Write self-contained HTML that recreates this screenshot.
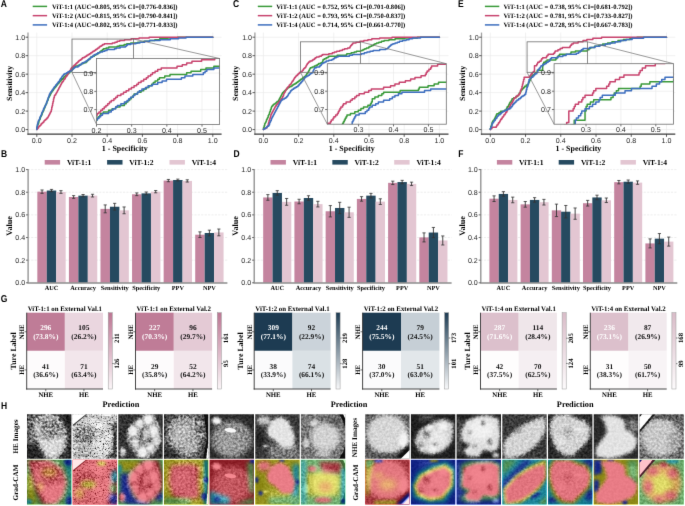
<!DOCTYPE html>
<html><head><meta charset="utf-8"><style>
html,body{margin:0;padding:0;background:#fff;}
svg{display:block;} text{text-rendering:geometricPrecision;}
</style></head><body>
<svg width="685" height="506" viewBox="0 0 685 506">
<defs><filter id="soft" x="0" y="0" width="685" height="506" filterUnits="userSpaceOnUse" color-interpolation-filters="sRGB"><feConvolveMatrix order="3" kernelMatrix="0 1 0 1 10 1 0 1 0" divisor="14" edgeMode="duplicate"/></filter></defs>
<g filter="url(#soft)">
<rect width="685" height="506" fill="#fff"/>
<text transform="translate(0.7 7.3) scale(0.86 1)" font-family='"Liberation Sans", sans-serif' font-size="9.9" font-weight="bold" fill="#000">A</text>
<text transform="translate(233.0 7.3) scale(0.86 1)" font-family='"Liberation Sans", sans-serif' font-size="9.9" font-weight="bold" fill="#000">C</text>
<text transform="translate(458.0 7.3) scale(0.86 1)" font-family='"Liberation Sans", sans-serif' font-size="9.9" font-weight="bold" fill="#000">E</text>
<text transform="translate(0.9 156.5) scale(0.86 1)" font-family='"Liberation Sans", sans-serif' font-size="9.9" font-weight="bold" fill="#000">B</text>
<text transform="translate(233.4 156.5) scale(0.86 1)" font-family='"Liberation Sans", sans-serif' font-size="9.9" font-weight="bold" fill="#000">D</text>
<text transform="translate(458.2 156.5) scale(0.86 1)" font-family='"Liberation Sans", sans-serif' font-size="9.9" font-weight="bold" fill="#000">F</text>
<text transform="translate(0.8 302.4) scale(0.86 1)" font-family='"Liberation Sans", sans-serif' font-size="9.9" font-weight="bold" fill="#000">G</text>
<text transform="translate(0.9 409.4) scale(0.86 1)" font-family='"Liberation Sans", sans-serif' font-size="9.9" font-weight="bold" fill="#000">H</text>
<line x1="36.8" y1="32.58" x2="36.8" y2="134.22" stroke="#ebebeb" stroke-width="0.7"/>
<line x1="28" y1="129.6" x2="221.6" y2="129.6" stroke="#ebebeb" stroke-width="0.7"/>
<line x1="72" y1="32.58" x2="72" y2="134.22" stroke="#ebebeb" stroke-width="0.7"/>
<line x1="28" y1="111.12" x2="221.6" y2="111.12" stroke="#ebebeb" stroke-width="0.7"/>
<line x1="107.2" y1="32.58" x2="107.2" y2="134.22" stroke="#ebebeb" stroke-width="0.7"/>
<line x1="28" y1="92.64" x2="221.6" y2="92.64" stroke="#ebebeb" stroke-width="0.7"/>
<line x1="142.4" y1="32.58" x2="142.4" y2="134.22" stroke="#ebebeb" stroke-width="0.7"/>
<line x1="28" y1="74.16" x2="221.6" y2="74.16" stroke="#ebebeb" stroke-width="0.7"/>
<line x1="177.6" y1="32.58" x2="177.6" y2="134.22" stroke="#ebebeb" stroke-width="0.7"/>
<line x1="28" y1="55.68" x2="221.6" y2="55.68" stroke="#ebebeb" stroke-width="0.7"/>
<line x1="212.8" y1="32.58" x2="212.8" y2="134.22" stroke="#ebebeb" stroke-width="0.7"/>
<line x1="28" y1="37.2" x2="221.6" y2="37.2" stroke="#ebebeb" stroke-width="0.7"/>
<clipPath id="clipm28"><rect x="28" y="32.58" width="193.6" height="101.64"/></clipPath>
<path d="M36.8,129.6 36.8,127.95 37.24,127.95 37.24,126.3 37.68,126.3 37.68,124.65 38.12,124.65 38.12,123.82 38.56,123.82 38.56,122.17 38.99,122.17 38.99,120.52 39.43,120.52 39.43,119.7 39.87,119.7 39.87,118.88 40.31,118.88 40.31,117.22 40.75,117.22 40.75,116.4 41.19,116.4 41.19,115.57 41.63,115.57 41.63,114.75 42.07,114.75 42.07,113.1 42.51,113.1 42.51,112.27 42.94,112.27 42.94,111.45 43.38,111.45 43.38,110.62 43.82,110.62 43.82,108.97 44.26,108.97 44.26,108.15 44.7,108.15 44.7,107.32 45.14,107.32 45.14,105.67 45.58,105.67 45.58,104.85 46.02,104.85 46.02,104.02 46.46,104.02 46.46,103.2 46.89,103.2 46.89,101.55 47.33,101.55 47.33,100.72 47.77,100.72 47.77,99.9 48.21,99.9 48.21,98.25 48.65,98.25 48.65,97.42 49.09,97.42 49.09,96.6 49.53,96.6 49.53,95.77 49.97,95.77 49.97,94.95 50.41,94.95 50.41,94.12 50.84,94.12 50.84,93.3 51.28,93.3 51.28,92.47 51.72,92.47 51.72,91.65 52.16,91.65 52.16,90.82 53.04,90.82 53.04,90 53.48,90 53.48,89.17 53.92,89.17 53.92,88.35 54.8,88.35 54.8,87.52 55.23,87.52 55.23,86.7 56.11,86.7 56.11,85.88 56.55,85.88 56.55,85.05 57.43,85.05 57.43,84.22 57.87,84.22 57.87,83.4 58.75,83.4 58.75,82.57 59.62,82.57 59.62,81.75 60.06,81.75 60.06,80.92 60.94,80.92 60.94,80.1 61.82,80.1 61.82,79.28 62.7,79.28 62.7,78.45 63.57,78.45 63.57,77.62 64.01,77.62 64.01,76.8 64.89,76.8 64.89,75.97 65.77,75.97 65.77,75.15 67.08,75.15 67.08,74.32 67.96,74.32 67.96,73.5 68.84,73.5 68.84,72.67 69.72,72.67 69.72,71.85 70.6,71.85 70.6,71.02 71.47,71.02 71.47,70.2 72.35,70.2 72.35,69.37 72.79,69.37 72.79,68.55 73.67,68.55 73.67,67.72 74.11,67.72 74.11,66.9 75.42,66.9 75.42,66.07 78.06,66.07 78.06,65.25 79.81,65.25 79.81,64.42 81.57,64.42 81.57,63.6 83.76,63.6 83.76,62.77 85.96,62.77 85.96,61.95 86.83,61.95 86.83,61.12 87.71,61.12 87.71,60.3 88.59,60.3 88.59,59.47 89.47,59.47 89.47,58.65 90.35,58.65 90.35,57.82 90.79,57.82 90.79,57 92.54,57 92.54,56.17 94.3,56.17 94.3,55.35 95.61,55.35 95.61,54.52 96.93,54.52 96.93,53.7 98.25,53.7 98.25,52.87 99.56,52.87 99.56,52.05 100.44,52.05 100.44,51.22 101.32,51.22 101.32,50.4 102.64,50.4 102.64,49.57 103.51,49.57 103.51,48.75 106.15,48.75 106.15,47.92 108.78,47.92 108.78,47.1 117.12,47.1 117.12,46.27 119.31,46.27 119.31,45.45 124.14,45.45 124.14,44.62 126.78,44.62 126.78,43.8 130.73,43.8 130.73,42.97 137.75,42.97 137.75,42.15 143.89,42.15 143.89,41.32 149.6,41.32 149.6,40.5 154.86,40.5 154.86,39.67 159.69,39.67 159.69,38.85 167.59,38.85 167.59,38.02 177.69,38.02 177.69,37.2 212.8,37.2" fill="none" stroke="#3a9a3a" stroke-width="1.5" stroke-linejoin="round" stroke-linecap="round" clip-path="url(#clipm28)"/>
<path d="M36.8,129.6 37.24,129.6 37.24,128.78 37.68,128.78 37.68,127.95 38.56,127.95 38.56,127.12 38.99,127.12 38.99,126.3 39.87,126.3 39.87,125.47 40.75,125.47 40.75,124.65 41.19,124.65 41.19,123.82 42.07,123.82 42.07,123 42.94,123 42.94,122.17 43.82,122.17 43.82,121.35 44.26,121.35 44.26,120.52 45.14,120.52 45.14,119.7 46.02,119.7 46.02,118.88 46.89,118.88 46.89,118.05 47.77,118.05 47.77,117.22 48.21,117.22 48.21,116.4 48.65,116.4 48.65,115.57 49.09,115.57 49.09,114.75 49.53,114.75 49.53,113.92 49.97,113.92 49.97,113.1 50.41,113.1 50.41,112.27 50.84,112.27 50.84,111.45 51.28,111.45 51.28,109.8 51.72,109.8 51.72,107.32 52.16,107.32 52.16,105.67 52.6,105.67 52.6,103.2 53.04,103.2 53.04,101.55 53.48,101.55 53.48,99.07 53.92,99.07 53.92,97.42 54.36,97.42 54.36,95.77 54.8,95.77 54.8,94.95 55.67,94.95 55.67,94.12 56.11,94.12 56.11,93.3 56.55,93.3 56.55,92.47 56.99,92.47 56.99,91.65 57.43,91.65 57.43,90.82 57.87,90.82 57.87,90 58.31,90 58.31,89.17 58.75,89.17 58.75,88.35 59.18,88.35 59.18,87.52 59.62,87.52 59.62,86.7 60.06,86.7 60.06,85.88 60.5,85.88 60.5,85.05 60.94,85.05 60.94,84.22 61.38,84.22 61.38,83.4 61.82,83.4 61.82,82.57 62.26,82.57 62.26,81.75 63.13,81.75 63.13,80.92 63.57,80.92 63.57,80.1 64.01,80.1 64.01,79.28 64.89,79.28 64.89,78.45 65.33,78.45 65.33,77.62 65.77,77.62 65.77,76.8 66.21,76.8 66.21,75.97 67.08,75.97 67.08,75.15 67.52,75.15 67.52,74.32 67.96,74.32 67.96,73.5 68.4,73.5 68.4,72.67 68.84,72.67 68.84,71.85 69.28,71.85 69.28,71.02 70.16,71.02 70.16,70.2 70.6,70.2 70.6,69.37 71.03,69.37 71.03,68.55 71.47,68.55 71.47,67.72 72.35,67.72 72.35,66.9 73.23,66.9 73.23,66.07 74.11,66.07 74.11,65.25 74.98,65.25 74.98,64.42 75.86,64.42 75.86,63.6 76.74,63.6 76.74,62.77 77.62,62.77 77.62,61.95 78.5,61.95 78.5,61.12 79.37,61.12 79.37,60.3 80.69,60.3 80.69,59.47 81.57,59.47 81.57,58.65 82.45,58.65 82.45,57.82 84.2,57.82 84.2,57 85.52,57 85.52,56.17 86.83,56.17 86.83,55.35 88.15,55.35 88.15,54.52 89.47,54.52 89.47,53.7 90.79,53.7 90.79,52.87 92.1,52.87 92.1,52.05 92.98,52.05 92.98,51.22 94.3,51.22 94.3,50.4 95.61,50.4 95.61,49.57 96.93,49.57 96.93,48.75 97.81,48.75 97.81,47.92 99.12,47.92 99.12,47.1 100,47.1 100,46.27 101.32,46.27 101.32,45.45 102.64,45.45 102.64,44.62 104.39,44.62 104.39,43.8 112.29,43.8 112.29,42.97 114.92,42.97 114.92,42.15 117.12,42.15 117.12,41.32 119.75,41.32 119.75,40.5 124.58,40.5 124.58,39.67 131.16,39.67 131.16,38.85 139.06,38.85 139.06,38.02 149.16,38.02 149.16,37.2 212.8,37.2" fill="none" stroke="#c8446e" stroke-width="1.5" stroke-linejoin="round" stroke-linecap="round" clip-path="url(#clipm28)"/>
<path d="M36.8,129.6 36.8,127.12 37.24,127.12 37.24,124.65 37.68,124.65 37.68,123 38.12,123 38.12,121.35 38.56,121.35 38.56,120.52 38.99,120.52 38.99,119.7 39.43,119.7 39.43,118.88 39.87,118.88 39.87,117.22 40.31,117.22 40.31,116.4 40.75,116.4 40.75,115.57 41.19,115.57 41.19,114.75 41.63,114.75 41.63,113.1 42.07,113.1 42.07,112.27 42.51,112.27 42.51,111.45 42.94,111.45 42.94,110.62 43.38,110.62 43.38,108.97 43.82,108.97 43.82,108.15 44.26,108.15 44.26,107.32 44.7,107.32 44.7,106.5 45.14,106.5 45.14,105.67 45.58,105.67 45.58,104.85 46.02,104.85 46.02,104.02 46.46,104.02 46.46,102.38 46.89,102.38 46.89,101.55 47.33,101.55 47.33,99.9 47.77,99.9 47.77,99.07 48.21,99.07 48.21,97.42 48.65,97.42 48.65,96.6 49.09,96.6 49.09,94.95 49.53,94.95 49.53,94.12 49.97,94.12 49.97,93.3 50.41,93.3 50.41,92.47 50.84,92.47 50.84,91.65 51.72,91.65 51.72,90.82 52.16,90.82 52.16,90 52.6,90 52.6,89.17 53.48,89.17 53.48,88.35 53.92,88.35 53.92,87.52 54.36,87.52 54.36,86.7 55.23,86.7 55.23,85.88 55.67,85.88 55.67,85.05 56.55,85.05 56.55,84.22 56.99,84.22 56.99,83.4 57.87,83.4 57.87,82.57 58.31,82.57 58.31,81.75 59.18,81.75 59.18,80.92 59.62,80.92 59.62,80.1 60.06,80.1 60.06,79.28 60.5,79.28 60.5,78.45 61.38,78.45 61.38,77.62 61.82,77.62 61.82,76.8 62.26,76.8 62.26,75.97 63.13,75.97 63.13,75.15 63.57,75.15 63.57,74.32 64.89,74.32 64.89,73.5 66.65,73.5 66.65,72.67 67.96,72.67 67.96,71.85 69.72,71.85 69.72,71.02 71.47,71.02 71.47,70.2 72.35,70.2 72.35,69.37 73.23,69.37 73.23,68.55 74.11,68.55 74.11,67.72 74.98,67.72 74.98,66.9 78.06,66.9 78.06,66.07 79.37,66.07 79.37,65.25 80.25,65.25 80.25,64.42 81.57,64.42 81.57,63.6 82.45,63.6 82.45,62.77 84.2,62.77 84.2,61.95 85.96,61.95 85.96,61.12 87.27,61.12 87.27,60.3 88.15,60.3 88.15,59.47 89.03,59.47 89.03,58.65 90.35,58.65 90.35,57.82 91.22,57.82 91.22,57 92.54,57 92.54,56.17 93.42,56.17 93.42,55.35 94.74,55.35 94.74,54.52 96.49,54.52 96.49,53.7 97.81,53.7 97.81,52.87 100,52.87 100,52.05 102.64,52.05 102.64,51.22 104.83,51.22 104.83,50.4 107.02,50.4 107.02,49.57 114.49,49.57 114.49,48.75 116.24,48.75 116.24,47.92 120.19,47.92 120.19,47.1 125.46,47.1 125.46,46.27 126.34,46.27 126.34,45.45 127.21,45.45 127.21,44.62 130.73,44.62 130.73,43.8 135.99,43.8 135.99,42.97 139.94,42.97 139.94,42.15 144.77,42.15 144.77,41.32 149.6,41.32 149.6,40.5 160.13,40.5 160.13,39.67 170.23,39.67 170.23,38.85 178.57,38.85 178.57,38.02 186.03,38.02 186.03,37.2 212.8,37.2" fill="none" stroke="#3d6ebf" stroke-width="1.5" stroke-linejoin="round" stroke-linecap="round" clip-path="url(#clipm28)"/>
<line x1="28" y1="32.58" x2="28" y2="134.82" stroke="#a0a0a0" stroke-width="1.3"/>
<line x1="27.4" y1="134.22" x2="221.6" y2="134.22" stroke="#3a3a3a" stroke-width="1.2"/>
<line x1="25.6" y1="129.6" x2="28" y2="129.6" stroke="#333" stroke-width="0.8"/>
<text x="25.1" y="132.1" font-family='"Liberation Sans", sans-serif' font-size="7.1" font-weight="normal" text-anchor="end" fill="#262626">0.0</text>
<line x1="36.8" y1="134.22" x2="36.8" y2="136.82" stroke="#333" stroke-width="0.8"/>
<text x="36.8" y="143.22" font-family='"Liberation Sans", sans-serif' font-size="7.1" font-weight="normal" text-anchor="middle" fill="#262626">0.0</text>
<line x1="25.6" y1="111.12" x2="28" y2="111.12" stroke="#333" stroke-width="0.8"/>
<text x="25.1" y="113.62" font-family='"Liberation Sans", sans-serif' font-size="7.1" font-weight="normal" text-anchor="end" fill="#262626">0.2</text>
<line x1="72" y1="134.22" x2="72" y2="136.82" stroke="#333" stroke-width="0.8"/>
<text x="72" y="143.22" font-family='"Liberation Sans", sans-serif' font-size="7.1" font-weight="normal" text-anchor="middle" fill="#262626">0.2</text>
<line x1="25.6" y1="92.64" x2="28" y2="92.64" stroke="#333" stroke-width="0.8"/>
<text x="25.1" y="95.14" font-family='"Liberation Sans", sans-serif' font-size="7.1" font-weight="normal" text-anchor="end" fill="#262626">0.4</text>
<line x1="107.2" y1="134.22" x2="107.2" y2="136.82" stroke="#333" stroke-width="0.8"/>
<text x="107.2" y="143.22" font-family='"Liberation Sans", sans-serif' font-size="7.1" font-weight="normal" text-anchor="middle" fill="#262626">0.4</text>
<line x1="25.6" y1="74.16" x2="28" y2="74.16" stroke="#333" stroke-width="0.8"/>
<text x="25.1" y="76.66" font-family='"Liberation Sans", sans-serif' font-size="7.1" font-weight="normal" text-anchor="end" fill="#262626">0.6</text>
<line x1="142.4" y1="134.22" x2="142.4" y2="136.82" stroke="#333" stroke-width="0.8"/>
<text x="142.4" y="143.22" font-family='"Liberation Sans", sans-serif' font-size="7.1" font-weight="normal" text-anchor="middle" fill="#262626">0.6</text>
<line x1="25.6" y1="55.68" x2="28" y2="55.68" stroke="#333" stroke-width="0.8"/>
<text x="25.1" y="58.18" font-family='"Liberation Sans", sans-serif' font-size="7.1" font-weight="normal" text-anchor="end" fill="#262626">0.8</text>
<line x1="177.6" y1="134.22" x2="177.6" y2="136.82" stroke="#333" stroke-width="0.8"/>
<text x="177.6" y="143.22" font-family='"Liberation Sans", sans-serif' font-size="7.1" font-weight="normal" text-anchor="middle" fill="#262626">0.8</text>
<line x1="25.6" y1="37.2" x2="28" y2="37.2" stroke="#333" stroke-width="0.8"/>
<text x="25.1" y="39.7" font-family='"Liberation Sans", sans-serif' font-size="7.1" font-weight="normal" text-anchor="end" fill="#262626">1.0</text>
<line x1="212.8" y1="134.22" x2="212.8" y2="136.82" stroke="#333" stroke-width="0.8"/>
<text x="212.8" y="143.22" font-family='"Liberation Sans", sans-serif' font-size="7.1" font-weight="normal" text-anchor="middle" fill="#262626">1.0</text>
<text x="124.8" y="151" font-family='"Liberation Serif", serif' font-size="7.95" font-weight="bold" text-anchor="middle" fill="#000">1 - Specificity</text>
<text x="12.3" y="83.4" font-family='"Liberation Serif", serif' font-size="7.9" font-weight="bold" text-anchor="middle" fill="#000" transform="rotate(-90 12.3 83.4)">Sensitivity</text>
<rect x="72" y="39.05" width="61.6" height="33.36" fill="none" stroke="#6e6e6e" stroke-width="0.8"/>
<line x1="133.6" y1="39.05" x2="219.6" y2="58.5" stroke="#6e6e6e" stroke-width="0.7"/>
<line x1="72" y1="72.4" x2="96.5" y2="124.4" stroke="#6e6e6e" stroke-width="0.7"/>
<rect x="96.5" y="58.5" width="123.1" height="65.9" fill="#fff"/>
<line x1="96.5" y1="58.5" x2="96.5" y2="124.4" stroke="#ebebeb" stroke-width="0.7"/>
<line x1="96.5" y1="124.4" x2="96.5" y2="126.6" stroke="#333" stroke-width="0.7"/>
<text x="96.5" y="132.6" font-family='"Liberation Sans", sans-serif' font-size="7.1" font-weight="normal" text-anchor="middle" fill="#262626">0.2</text>
<line x1="131.67" y1="58.5" x2="131.67" y2="124.4" stroke="#ebebeb" stroke-width="0.7"/>
<line x1="131.67" y1="124.4" x2="131.67" y2="126.6" stroke="#333" stroke-width="0.7"/>
<text x="131.67" y="132.6" font-family='"Liberation Sans", sans-serif' font-size="7.1" font-weight="normal" text-anchor="middle" fill="#262626">0.3</text>
<line x1="166.84" y1="58.5" x2="166.84" y2="124.4" stroke="#ebebeb" stroke-width="0.7"/>
<line x1="166.84" y1="124.4" x2="166.84" y2="126.6" stroke="#333" stroke-width="0.7"/>
<text x="166.84" y="132.6" font-family='"Liberation Sans", sans-serif' font-size="7.1" font-weight="normal" text-anchor="middle" fill="#262626">0.4</text>
<line x1="202.01" y1="58.5" x2="202.01" y2="124.4" stroke="#ebebeb" stroke-width="0.7"/>
<line x1="202.01" y1="124.4" x2="202.01" y2="126.6" stroke="#333" stroke-width="0.7"/>
<text x="202.01" y="132.6" font-family='"Liberation Sans", sans-serif' font-size="7.1" font-weight="normal" text-anchor="middle" fill="#262626">0.5</text>
<line x1="96.5" y1="109.61" x2="219.6" y2="109.61" stroke="#ebebeb" stroke-width="0.7"/>
<line x1="94.3" y1="109.61" x2="96.5" y2="109.61" stroke="#333" stroke-width="0.7"/>
<text x="93.3" y="112.11" font-family='"Liberation Sans", sans-serif' font-size="7.1" font-weight="normal" text-anchor="end" fill="#262626">0.7</text>
<line x1="96.5" y1="91.36" x2="219.6" y2="91.36" stroke="#ebebeb" stroke-width="0.7"/>
<line x1="94.3" y1="91.36" x2="96.5" y2="91.36" stroke="#333" stroke-width="0.7"/>
<text x="93.3" y="93.86" font-family='"Liberation Sans", sans-serif' font-size="7.1" font-weight="normal" text-anchor="end" fill="#262626">0.8</text>
<line x1="96.5" y1="73.1" x2="219.6" y2="73.1" stroke="#ebebeb" stroke-width="0.7"/>
<line x1="94.3" y1="73.1" x2="96.5" y2="73.1" stroke="#333" stroke-width="0.7"/>
<text x="93.3" y="75.6" font-family='"Liberation Sans", sans-serif' font-size="7.1" font-weight="normal" text-anchor="end" fill="#262626">0.9</text>
<clipPath id="clipi28"><rect x="96.5" y="58.5" width="123.1" height="65.9"/></clipPath>
<path d="M26.16,237.4 26.16,234.14 27.03,234.14 27.03,230.88 27.91,230.88 27.91,227.62 28.79,227.62 28.79,225.99 29.67,225.99 29.67,222.73 30.54,222.73 30.54,219.47 31.42,219.47 31.42,217.84 32.3,217.84 32.3,216.21 33.17,216.21 33.17,212.95 34.05,212.95 34.05,211.32 34.93,211.32 34.93,209.69 35.81,209.69 35.81,208.06 36.68,208.06 36.68,204.8 37.56,204.8 37.56,203.17 38.44,203.17 38.44,201.54 39.31,201.54 39.31,199.91 40.19,199.91 40.19,196.65 41.07,196.65 41.07,195.02 41.94,195.02 41.94,193.39 42.82,193.39 42.82,190.13 43.7,190.13 43.7,188.5 44.58,188.5 44.58,186.87 45.45,186.87 45.45,185.24 46.33,185.24 46.33,181.98 47.21,181.98 47.21,180.35 48.08,180.35 48.08,178.72 48.96,178.72 48.96,175.46 49.84,175.46 49.84,173.83 50.72,173.83 50.72,172.2 51.59,172.2 51.59,170.57 52.47,170.57 52.47,168.94 53.35,168.94 53.35,167.31 54.22,167.31 54.22,165.68 55.1,165.68 55.1,164.05 55.98,164.05 55.98,162.42 56.86,162.42 56.86,160.79 58.61,160.79 58.61,159.16 59.49,159.16 59.49,157.53 60.36,157.53 60.36,155.9 62.12,155.9 62.12,154.27 63,154.27 63,152.64 64.75,152.64 64.75,151.01 65.63,151.01 65.63,149.38 67.38,149.38 67.38,147.75 68.26,147.75 68.26,146.12 70.01,146.12 70.01,144.49 71.77,144.49 71.77,142.86 72.64,142.86 72.64,141.23 74.4,141.23 74.4,139.6 76.15,139.6 76.15,137.97 77.91,137.97 77.91,136.34 79.66,136.34 79.66,134.71 80.54,134.71 80.54,133.08 82.29,133.08 82.29,131.45 84.05,131.45 84.05,129.82 86.68,129.82 86.68,128.19 88.43,128.19 88.43,126.56 90.18,126.56 90.18,124.93 91.94,124.93 91.94,123.3 93.69,123.3 93.69,121.67 95.45,121.67 95.45,120.04 97.2,120.04 97.2,118.42 98.08,118.42 98.08,116.79 99.83,116.79 99.83,115.16 100.71,115.16 100.71,113.53 103.34,113.53 103.34,111.9 108.6,111.9 108.6,110.27 112.11,110.27 112.11,108.64 115.62,108.64 115.62,107.01 120.01,107.01 120.01,105.38 124.39,105.38 124.39,103.75 126.15,103.75 126.15,102.12 127.9,102.12 127.9,100.49 129.65,100.49 129.65,98.86 131.41,98.86 131.41,97.23 133.16,97.23 133.16,95.6 134.04,95.6 134.04,93.97 137.55,93.97 137.55,92.34 141.06,92.34 141.06,90.71 143.69,90.71 143.69,89.08 146.32,89.08 146.32,87.45 148.95,87.45 148.95,85.82 151.58,85.82 151.58,84.19 153.34,84.19 153.34,82.56 155.09,82.56 155.09,80.93 157.72,80.93 157.72,79.3 159.48,79.3 159.48,77.67 164.74,77.67 164.74,76.04 170,76.04 170,74.41 186.67,74.41 186.67,72.78 191.05,72.78 191.05,71.15 200.7,71.15 200.7,69.52 205.96,69.52 205.96,67.89 213.86,67.89 213.86,66.26 227.89,66.26 227.89,64.63 240.17,64.63 240.17,63 251.57,63 251.57,61.37 262.1,61.37 262.1,59.74 271.74,59.74 271.74,58.11 287.53,58.11 287.53,56.48 307.7,56.48 307.7,54.85 377.87,54.85" fill="none" stroke="#3a9a3a" stroke-width="1.5" stroke-linejoin="round" clip-path="url(#clipi28)"/>
<path d="M26.16,237.4 27.03,237.4 27.03,235.77 27.91,235.77 27.91,234.14 29.67,234.14 29.67,232.51 30.54,232.51 30.54,230.88 32.3,230.88 32.3,229.25 34.05,229.25 34.05,227.62 34.93,227.62 34.93,225.99 36.68,225.99 36.68,224.36 38.44,224.36 38.44,222.73 40.19,222.73 40.19,221.1 41.07,221.1 41.07,219.47 42.82,219.47 42.82,217.84 44.58,217.84 44.58,216.21 46.33,216.21 46.33,214.58 48.08,214.58 48.08,212.95 48.96,212.95 48.96,211.32 49.84,211.32 49.84,209.69 50.72,209.69 50.72,208.06 51.59,208.06 51.59,206.43 52.47,206.43 52.47,204.8 53.35,204.8 53.35,203.17 54.22,203.17 54.22,201.54 55.1,201.54 55.1,198.28 55.98,198.28 55.98,193.39 56.86,193.39 56.86,190.13 57.73,190.13 57.73,185.24 58.61,185.24 58.61,181.98 59.49,181.98 59.49,177.09 60.36,177.09 60.36,173.83 61.24,173.83 61.24,170.57 62.12,170.57 62.12,168.94 63.87,168.94 63.87,167.31 64.75,167.31 64.75,165.68 65.63,165.68 65.63,164.05 66.5,164.05 66.5,162.42 67.38,162.42 67.38,160.79 68.26,160.79 68.26,159.16 69.13,159.16 69.13,157.53 70.01,157.53 70.01,155.9 70.89,155.9 70.89,154.27 71.77,154.27 71.77,152.64 72.64,152.64 72.64,151.01 73.52,151.01 73.52,149.38 74.4,149.38 74.4,147.75 75.27,147.75 75.27,146.12 76.15,146.12 76.15,144.49 77.03,144.49 77.03,142.86 78.78,142.86 78.78,141.23 79.66,141.23 79.66,139.6 80.54,139.6 80.54,137.97 82.29,137.97 82.29,136.34 83.17,136.34 83.17,134.71 84.05,134.71 84.05,133.08 84.92,133.08 84.92,131.45 86.68,131.45 86.68,129.82 87.55,129.82 87.55,128.19 88.43,128.19 88.43,126.56 89.31,126.56 89.31,124.93 90.18,124.93 90.18,123.3 91.06,123.3 91.06,121.67 92.82,121.67 92.82,120.04 93.69,120.04 93.69,118.42 94.57,118.42 94.57,116.79 95.45,116.79 95.45,115.16 97.2,115.16 97.2,113.53 98.96,113.53 98.96,111.9 100.71,111.9 100.71,110.27 102.46,110.27 102.46,108.64 104.22,108.64 104.22,107.01 105.97,107.01 105.97,105.38 107.73,105.38 107.73,103.75 109.48,103.75 109.48,102.12 111.24,102.12 111.24,100.49 113.87,100.49 113.87,98.86 115.62,98.86 115.62,97.23 117.37,97.23 117.37,95.6 120.88,95.6 120.88,93.97 123.51,93.97 123.51,92.34 126.15,92.34 126.15,90.71 128.78,90.71 128.78,89.08 131.41,89.08 131.41,87.45 134.04,87.45 134.04,85.82 136.67,85.82 136.67,84.19 138.43,84.19 138.43,82.56 141.06,82.56 141.06,80.93 143.69,80.93 143.69,79.3 146.32,79.3 146.32,77.67 148.07,77.67 148.07,76.04 150.7,76.04 150.7,74.41 152.46,74.41 152.46,72.78 155.09,72.78 155.09,71.15 157.72,71.15 157.72,69.52 161.23,69.52 161.23,67.89 177.02,67.89 177.02,66.26 182.28,66.26 182.28,64.63 186.67,64.63 186.67,63 191.93,63 191.93,61.37 201.58,61.37 201.58,59.74 214.73,59.74 214.73,58.11 230.52,58.11 230.52,56.48 250.69,56.48 250.69,54.85 377.87,54.85" fill="none" stroke="#c8446e" stroke-width="1.5" stroke-linejoin="round" clip-path="url(#clipi28)"/>
<path d="M26.16,237.4 26.16,232.51 27.03,232.51 27.03,227.62 27.91,227.62 27.91,224.36 28.79,224.36 28.79,221.1 29.67,221.1 29.67,219.47 30.54,219.47 30.54,217.84 31.42,217.84 31.42,216.21 32.3,216.21 32.3,212.95 33.17,212.95 33.17,211.32 34.05,211.32 34.05,209.69 34.93,209.69 34.93,208.06 35.81,208.06 35.81,204.8 36.68,204.8 36.68,203.17 37.56,203.17 37.56,201.54 38.44,201.54 38.44,199.91 39.31,199.91 39.31,196.65 40.19,196.65 40.19,195.02 41.07,195.02 41.07,193.39 41.94,193.39 41.94,191.76 42.82,191.76 42.82,190.13 43.7,190.13 43.7,188.5 44.58,188.5 44.58,186.87 45.45,186.87 45.45,183.61 46.33,183.61 46.33,181.98 47.21,181.98 47.21,178.72 48.08,178.72 48.08,177.09 48.96,177.09 48.96,173.83 49.84,173.83 49.84,172.2 50.72,172.2 50.72,168.94 51.59,168.94 51.59,167.31 52.47,167.31 52.47,165.68 53.35,165.68 53.35,164.05 54.22,164.05 54.22,162.42 55.98,162.42 55.98,160.79 56.86,160.79 56.86,159.16 57.73,159.16 57.73,157.53 59.49,157.53 59.49,155.9 60.36,155.9 60.36,154.27 61.24,154.27 61.24,152.64 63,152.64 63,151.01 63.87,151.01 63.87,149.38 65.63,149.38 65.63,147.75 66.5,147.75 66.5,146.12 68.26,146.12 68.26,144.49 69.13,144.49 69.13,142.86 70.89,142.86 70.89,141.23 71.77,141.23 71.77,139.6 72.64,139.6 72.64,137.97 73.52,137.97 73.52,136.34 75.27,136.34 75.27,134.71 76.15,134.71 76.15,133.08 77.03,133.08 77.03,131.45 78.78,131.45 78.78,129.82 79.66,129.82 79.66,128.19 82.29,128.19 82.29,126.56 85.8,126.56 85.8,124.93 88.43,124.93 88.43,123.3 91.94,123.3 91.94,121.67 95.45,121.67 95.45,120.04 97.2,120.04 97.2,118.42 98.96,118.42 98.96,116.79 100.71,116.79 100.71,115.16 102.46,115.16 102.46,113.53 108.6,113.53 108.6,111.9 111.24,111.9 111.24,110.27 112.99,110.27 112.99,108.64 115.62,108.64 115.62,107.01 117.37,107.01 117.37,105.38 120.88,105.38 120.88,103.75 124.39,103.75 124.39,102.12 127.02,102.12 127.02,100.49 128.78,100.49 128.78,98.86 130.53,98.86 130.53,97.23 133.16,97.23 133.16,95.6 134.92,95.6 134.92,93.97 137.55,93.97 137.55,92.34 139.3,92.34 139.3,90.71 141.93,90.71 141.93,89.08 145.44,89.08 145.44,87.45 148.07,87.45 148.07,85.82 152.46,85.82 152.46,84.19 157.72,84.19 157.72,82.56 162.11,82.56 162.11,80.93 166.49,80.93 166.49,79.3 181.4,79.3 181.4,77.67 184.91,77.67 184.91,76.04 192.8,76.04 192.8,74.41 203.33,74.41 203.33,72.78 205.08,72.78 205.08,71.15 206.84,71.15 206.84,69.52 213.86,69.52 213.86,67.89 224.38,67.89 224.38,66.26 232.27,66.26 232.27,64.63 241.92,64.63 241.92,63 251.57,63 251.57,61.37 272.62,61.37 272.62,59.74 292.79,59.74 292.79,58.11 309.46,58.11 309.46,56.48 324.37,56.48 324.37,54.85 377.87,54.85" fill="none" stroke="#3d6ebf" stroke-width="1.5" stroke-linejoin="round" clip-path="url(#clipi28)"/>
<rect x="96.5" y="58.5" width="123.1" height="65.9" fill="none" stroke="#6e6e6e" stroke-width="0.8"/>
<line x1="32.7" y1="6.4" x2="47.1" y2="6.4" stroke="#3a9a3a" stroke-width="1.5"/>
<text x="51.9" y="8.7" font-family='"Liberation Serif", serif' font-size="6.6" font-weight="bold" text-anchor="start" fill="#000">ViT-1:1 (AUC=0.805, 95% CI=[0.776-0.836])</text>
<line x1="32.7" y1="15.65" x2="47.1" y2="15.65" stroke="#c8446e" stroke-width="1.5"/>
<text x="51.9" y="17.95" font-family='"Liberation Serif", serif' font-size="6.6" font-weight="bold" text-anchor="start" fill="#000">ViT-1:2 (AUC=0.815, 95% CI=[0.790-0.841])</text>
<line x1="32.7" y1="24.9" x2="47.1" y2="24.9" stroke="#3d6ebf" stroke-width="1.5"/>
<text x="51.9" y="27.2" font-family='"Liberation Serif", serif' font-size="6.6" font-weight="bold" text-anchor="start" fill="#000">ViT-1:4 (AUC=0.802, 95% CI=[0.771-0.833])</text>
<line x1="263.4" y1="32.58" x2="263.4" y2="134.22" stroke="#ebebeb" stroke-width="0.7"/>
<line x1="254.9" y1="129.6" x2="448.5" y2="129.6" stroke="#ebebeb" stroke-width="0.7"/>
<line x1="298.6" y1="32.58" x2="298.6" y2="134.22" stroke="#ebebeb" stroke-width="0.7"/>
<line x1="254.9" y1="111.12" x2="448.5" y2="111.12" stroke="#ebebeb" stroke-width="0.7"/>
<line x1="333.8" y1="32.58" x2="333.8" y2="134.22" stroke="#ebebeb" stroke-width="0.7"/>
<line x1="254.9" y1="92.64" x2="448.5" y2="92.64" stroke="#ebebeb" stroke-width="0.7"/>
<line x1="369" y1="32.58" x2="369" y2="134.22" stroke="#ebebeb" stroke-width="0.7"/>
<line x1="254.9" y1="74.16" x2="448.5" y2="74.16" stroke="#ebebeb" stroke-width="0.7"/>
<line x1="404.2" y1="32.58" x2="404.2" y2="134.22" stroke="#ebebeb" stroke-width="0.7"/>
<line x1="254.9" y1="55.68" x2="448.5" y2="55.68" stroke="#ebebeb" stroke-width="0.7"/>
<line x1="439.4" y1="32.58" x2="439.4" y2="134.22" stroke="#ebebeb" stroke-width="0.7"/>
<line x1="254.9" y1="37.2" x2="448.5" y2="37.2" stroke="#ebebeb" stroke-width="0.7"/>
<clipPath id="clipm254"><rect x="254.9" y="32.58" width="193.6" height="101.64"/></clipPath>
<path d="M263.4,129.6 263.4,127.95 263.84,127.95 263.84,127.12 264.28,127.12 264.28,125.47 264.72,125.47 264.72,123.82 265.16,123.82 265.16,123 265.59,123 265.59,122.17 266.03,122.17 266.03,121.35 266.47,121.35 266.47,119.7 266.91,119.7 266.91,118.88 267.35,118.88 267.35,118.05 267.79,118.05 267.79,117.22 268.23,117.22 268.23,115.57 268.67,115.57 268.67,114.75 269.11,114.75 269.11,113.92 269.54,113.92 269.54,112.27 269.98,112.27 269.98,111.45 270.42,111.45 270.42,109.8 270.86,109.8 270.86,108.97 271.3,108.97 271.3,107.32 271.74,107.32 271.74,106.5 272.18,106.5 272.18,105.67 273.06,105.67 273.06,104.85 273.93,104.85 273.93,104.02 275.25,104.02 275.25,103.2 276.13,103.2 276.13,102.38 277.01,102.38 277.01,101.55 278.32,101.55 278.32,100.72 278.76,100.72 278.76,99.9 279.2,99.9 279.2,99.07 279.64,99.07 279.64,98.25 280.08,98.25 280.08,97.42 280.52,97.42 280.52,96.6 280.96,96.6 280.96,95.77 281.4,95.77 281.4,94.95 281.83,94.95 281.83,94.12 282.27,94.12 282.27,93.3 282.71,93.3 282.71,92.47 283.59,92.47 283.59,91.65 284.47,91.65 284.47,90.82 285.35,90.82 285.35,90 286.22,90 286.22,89.17 287.1,89.17 287.1,88.35 287.98,88.35 287.98,87.52 289.3,87.52 289.3,86.7 291.05,86.7 291.05,85.88 292.37,85.88 292.37,85.05 293.68,85.05 293.68,84.22 295,84.22 295,83.4 296.32,83.4 296.32,82.57 297.63,82.57 297.63,81.75 298.51,81.75 298.51,80.92 299.83,80.92 299.83,80.1 300.71,80.1 300.71,79.28 302.02,79.28 302.02,78.45 302.9,78.45 302.9,77.62 304.22,77.62 304.22,76.8 305.1,76.8 305.1,75.97 305.97,75.97 305.97,75.15 306.41,75.15 306.41,74.32 306.85,74.32 306.85,73.5 307.73,73.5 307.73,72.67 308.17,72.67 308.17,71.85 308.61,71.85 308.61,71.02 309.05,71.02 309.05,70.2 309.48,70.2 309.48,69.37 309.92,69.37 309.92,68.55 310.36,68.55 310.36,67.72 312.12,67.72 312.12,66.9 314.31,66.9 314.31,66.07 316.07,66.07 316.07,65.25 317.39,65.25 317.39,64.42 318.7,64.42 318.7,63.6 320.9,63.6 320.9,62.77 322.21,62.77 322.21,61.95 322.65,61.95 322.65,61.12 323.09,61.12 323.09,59.47 324.41,59.47 324.41,58.65 326.16,58.65 326.16,57.82 327.92,57.82 327.92,57 328.8,57 328.8,56.17 337.14,56.17 337.14,55.35 346.35,55.35 346.35,54.52 346.79,54.52 346.79,53.7 351.18,53.7 351.18,52.87 354.25,52.87 354.25,52.05 356.45,52.05 356.45,51.22 360.84,51.22 360.84,50.4 363.03,50.4 363.03,49.57 364.79,49.57 364.79,48.75 366.54,48.75 366.54,47.92 368.74,47.92 368.74,47.1 370.05,47.1 370.05,46.27 371.81,46.27 371.81,45.45 373.56,45.45 373.56,44.62 374.88,44.62 374.88,43.8 376.64,43.8 376.64,42.97 378.83,42.97 378.83,42.15 381.46,42.15 381.46,41.32 384.1,41.32 384.1,40.5 388.93,40.5 388.93,39.67 395.07,39.67 395.07,38.85 404.73,38.85 404.73,38.02 417.45,38.02 417.45,37.2 439.4,37.2" fill="none" stroke="#3a9a3a" stroke-width="1.5" stroke-linejoin="round" stroke-linecap="round" clip-path="url(#clipm254)"/>
<path d="M263.4,129.6 263.84,129.6 263.84,128.78 265.16,128.78 265.16,127.95 266.91,127.95 266.91,127.12 267.35,127.12 267.35,126.3 267.79,126.3 267.79,125.47 268.23,125.47 268.23,123.82 268.67,123.82 268.67,122.17 269.11,122.17 269.11,120.52 269.54,120.52 269.54,118.88 269.98,118.88 269.98,118.05 270.42,118.05 270.42,116.4 270.86,116.4 270.86,114.75 271.3,114.75 271.3,113.92 271.74,113.92 271.74,113.1 272.18,113.1 272.18,112.27 272.62,112.27 272.62,111.45 273.06,111.45 273.06,110.62 273.49,110.62 273.49,109.8 273.93,109.8 273.93,108.97 274.37,108.97 274.37,108.15 274.81,108.15 274.81,107.32 275.25,107.32 275.25,106.5 275.69,106.5 275.69,105.67 276.57,105.67 276.57,104.85 277.01,104.85 277.01,104.02 277.88,104.02 277.88,103.2 278.32,103.2 278.32,102.38 279.2,102.38 279.2,101.55 279.64,101.55 279.64,100.72 280.52,100.72 280.52,99.9 280.96,99.9 280.96,99.07 281.83,99.07 281.83,98.25 282.27,98.25 282.27,97.42 282.71,97.42 282.71,96.6 283.15,96.6 283.15,95.77 283.59,95.77 283.59,94.12 284.03,94.12 284.03,93.3 284.47,93.3 284.47,92.47 284.91,92.47 284.91,91.65 285.35,91.65 285.35,90.82 285.78,90.82 285.78,90 286.22,90 286.22,89.17 286.66,89.17 286.66,88.35 287.54,88.35 287.54,87.52 287.98,87.52 287.98,86.7 288.86,86.7 288.86,85.88 289.3,85.88 289.3,85.05 290.17,85.05 290.17,84.22 291.05,84.22 291.05,83.4 291.49,83.4 291.49,82.57 291.93,82.57 291.93,81.75 292.37,81.75 292.37,80.92 293.25,80.92 293.25,80.1 293.68,80.1 293.68,79.28 294.12,79.28 294.12,78.45 294.56,78.45 294.56,77.62 295.44,77.62 295.44,76.8 295.88,76.8 295.88,75.97 296.76,75.97 296.76,75.15 297.63,75.15 297.63,74.32 298.51,74.32 298.51,73.5 299.39,73.5 299.39,72.67 300.27,72.67 300.27,71.85 302.02,71.85 302.02,71.02 302.46,71.02 302.46,70.2 303.34,70.2 303.34,69.37 303.78,69.37 303.78,68.55 304.66,68.55 304.66,67.72 305.53,67.72 305.53,66.9 305.97,66.9 305.97,66.07 306.41,66.07 306.41,65.25 306.85,65.25 306.85,64.42 307.29,64.42 307.29,63.6 308.17,63.6 308.17,62.77 308.61,62.77 308.61,61.95 309.92,61.95 309.92,61.12 312.12,61.12 312.12,60.3 313,60.3 313,59.47 314.31,59.47 314.31,58.65 315.19,58.65 315.19,57.82 316.51,57.82 316.51,57 319.14,57 319.14,56.17 321.34,56.17 321.34,55.35 322.65,55.35 322.65,54.52 328.8,54.52 328.8,53.7 332.31,53.7 332.31,52.87 334.5,52.87 334.5,52.05 336.7,52.05 336.7,51.22 339.77,51.22 339.77,50.4 342.4,50.4 342.4,49.57 344.6,49.57 344.6,48.75 347.67,48.75 347.67,47.92 349.86,47.92 349.86,47.1 350.3,47.1 350.3,46.27 350.74,46.27 350.74,45.45 351.62,45.45 351.62,44.62 352.5,44.62 352.5,43.8 352.94,43.8 352.94,42.97 356.01,42.97 356.01,42.15 359.96,42.15 359.96,41.32 363.91,41.32 363.91,40.5 367.86,40.5 367.86,39.67 371.81,39.67 371.81,38.85 379.71,38.85 379.71,38.02 392,38.02 392,37.2 439.4,37.2" fill="none" stroke="#c8446e" stroke-width="1.5" stroke-linejoin="round" stroke-linecap="round" clip-path="url(#clipm254)"/>
<path d="M263.4,129.6 263.84,129.6 263.84,128.78 265.16,128.78 265.16,127.95 266.47,127.95 266.47,127.12 267.35,127.12 267.35,126.3 268.67,126.3 268.67,125.47 269.11,125.47 269.11,124.65 269.54,124.65 269.54,123 269.98,123 269.98,122.17 270.42,122.17 270.42,121.35 270.86,121.35 270.86,120.52 271.3,120.52 271.3,118.88 271.74,118.88 271.74,118.05 272.18,118.05 272.18,117.22 272.62,117.22 272.62,116.4 273.06,116.4 273.06,115.57 273.49,115.57 273.49,114.75 273.93,114.75 273.93,113.92 274.37,113.92 274.37,113.1 274.81,113.1 274.81,112.27 275.25,112.27 275.25,111.45 275.69,111.45 275.69,110.62 276.13,110.62 276.13,109.8 276.57,109.8 276.57,108.97 277.01,108.97 277.01,108.15 277.44,108.15 277.44,107.32 277.88,107.32 277.88,106.5 278.32,106.5 278.32,105.67 278.76,105.67 278.76,104.85 279.2,104.85 279.2,104.02 279.64,104.02 279.64,103.2 280.08,103.2 280.08,102.38 280.52,102.38 280.52,101.55 280.96,101.55 280.96,100.72 281.4,100.72 281.4,99.9 282.71,99.9 282.71,99.07 284.47,99.07 284.47,98.25 285.78,98.25 285.78,97.42 286.66,97.42 286.66,96.6 287.54,96.6 287.54,95.77 287.98,95.77 287.98,94.95 288.42,94.95 288.42,94.12 288.86,94.12 288.86,93.3 289.73,93.3 289.73,92.47 290.17,92.47 290.17,91.65 290.61,91.65 290.61,90.82 291.49,90.82 291.49,90 292.37,90 292.37,89.17 293.68,89.17 293.68,88.35 295,88.35 295,87.52 296.32,87.52 296.32,86.7 297.63,86.7 297.63,85.88 298.51,85.88 298.51,85.05 299.39,85.05 299.39,84.22 299.83,84.22 299.83,83.4 300.71,83.4 300.71,82.57 301.58,82.57 301.58,81.75 302.02,81.75 302.02,80.92 302.9,80.92 302.9,80.1 303.34,80.1 303.34,79.28 304.22,79.28 304.22,78.45 304.66,78.45 304.66,77.62 305.53,77.62 305.53,76.8 306.85,76.8 306.85,75.97 308.17,75.97 308.17,75.15 309.48,75.15 309.48,74.32 310.36,74.32 310.36,73.5 311.68,73.5 311.68,72.67 313,72.67 313,71.02 313.43,71.02 313.43,70.2 313.87,70.2 313.87,69.37 314.31,69.37 314.31,68.55 314.75,68.55 314.75,67.72 316.51,67.72 316.51,66.9 319.58,66.9 319.58,66.07 320.46,66.07 320.46,65.25 321.34,65.25 321.34,64.42 321.77,64.42 321.77,63.6 323.09,63.6 323.09,62.77 324.85,62.77 324.85,61.95 326.16,61.95 326.16,61.12 328.8,61.12 328.8,60.3 331.87,60.3 331.87,59.47 333.19,59.47 333.19,58.65 334.5,58.65 334.5,57.82 336.26,57.82 336.26,57 338.01,57 338.01,56.17 349.42,56.17 349.42,55.35 352.5,55.35 352.5,54.52 361.28,54.52 361.28,53.7 364.35,53.7 364.35,52.87 366.98,52.87 366.98,52.05 370.05,52.05 370.05,51.22 373.13,51.22 373.13,50.4 379.71,50.4 379.71,49.57 385.85,49.57 385.85,48.75 387.61,48.75 387.61,47.92 388.49,47.92 388.49,47.1 389.37,47.1 389.37,46.27 390.24,46.27 390.24,45.45 391.12,45.45 391.12,44.62 392.88,44.62 392.88,43.8 395.07,43.8 395.07,42.97 397.27,42.97 397.27,42.15 399.46,42.15 399.46,41.32 402.53,41.32 402.53,40.5 406.04,40.5 406.04,39.67 409.12,39.67 409.12,38.85 412.63,38.85 412.63,38.02 420.53,38.02 420.53,37.2 439.4,37.2" fill="none" stroke="#3d6ebf" stroke-width="1.5" stroke-linejoin="round" stroke-linecap="round" clip-path="url(#clipm254)"/>
<line x1="254.9" y1="32.58" x2="254.9" y2="134.82" stroke="#a0a0a0" stroke-width="1.3"/>
<line x1="254.3" y1="134.22" x2="448.5" y2="134.22" stroke="#3a3a3a" stroke-width="1.2"/>
<line x1="252.5" y1="129.6" x2="254.9" y2="129.6" stroke="#333" stroke-width="0.8"/>
<text x="252" y="132.1" font-family='"Liberation Sans", sans-serif' font-size="7.1" font-weight="normal" text-anchor="end" fill="#262626">0.0</text>
<line x1="263.4" y1="134.22" x2="263.4" y2="136.82" stroke="#333" stroke-width="0.8"/>
<text x="263.4" y="143.22" font-family='"Liberation Sans", sans-serif' font-size="7.1" font-weight="normal" text-anchor="middle" fill="#262626">0.0</text>
<line x1="252.5" y1="111.12" x2="254.9" y2="111.12" stroke="#333" stroke-width="0.8"/>
<text x="252" y="113.62" font-family='"Liberation Sans", sans-serif' font-size="7.1" font-weight="normal" text-anchor="end" fill="#262626">0.2</text>
<line x1="298.6" y1="134.22" x2="298.6" y2="136.82" stroke="#333" stroke-width="0.8"/>
<text x="298.6" y="143.22" font-family='"Liberation Sans", sans-serif' font-size="7.1" font-weight="normal" text-anchor="middle" fill="#262626">0.2</text>
<line x1="252.5" y1="92.64" x2="254.9" y2="92.64" stroke="#333" stroke-width="0.8"/>
<text x="252" y="95.14" font-family='"Liberation Sans", sans-serif' font-size="7.1" font-weight="normal" text-anchor="end" fill="#262626">0.4</text>
<line x1="333.8" y1="134.22" x2="333.8" y2="136.82" stroke="#333" stroke-width="0.8"/>
<text x="333.8" y="143.22" font-family='"Liberation Sans", sans-serif' font-size="7.1" font-weight="normal" text-anchor="middle" fill="#262626">0.4</text>
<line x1="252.5" y1="74.16" x2="254.9" y2="74.16" stroke="#333" stroke-width="0.8"/>
<text x="252" y="76.66" font-family='"Liberation Sans", sans-serif' font-size="7.1" font-weight="normal" text-anchor="end" fill="#262626">0.6</text>
<line x1="369" y1="134.22" x2="369" y2="136.82" stroke="#333" stroke-width="0.8"/>
<text x="369" y="143.22" font-family='"Liberation Sans", sans-serif' font-size="7.1" font-weight="normal" text-anchor="middle" fill="#262626">0.6</text>
<line x1="252.5" y1="55.68" x2="254.9" y2="55.68" stroke="#333" stroke-width="0.8"/>
<text x="252" y="58.18" font-family='"Liberation Sans", sans-serif' font-size="7.1" font-weight="normal" text-anchor="end" fill="#262626">0.8</text>
<line x1="404.2" y1="134.22" x2="404.2" y2="136.82" stroke="#333" stroke-width="0.8"/>
<text x="404.2" y="143.22" font-family='"Liberation Sans", sans-serif' font-size="7.1" font-weight="normal" text-anchor="middle" fill="#262626">0.8</text>
<line x1="252.5" y1="37.2" x2="254.9" y2="37.2" stroke="#333" stroke-width="0.8"/>
<text x="252" y="39.7" font-family='"Liberation Sans", sans-serif' font-size="7.1" font-weight="normal" text-anchor="end" fill="#262626">1.0</text>
<line x1="439.4" y1="134.22" x2="439.4" y2="136.82" stroke="#333" stroke-width="0.8"/>
<text x="439.4" y="143.22" font-family='"Liberation Sans", sans-serif' font-size="7.1" font-weight="normal" text-anchor="middle" fill="#262626">1.0</text>
<text x="351.7" y="151" font-family='"Liberation Serif", serif' font-size="7.95" font-weight="bold" text-anchor="middle" fill="#000">1 - Specificity</text>
<text x="238.3" y="83.4" font-family='"Liberation Serif", serif' font-size="7.9" font-weight="bold" text-anchor="middle" fill="#000" transform="rotate(-90 238.3 83.4)">Sensitivity</text>
<rect x="300.47" y="41.82" width="59.91" height="30.49" fill="none" stroke="#6e6e6e" stroke-width="0.8"/>
<line x1="360.38" y1="41.82" x2="446.3" y2="63.7" stroke="#6e6e6e" stroke-width="0.7"/>
<line x1="300.47" y1="72.31" x2="327.3" y2="124.2" stroke="#6e6e6e" stroke-width="0.7"/>
<rect x="327.3" y="63.7" width="119" height="60.5" fill="#fff"/>
<line x1="358.55" y1="63.7" x2="358.55" y2="124.2" stroke="#ebebeb" stroke-width="0.7"/>
<line x1="358.55" y1="124.2" x2="358.55" y2="126.4" stroke="#333" stroke-width="0.7"/>
<text x="358.55" y="132.4" font-family='"Liberation Sans", sans-serif' font-size="7.1" font-weight="normal" text-anchor="middle" fill="#262626">0.3</text>
<line x1="393.51" y1="63.7" x2="393.51" y2="124.2" stroke="#ebebeb" stroke-width="0.7"/>
<line x1="393.51" y1="124.2" x2="393.51" y2="126.4" stroke="#333" stroke-width="0.7"/>
<text x="393.51" y="132.4" font-family='"Liberation Sans", sans-serif' font-size="7.1" font-weight="normal" text-anchor="middle" fill="#262626">0.4</text>
<line x1="428.47" y1="63.7" x2="428.47" y2="124.2" stroke="#ebebeb" stroke-width="0.7"/>
<line x1="428.47" y1="124.2" x2="428.47" y2="126.4" stroke="#333" stroke-width="0.7"/>
<text x="428.47" y="132.4" font-family='"Liberation Sans", sans-serif' font-size="7.1" font-weight="normal" text-anchor="middle" fill="#262626">0.5</text>
<line x1="327.3" y1="109.53" x2="446.3" y2="109.53" stroke="#ebebeb" stroke-width="0.7"/>
<line x1="325.1" y1="109.53" x2="327.3" y2="109.53" stroke="#333" stroke-width="0.7"/>
<text x="324.1" y="112.03" font-family='"Liberation Sans", sans-serif' font-size="7.1" font-weight="normal" text-anchor="end" fill="#262626">0.7</text>
<line x1="327.3" y1="91.2" x2="446.3" y2="91.2" stroke="#ebebeb" stroke-width="0.7"/>
<line x1="325.1" y1="91.2" x2="327.3" y2="91.2" stroke="#333" stroke-width="0.7"/>
<text x="324.1" y="93.7" font-family='"Liberation Sans", sans-serif' font-size="7.1" font-weight="normal" text-anchor="end" fill="#262626">0.8</text>
<line x1="327.3" y1="72.87" x2="446.3" y2="72.87" stroke="#ebebeb" stroke-width="0.7"/>
<line x1="325.1" y1="72.87" x2="327.3" y2="72.87" stroke="#333" stroke-width="0.7"/>
<text x="324.1" y="75.37" font-family='"Liberation Sans", sans-serif' font-size="7.1" font-weight="normal" text-anchor="end" fill="#262626">0.9</text>
<clipPath id="clipi254"><rect x="327.3" y="63.7" width="119" height="60.5"/></clipPath>
<path d="M253.68,237.87 253.68,234.59 254.55,234.59 254.55,232.96 255.42,232.96 255.42,229.68 256.29,229.68 256.29,226.41 257.16,226.41 257.16,224.77 258.04,224.77 258.04,223.13 258.91,223.13 258.91,221.5 259.78,221.5 259.78,218.22 260.65,218.22 260.65,216.59 261.52,216.59 261.52,214.95 262.39,214.95 262.39,213.31 263.27,213.31 263.27,210.04 264.14,210.04 264.14,208.4 265.01,208.4 265.01,206.77 265.88,206.77 265.88,203.49 266.75,203.49 266.75,201.85 267.63,201.85 267.63,198.58 268.5,198.58 268.5,196.94 269.37,196.94 269.37,193.67 270.24,193.67 270.24,192.03 271.11,192.03 271.11,190.4 272.86,190.4 272.86,188.76 274.6,188.76 274.6,187.12 277.22,187.12 277.22,185.49 278.96,185.49 278.96,183.85 280.7,183.85 280.7,182.21 283.32,182.21 283.32,180.58 284.19,180.58 284.19,178.94 285.06,178.94 285.06,177.3 285.93,177.3 285.93,175.66 286.8,175.66 286.8,174.03 287.68,174.03 287.68,172.39 288.55,172.39 288.55,170.75 289.42,170.75 289.42,169.12 290.29,169.12 290.29,167.48 291.16,167.48 291.16,165.84 292.04,165.84 292.04,164.21 293.78,164.21 293.78,162.57 295.52,162.57 295.52,160.93 297.27,160.93 297.27,159.3 299.01,159.3 299.01,157.66 300.75,157.66 300.75,156.02 302.5,156.02 302.5,154.38 305.11,154.38 305.11,152.75 308.6,152.75 308.6,151.11 311.21,151.11 311.21,149.47 313.83,149.47 313.83,147.84 316.45,147.84 316.45,146.2 319.06,146.2 319.06,144.56 321.68,144.56 321.68,142.93 323.42,142.93 323.42,141.29 326.04,141.29 326.04,139.65 327.78,139.65 327.78,138.02 330.39,138.02 330.39,136.38 332.14,136.38 332.14,134.74 334.75,134.74 334.75,133.1 336.5,133.1 336.5,131.47 338.24,131.47 338.24,129.83 339.11,129.83 339.11,128.19 339.98,128.19 339.98,126.56 341.73,126.56 341.73,124.92 342.6,124.92 342.6,123.28 343.47,123.28 343.47,121.65 344.34,121.65 344.34,120.01 345.21,120.01 345.21,118.37 346.09,118.37 346.09,116.74 346.96,116.74 346.96,115.1 350.45,115.1 350.45,113.46 354.8,113.46 354.8,111.83 358.29,111.83 358.29,110.19 360.91,110.19 360.91,108.55 363.52,108.55 363.52,106.91 367.88,106.91 367.88,105.28 370.5,105.28 370.5,103.64 371.37,103.64 371.37,102 372.24,102 372.24,98.73 374.86,98.73 374.86,97.09 378.34,97.09 378.34,95.46 381.83,95.46 381.83,93.82 383.57,93.82 383.57,92.18 400.14,92.18 400.14,90.55 418.45,90.55 418.45,88.91 419.32,88.91 419.32,87.27 428.04,87.27 428.04,85.63 434.14,85.63 434.14,84 438.5,84 438.5,82.36 447.21,82.36 447.21,80.72 451.57,80.72 451.57,79.09 455.06,79.09 455.06,77.45 458.55,77.45 458.55,75.81 462.91,75.81 462.91,74.18 465.52,74.18 465.52,72.54 469.01,72.54 469.01,70.9 472.5,70.9 472.5,69.27 475.11,69.27 475.11,67.63 478.6,67.63 478.6,65.99 482.96,65.99 482.96,64.35 488.19,64.35 488.19,62.72 493.42,62.72 493.42,61.08 503.01,61.08 503.01,59.44 515.21,59.44 515.21,57.81 534.39,57.81 534.39,56.17 559.68,56.17 559.68,54.53 603.27,54.53" fill="none" stroke="#3a9a3a" stroke-width="1.5" stroke-linejoin="round" clip-path="url(#clipi254)"/>
<path d="M253.68,237.87 254.55,237.87 254.55,236.23 257.16,236.23 257.16,234.59 260.65,234.59 260.65,232.96 261.52,232.96 261.52,231.32 262.39,231.32 262.39,229.68 263.27,229.68 263.27,226.41 264.14,226.41 264.14,223.13 265.01,223.13 265.01,219.86 265.88,219.86 265.88,216.59 266.75,216.59 266.75,214.95 267.63,214.95 267.63,211.68 268.5,211.68 268.5,208.4 269.37,208.4 269.37,206.77 270.24,206.77 270.24,205.13 271.11,205.13 271.11,203.49 271.98,203.49 271.98,201.85 272.86,201.85 272.86,200.22 273.73,200.22 273.73,198.58 274.6,198.58 274.6,196.94 275.47,196.94 275.47,195.31 276.34,195.31 276.34,193.67 277.22,193.67 277.22,192.03 278.09,192.03 278.09,190.4 279.83,190.4 279.83,188.76 280.7,188.76 280.7,187.12 282.45,187.12 282.45,185.49 283.32,185.49 283.32,183.85 285.06,183.85 285.06,182.21 285.93,182.21 285.93,180.58 287.68,180.58 287.68,178.94 288.55,178.94 288.55,177.3 290.29,177.3 290.29,175.66 291.16,175.66 291.16,174.03 292.04,174.03 292.04,172.39 292.91,172.39 292.91,170.75 293.78,170.75 293.78,167.48 294.65,167.48 294.65,165.84 295.52,165.84 295.52,164.21 296.39,164.21 296.39,162.57 297.27,162.57 297.27,160.93 298.14,160.93 298.14,159.3 299.01,159.3 299.01,157.66 299.88,157.66 299.88,156.02 301.63,156.02 301.63,154.38 302.5,154.38 302.5,152.75 304.24,152.75 304.24,151.11 305.11,151.11 305.11,149.47 306.86,149.47 306.86,147.84 308.6,147.84 308.6,146.2 309.47,146.2 309.47,144.56 310.34,144.56 310.34,142.93 311.21,142.93 311.21,141.29 312.96,141.29 312.96,139.65 313.83,139.65 313.83,138.02 314.7,138.02 314.7,136.38 315.57,136.38 315.57,134.74 317.32,134.74 317.32,133.1 318.19,133.1 318.19,131.47 319.93,131.47 319.93,129.83 321.68,129.83 321.68,128.19 323.42,128.19 323.42,126.56 325.16,126.56 325.16,124.92 326.91,124.92 326.91,123.28 330.39,123.28 330.39,121.65 331.27,121.65 331.27,120.01 333.01,120.01 333.01,118.37 333.88,118.37 333.88,116.74 335.63,116.74 335.63,115.1 337.37,115.1 337.37,113.46 338.24,113.46 338.24,111.83 339.11,111.83 339.11,110.19 339.98,110.19 339.98,108.55 340.86,108.55 340.86,106.91 342.6,106.91 342.6,105.28 343.47,105.28 343.47,103.64 346.09,103.64 346.09,102 350.45,102 350.45,100.37 352.19,100.37 352.19,98.73 354.8,98.73 354.8,97.09 356.55,97.09 356.55,95.46 359.16,95.46 359.16,93.82 364.39,93.82 364.39,92.18 368.75,92.18 368.75,90.55 371.37,90.55 371.37,88.91 383.57,88.91 383.57,87.27 390.55,87.27 390.55,85.63 394.91,85.63 394.91,84 399.27,84 399.27,82.36 405.37,82.36 405.37,80.72 410.6,80.72 410.6,79.09 414.96,79.09 414.96,77.45 421.06,77.45 421.06,75.81 425.42,75.81 425.42,74.18 426.29,74.18 426.29,72.54 427.16,72.54 427.16,70.9 428.91,70.9 428.91,69.27 430.65,69.27 430.65,67.63 431.52,67.63 431.52,65.99 437.62,65.99 437.62,64.35 445.47,64.35 445.47,62.72 453.32,62.72 453.32,61.08 461.16,61.08 461.16,59.44 469.01,59.44 469.01,57.81 484.7,57.81 484.7,56.17 509.11,56.17 509.11,54.53 603.27,54.53" fill="none" stroke="#c8446e" stroke-width="1.5" stroke-linejoin="round" clip-path="url(#clipi254)"/>
<path d="M253.68,237.87 254.55,237.87 254.55,236.23 257.16,236.23 257.16,234.59 259.78,234.59 259.78,232.96 261.52,232.96 261.52,231.32 264.14,231.32 264.14,229.68 265.01,229.68 265.01,228.05 265.88,228.05 265.88,224.77 266.75,224.77 266.75,223.13 267.63,223.13 267.63,221.5 268.5,221.5 268.5,219.86 269.37,219.86 269.37,216.59 270.24,216.59 270.24,214.95 271.11,214.95 271.11,213.31 271.98,213.31 271.98,211.68 272.86,211.68 272.86,210.04 273.73,210.04 273.73,208.4 274.6,208.4 274.6,206.77 275.47,206.77 275.47,205.13 276.34,205.13 276.34,203.49 277.22,203.49 277.22,201.85 278.09,201.85 278.09,200.22 278.96,200.22 278.96,198.58 279.83,198.58 279.83,196.94 280.7,196.94 280.7,195.31 281.57,195.31 281.57,193.67 282.45,193.67 282.45,192.03 283.32,192.03 283.32,190.4 284.19,190.4 284.19,188.76 285.06,188.76 285.06,187.12 285.93,187.12 285.93,185.49 286.8,185.49 286.8,183.85 287.68,183.85 287.68,182.21 288.55,182.21 288.55,180.58 289.42,180.58 289.42,178.94 292.04,178.94 292.04,177.3 295.52,177.3 295.52,175.66 298.14,175.66 298.14,174.03 299.88,174.03 299.88,172.39 301.63,172.39 301.63,170.75 302.5,170.75 302.5,169.12 303.37,169.12 303.37,167.48 304.24,167.48 304.24,165.84 305.98,165.84 305.98,164.21 306.86,164.21 306.86,162.57 307.73,162.57 307.73,160.93 309.47,160.93 309.47,159.3 311.21,159.3 311.21,157.66 313.83,157.66 313.83,156.02 316.45,156.02 316.45,154.38 319.06,154.38 319.06,152.75 321.68,152.75 321.68,151.11 323.42,151.11 323.42,149.47 325.16,149.47 325.16,147.84 326.04,147.84 326.04,146.2 327.78,146.2 327.78,144.56 329.52,144.56 329.52,142.93 330.39,142.93 330.39,141.29 332.14,141.29 332.14,139.65 333.01,139.65 333.01,138.02 334.75,138.02 334.75,136.38 335.63,136.38 335.63,134.74 337.37,134.74 337.37,133.1 339.98,133.1 339.98,131.47 342.6,131.47 342.6,129.83 345.21,129.83 345.21,128.19 346.96,128.19 346.96,126.56 349.57,126.56 349.57,124.92 352.19,124.92 352.19,121.65 353.06,121.65 353.06,120.01 353.93,120.01 353.93,118.37 354.8,118.37 354.8,116.74 355.68,116.74 355.68,115.1 359.16,115.1 359.16,113.46 365.27,113.46 365.27,111.83 367.01,111.83 367.01,110.19 368.75,110.19 368.75,108.55 369.62,108.55 369.62,106.91 372.24,106.91 372.24,105.28 375.73,105.28 375.73,103.64 378.34,103.64 378.34,102 383.57,102 383.57,100.37 389.68,100.37 389.68,98.73 392.29,98.73 392.29,97.09 394.91,97.09 394.91,95.46 398.39,95.46 398.39,93.82 401.88,93.82 401.88,92.18 424.55,92.18 424.55,90.55 430.65,90.55 430.65,88.91 448.09,88.91 448.09,87.27 454.19,87.27 454.19,85.63 459.42,85.63 459.42,84 465.52,84 465.52,82.36 471.62,82.36 471.62,80.72 484.7,80.72 484.7,79.09 496.91,79.09 496.91,77.45 500.39,77.45 500.39,75.81 502.14,75.81 502.14,74.18 503.88,74.18 503.88,72.54 505.62,72.54 505.62,70.9 507.37,70.9 507.37,69.27 510.86,69.27 510.86,67.63 515.21,67.63 515.21,65.99 519.57,65.99 519.57,64.35 523.93,64.35 523.93,62.72 530.03,62.72 530.03,61.08 537.01,61.08 537.01,59.44 543.11,59.44 543.11,57.81 550.09,57.81 550.09,56.17 565.78,56.17 565.78,54.53 603.27,54.53" fill="none" stroke="#3d6ebf" stroke-width="1.5" stroke-linejoin="round" clip-path="url(#clipi254)"/>
<rect x="327.3" y="63.7" width="119" height="60.5" fill="none" stroke="#6e6e6e" stroke-width="0.8"/>
<line x1="257.8" y1="6.4" x2="272.2" y2="6.4" stroke="#3a9a3a" stroke-width="1.5"/>
<text x="276.3" y="8.7" font-family='"Liberation Serif", serif' font-size="6.6" font-weight="bold" text-anchor="start" fill="#000">ViT-1:1 (AUC = 0.752, 95% CI=[0.701-0.806])</text>
<line x1="257.8" y1="15.65" x2="272.2" y2="15.65" stroke="#c8446e" stroke-width="1.5"/>
<text x="276.3" y="17.95" font-family='"Liberation Serif", serif' font-size="6.6" font-weight="bold" text-anchor="start" fill="#000">ViT-1:2 (AUC = 0.793, 95% CI=[0.750-0.837])</text>
<line x1="257.8" y1="24.9" x2="272.2" y2="24.9" stroke="#3d6ebf" stroke-width="1.5"/>
<text x="276.3" y="27.2" font-family='"Liberation Serif", serif' font-size="6.6" font-weight="bold" text-anchor="start" fill="#000">ViT-1:4 (AUC = 0.714, 95% CI=[0.661-0.770])</text>
<line x1="490.3" y1="32.58" x2="490.3" y2="134.22" stroke="#ebebeb" stroke-width="0.7"/>
<line x1="481.5" y1="129.6" x2="675.3" y2="129.6" stroke="#ebebeb" stroke-width="0.7"/>
<line x1="525.54" y1="32.58" x2="525.54" y2="134.22" stroke="#ebebeb" stroke-width="0.7"/>
<line x1="481.5" y1="111.12" x2="675.3" y2="111.12" stroke="#ebebeb" stroke-width="0.7"/>
<line x1="560.78" y1="32.58" x2="560.78" y2="134.22" stroke="#ebebeb" stroke-width="0.7"/>
<line x1="481.5" y1="92.64" x2="675.3" y2="92.64" stroke="#ebebeb" stroke-width="0.7"/>
<line x1="596.02" y1="32.58" x2="596.02" y2="134.22" stroke="#ebebeb" stroke-width="0.7"/>
<line x1="481.5" y1="74.16" x2="675.3" y2="74.16" stroke="#ebebeb" stroke-width="0.7"/>
<line x1="631.26" y1="32.58" x2="631.26" y2="134.22" stroke="#ebebeb" stroke-width="0.7"/>
<line x1="481.5" y1="55.68" x2="675.3" y2="55.68" stroke="#ebebeb" stroke-width="0.7"/>
<line x1="666.5" y1="32.58" x2="666.5" y2="134.22" stroke="#ebebeb" stroke-width="0.7"/>
<line x1="481.5" y1="37.2" x2="675.3" y2="37.2" stroke="#ebebeb" stroke-width="0.7"/>
<clipPath id="clipm481"><rect x="481.5" y="32.58" width="193.8" height="101.64"/></clipPath>
<path d="M490.3,129.6 490.3,128.46 490.85,128.46 490.85,126.18 491.39,126.18 491.39,125.04 491.94,125.04 491.94,122.76 492.48,122.76 492.48,121.61 493.03,121.61 493.03,120.47 494.12,120.47 494.12,119.33 494.66,119.33 494.66,118.19 495.21,118.19 495.21,117.05 495.76,117.05 495.76,115.91 496.3,115.91 496.3,114.77 496.85,114.77 496.85,113.63 499.03,113.63 499.03,112.49 500.66,112.49 500.66,111.35 504.48,111.35 504.48,110.21 506.12,110.21 506.12,109.07 506.67,109.07 506.67,107.93 507.21,107.93 507.21,106.79 508.3,106.79 508.3,105.64 508.85,105.64 508.85,104.5 509.39,104.5 509.39,103.36 509.94,103.36 509.94,102.22 511.03,102.22 511.03,101.08 511.57,101.08 511.57,99.94 512.12,99.94 512.12,98.8 513.76,98.8 513.76,97.66 515.94,97.66 515.94,96.52 517.58,96.52 517.58,95.38 518.67,95.38 518.67,94.24 519.21,94.24 519.21,93.1 520.3,93.1 520.3,91.96 520.85,91.96 520.85,90.81 521.39,90.81 521.39,89.67 522.49,89.67 522.49,88.53 523.58,88.53 523.58,87.39 524.67,87.39 524.67,86.25 526.3,86.25 526.3,85.11 527.94,85.11 527.94,83.97 528.49,83.97 528.49,82.83 529.03,82.83 529.03,81.69 529.58,81.69 529.58,80.55 530.12,80.55 530.12,79.41 530.67,79.41 530.67,78.27 531.21,78.27 531.21,75.99 532.85,75.99 532.85,74.84 534.49,74.84 534.49,73.7 535.58,73.7 535.58,72.56 537.21,72.56 537.21,70.28 542.67,70.28 542.67,65.72 543.21,65.72 543.21,63.44 543.76,63.44 543.76,62.3 545.4,62.3 545.4,61.16 547.03,61.16 547.03,60.01 555.76,60.01 555.76,58.87 556.85,58.87 556.85,57.73 557.4,57.73 557.4,56.59 558.49,56.59 558.49,55.45 559.58,55.45 559.58,54.31 570.49,54.31 570.49,53.17 571.04,53.17 571.04,52.03 575.4,52.03 575.4,50.89 587.4,50.89 587.4,49.75 589.04,49.75 589.04,48.61 590.67,48.61 590.67,47.47 594.49,47.47 594.49,46.33 598.86,46.33 598.86,45.19 602.68,45.19 602.68,44.04 607.58,44.04 607.58,42.9 611.95,42.9 611.95,41.76 617.95,41.76 617.95,40.62 623.4,40.62 623.4,39.48 629.95,39.48 629.95,38.34 637.04,38.34 637.04,37.2 666.5,37.2" fill="none" stroke="#3a9a3a" stroke-width="1.5" stroke-linejoin="round" stroke-linecap="round" clip-path="url(#clipm481)"/>
<path d="M490.3,129.6 490.85,129.6 490.85,128.46 491.94,128.46 491.94,127.32 496.3,127.32 496.3,126.18 496.85,126.18 496.85,125.04 497.94,125.04 497.94,123.9 498.48,123.9 498.48,122.76 499.57,122.76 499.57,121.61 500.12,121.61 500.12,120.47 500.66,120.47 500.66,119.33 501.76,119.33 501.76,118.19 502.3,118.19 502.3,117.05 503.39,117.05 503.39,115.91 503.94,115.91 503.94,114.77 505.03,114.77 505.03,113.63 505.57,113.63 505.57,112.49 506.67,112.49 506.67,111.35 507.21,111.35 507.21,110.21 507.76,110.21 507.76,109.07 508.85,109.07 508.85,107.93 509.39,107.93 509.39,106.79 509.94,106.79 509.94,105.64 510.48,105.64 510.48,104.5 511.03,104.5 511.03,103.36 512.12,103.36 512.12,102.22 512.67,102.22 512.67,101.08 513.21,101.08 513.21,99.94 513.76,99.94 513.76,98.8 514.3,98.8 514.3,97.66 515.94,97.66 515.94,96.52 517.03,96.52 517.03,95.38 518.67,95.38 518.67,94.24 519.76,94.24 519.76,93.1 520.3,93.1 520.3,90.81 520.85,90.81 520.85,89.67 521.39,89.67 521.39,88.53 521.94,88.53 521.94,86.25 522.49,86.25 522.49,83.97 523.03,83.97 523.03,81.69 523.58,81.69 523.58,79.41 524.12,79.41 524.12,77.13 529.58,77.13 529.58,75.99 530.67,75.99 530.67,74.84 531.21,74.84 531.21,73.7 532.3,73.7 532.3,72.56 533.4,72.56 533.4,71.42 534.49,71.42 534.49,65.72 536.67,65.72 536.67,64.58 537.21,64.58 537.21,63.44 537.76,63.44 537.76,62.3 539.4,62.3 539.4,61.16 541.03,61.16 541.03,60.01 541.58,60.01 541.58,58.87 542.67,58.87 542.67,57.73 546.49,57.73 546.49,56.59 547.03,56.59 547.03,55.45 548.12,55.45 548.12,54.31 553.58,54.31 553.58,53.17 554.67,53.17 554.67,52.03 555.22,52.03 555.22,50.89 557.94,50.89 557.94,49.75 560.13,49.75 560.13,48.61 562.31,48.61 562.31,47.47 569.94,47.47 569.94,46.33 570.49,46.33 570.49,45.19 571.58,45.19 571.58,44.04 573.22,44.04 573.22,42.9 578.13,42.9 578.13,41.76 583.04,41.76 583.04,40.62 586.86,40.62 586.86,39.48 592.86,39.48 592.86,38.34 601.58,38.34 601.58,37.2 666.5,37.2" fill="none" stroke="#c8446e" stroke-width="1.5" stroke-linejoin="round" stroke-linecap="round" clip-path="url(#clipm481)"/>
<path d="M490.3,129.6 490.3,128.46 490.85,128.46 490.85,127.32 491.39,127.32 491.39,126.18 491.94,126.18 491.94,123.9 492.48,123.9 492.48,122.76 493.57,122.76 493.57,121.61 494.12,121.61 494.12,120.47 495.21,120.47 495.21,119.33 495.76,119.33 495.76,118.19 496.85,118.19 496.85,117.05 497.39,117.05 497.39,115.91 498.48,115.91 498.48,114.77 500.12,114.77 500.12,113.63 501.21,113.63 501.21,112.49 502.85,112.49 502.85,111.35 505.03,111.35 505.03,110.21 507.21,110.21 507.21,109.07 509.94,109.07 509.94,107.93 511.03,107.93 511.03,106.79 512.12,106.79 512.12,105.64 512.67,105.64 512.67,104.5 513.76,104.5 513.76,103.36 514.85,103.36 514.85,102.22 515.94,102.22 515.94,101.08 517.03,101.08 517.03,99.94 518.67,99.94 518.67,98.8 520.3,98.8 520.3,97.66 521.39,97.66 521.39,96.52 523.03,96.52 523.03,95.38 524.67,95.38 524.67,94.24 525.76,94.24 525.76,91.96 526.3,91.96 526.3,89.67 526.85,89.67 526.85,87.39 527.39,87.39 527.39,86.25 527.94,86.25 527.94,83.97 528.49,83.97 528.49,81.69 529.03,81.69 529.03,79.41 530.12,79.41 530.12,78.27 531.21,78.27 531.21,77.13 532.85,77.13 532.85,75.99 533.94,75.99 533.94,74.84 535.03,74.84 535.03,73.7 536.67,73.7 536.67,72.56 537.76,72.56 537.76,70.28 538.3,70.28 538.3,69.14 539.4,69.14 539.4,68 540.49,68 540.49,66.86 541.03,66.86 541.03,65.72 542.67,65.72 542.67,64.58 544.85,64.58 544.85,63.44 546.49,63.44 546.49,62.3 548.12,62.3 548.12,61.16 549.76,61.16 549.76,60.01 550.31,60.01 550.31,58.87 551.4,58.87 551.4,57.73 557.94,57.73 557.94,56.59 562.85,56.59 562.85,55.45 566.13,55.45 566.13,54.31 576.49,54.31 576.49,53.17 578.67,53.17 578.67,52.03 580.31,52.03 580.31,50.89 581.4,50.89 581.4,49.75 583.04,49.75 583.04,48.61 589.58,48.61 589.58,47.47 595.04,47.47 595.04,46.33 599.95,46.33 599.95,45.19 605.4,45.19 605.4,44.04 610.31,44.04 610.31,42.9 615.22,42.9 615.22,41.76 620.68,41.76 620.68,40.62 626.13,40.62 626.13,39.48 632.13,39.48 632.13,38.34 643.59,38.34 643.59,37.2 666.5,37.2" fill="none" stroke="#3d6ebf" stroke-width="1.5" stroke-linejoin="round" stroke-linecap="round" clip-path="url(#clipm481)"/>
<line x1="481.5" y1="32.58" x2="481.5" y2="134.82" stroke="#a0a0a0" stroke-width="1.3"/>
<line x1="480.9" y1="134.22" x2="675.3" y2="134.22" stroke="#3a3a3a" stroke-width="1.2"/>
<line x1="479.1" y1="129.6" x2="481.5" y2="129.6" stroke="#333" stroke-width="0.8"/>
<text x="478.6" y="132.1" font-family='"Liberation Sans", sans-serif' font-size="7.1" font-weight="normal" text-anchor="end" fill="#262626">0.0</text>
<line x1="490.3" y1="134.22" x2="490.3" y2="136.82" stroke="#333" stroke-width="0.8"/>
<text x="490.3" y="143.22" font-family='"Liberation Sans", sans-serif' font-size="7.1" font-weight="normal" text-anchor="middle" fill="#262626">0.0</text>
<line x1="479.1" y1="111.12" x2="481.5" y2="111.12" stroke="#333" stroke-width="0.8"/>
<text x="478.6" y="113.62" font-family='"Liberation Sans", sans-serif' font-size="7.1" font-weight="normal" text-anchor="end" fill="#262626">0.2</text>
<line x1="525.54" y1="134.22" x2="525.54" y2="136.82" stroke="#333" stroke-width="0.8"/>
<text x="525.54" y="143.22" font-family='"Liberation Sans", sans-serif' font-size="7.1" font-weight="normal" text-anchor="middle" fill="#262626">0.2</text>
<line x1="479.1" y1="92.64" x2="481.5" y2="92.64" stroke="#333" stroke-width="0.8"/>
<text x="478.6" y="95.14" font-family='"Liberation Sans", sans-serif' font-size="7.1" font-weight="normal" text-anchor="end" fill="#262626">0.4</text>
<line x1="560.78" y1="134.22" x2="560.78" y2="136.82" stroke="#333" stroke-width="0.8"/>
<text x="560.78" y="143.22" font-family='"Liberation Sans", sans-serif' font-size="7.1" font-weight="normal" text-anchor="middle" fill="#262626">0.4</text>
<line x1="479.1" y1="74.16" x2="481.5" y2="74.16" stroke="#333" stroke-width="0.8"/>
<text x="478.6" y="76.66" font-family='"Liberation Sans", sans-serif' font-size="7.1" font-weight="normal" text-anchor="end" fill="#262626">0.6</text>
<line x1="596.02" y1="134.22" x2="596.02" y2="136.82" stroke="#333" stroke-width="0.8"/>
<text x="596.02" y="143.22" font-family='"Liberation Sans", sans-serif' font-size="7.1" font-weight="normal" text-anchor="middle" fill="#262626">0.6</text>
<line x1="479.1" y1="55.68" x2="481.5" y2="55.68" stroke="#333" stroke-width="0.8"/>
<text x="478.6" y="58.18" font-family='"Liberation Sans", sans-serif' font-size="7.1" font-weight="normal" text-anchor="end" fill="#262626">0.8</text>
<line x1="631.26" y1="134.22" x2="631.26" y2="136.82" stroke="#333" stroke-width="0.8"/>
<text x="631.26" y="143.22" font-family='"Liberation Sans", sans-serif' font-size="7.1" font-weight="normal" text-anchor="middle" fill="#262626">0.8</text>
<line x1="479.1" y1="37.2" x2="481.5" y2="37.2" stroke="#333" stroke-width="0.8"/>
<text x="478.6" y="39.7" font-family='"Liberation Sans", sans-serif' font-size="7.1" font-weight="normal" text-anchor="end" fill="#262626">1.0</text>
<line x1="666.5" y1="134.22" x2="666.5" y2="136.82" stroke="#333" stroke-width="0.8"/>
<text x="666.5" y="143.22" font-family='"Liberation Sans", sans-serif' font-size="7.1" font-weight="normal" text-anchor="middle" fill="#262626">1.0</text>
<text x="578.4" y="151" font-family='"Liberation Serif", serif' font-size="7.95" font-weight="bold" text-anchor="middle" fill="#000">1 - Specificity</text>
<text x="465.3" y="83.4" font-family='"Liberation Serif", serif' font-size="7.9" font-weight="bold" text-anchor="middle" fill="#000" transform="rotate(-90 465.3 83.4)">Sensitivity</text>
<rect x="527.06" y="41.82" width="60.33" height="30.49" fill="none" stroke="#6e6e6e" stroke-width="0.8"/>
<line x1="587.39" y1="41.82" x2="673.6" y2="63.7" stroke="#6e6e6e" stroke-width="0.7"/>
<line x1="527.06" y1="72.31" x2="554.1" y2="124.2" stroke="#6e6e6e" stroke-width="0.7"/>
<rect x="554.1" y="63.7" width="119.5" height="60.5" fill="#fff"/>
<line x1="586" y1="63.7" x2="586" y2="124.2" stroke="#ebebeb" stroke-width="0.7"/>
<line x1="586" y1="124.2" x2="586" y2="126.4" stroke="#333" stroke-width="0.7"/>
<text x="586" y="132.4" font-family='"Liberation Sans", sans-serif' font-size="7.1" font-weight="normal" text-anchor="middle" fill="#262626">0.3</text>
<line x1="620.9" y1="63.7" x2="620.9" y2="124.2" stroke="#ebebeb" stroke-width="0.7"/>
<line x1="620.9" y1="124.2" x2="620.9" y2="126.4" stroke="#333" stroke-width="0.7"/>
<text x="620.9" y="132.4" font-family='"Liberation Sans", sans-serif' font-size="7.1" font-weight="normal" text-anchor="middle" fill="#262626">0.4</text>
<line x1="655.8" y1="63.7" x2="655.8" y2="124.2" stroke="#ebebeb" stroke-width="0.7"/>
<line x1="655.8" y1="124.2" x2="655.8" y2="126.4" stroke="#333" stroke-width="0.7"/>
<text x="655.8" y="132.4" font-family='"Liberation Sans", sans-serif' font-size="7.1" font-weight="normal" text-anchor="middle" fill="#262626">0.5</text>
<line x1="554.1" y1="109.53" x2="673.6" y2="109.53" stroke="#ebebeb" stroke-width="0.7"/>
<line x1="551.9" y1="109.53" x2="554.1" y2="109.53" stroke="#333" stroke-width="0.7"/>
<text x="550.9" y="112.03" font-family='"Liberation Sans", sans-serif' font-size="7.1" font-weight="normal" text-anchor="end" fill="#262626">0.7</text>
<line x1="554.1" y1="91.2" x2="673.6" y2="91.2" stroke="#ebebeb" stroke-width="0.7"/>
<line x1="551.9" y1="91.2" x2="554.1" y2="91.2" stroke="#333" stroke-width="0.7"/>
<text x="550.9" y="93.7" font-family='"Liberation Sans", sans-serif' font-size="7.1" font-weight="normal" text-anchor="end" fill="#262626">0.8</text>
<line x1="554.1" y1="72.87" x2="673.6" y2="72.87" stroke="#ebebeb" stroke-width="0.7"/>
<line x1="551.9" y1="72.87" x2="554.1" y2="72.87" stroke="#333" stroke-width="0.7"/>
<text x="550.9" y="75.37" font-family='"Liberation Sans", sans-serif' font-size="7.1" font-weight="normal" text-anchor="end" fill="#262626">0.9</text>
<clipPath id="clipi481"><rect x="554.1" y="63.7" width="119.5" height="60.5"/></clipPath>
<path d="M481.3,237.87 481.3,235.6 482.38,235.6 482.38,231.08 483.46,231.08 483.46,228.81 484.54,228.81 484.54,224.29 485.62,224.29 485.62,222.02 486.7,222.02 486.7,219.76 488.86,219.76 488.86,217.5 489.94,217.5 489.94,215.23 491.02,215.23 491.02,212.97 492.1,212.97 492.1,210.71 493.18,210.71 493.18,208.44 494.26,208.44 494.26,206.18 498.59,206.18 498.59,203.92 501.83,203.92 501.83,201.65 509.39,201.65 509.39,199.39 512.63,199.39 512.63,197.13 513.71,197.13 513.71,194.86 514.79,194.86 514.79,192.6 516.95,192.6 516.95,190.34 518.03,190.34 518.03,188.07 519.12,188.07 519.12,185.81 520.2,185.81 520.2,183.55 522.36,183.55 522.36,181.28 523.44,181.28 523.44,179.02 524.52,179.02 524.52,176.76 527.76,176.76 527.76,174.49 532.08,174.49 532.08,172.23 535.32,172.23 535.32,169.97 537.48,169.97 537.48,167.7 538.56,167.7 538.56,165.44 540.73,165.44 540.73,163.18 541.81,163.18 541.81,160.91 542.89,160.91 542.89,158.65 545.05,158.65 545.05,156.39 547.21,156.39 547.21,154.12 549.37,154.12 549.37,151.86 552.61,151.86 552.61,149.6 555.85,149.6 555.85,147.33 556.93,147.33 556.93,145.07 558.01,145.07 558.01,142.8 559.09,142.8 559.09,140.54 560.17,140.54 560.17,138.28 561.26,138.28 561.26,136.01 562.34,136.01 562.34,131.49 565.58,131.49 565.58,129.22 568.82,129.22 568.82,126.96 570.98,126.96 570.98,124.7 574.22,124.7 574.22,120.17 585.03,120.17 585.03,111.12 586.11,111.12 586.11,106.59 587.19,106.59 587.19,104.33 590.43,104.33 590.43,102.06 593.67,102.06 593.67,99.8 610.96,99.8 610.96,97.54 613.12,97.54 613.12,95.27 614.2,95.27 614.2,93.01 616.36,93.01 616.36,90.75 618.52,90.75 618.52,88.48 640.13,88.48 640.13,86.22 641.21,86.22 641.21,83.96 649.86,83.96 649.86,81.69 673.63,81.69 673.63,79.43 676.87,79.43 676.87,77.17 680.11,77.17 680.11,74.9 687.68,74.9 687.68,72.64 696.32,72.64 696.32,70.38 703.88,70.38 703.88,68.11 713.61,68.11 713.61,65.85 722.25,65.85 722.25,63.59 734.14,63.59 734.14,61.32 744.94,61.32 744.94,59.06 757.91,59.06 757.91,56.8 771.96,56.8 771.96,54.53 830.3,54.53" fill="none" stroke="#3a9a3a" stroke-width="1.5" stroke-linejoin="round" clip-path="url(#clipi481)"/>
<path d="M481.3,237.87 482.38,237.87 482.38,235.6 484.54,235.6 484.54,233.34 493.18,233.34 493.18,231.08 494.26,231.08 494.26,228.81 496.42,228.81 496.42,226.55 497.5,226.55 497.5,224.29 499.67,224.29 499.67,222.02 500.75,222.02 500.75,219.76 501.83,219.76 501.83,217.5 503.99,217.5 503.99,215.23 505.07,215.23 505.07,212.97 507.23,212.97 507.23,210.71 508.31,210.71 508.31,208.44 510.47,208.44 510.47,206.18 511.55,206.18 511.55,203.92 513.71,203.92 513.71,201.65 514.79,201.65 514.79,199.39 515.87,199.39 515.87,197.13 518.03,197.13 518.03,194.86 519.12,194.86 519.12,192.6 520.2,192.6 520.2,190.34 521.28,190.34 521.28,188.07 522.36,188.07 522.36,185.81 524.52,185.81 524.52,183.55 525.6,183.55 525.6,181.28 526.68,181.28 526.68,179.02 527.76,179.02 527.76,176.76 528.84,176.76 528.84,174.49 532.08,174.49 532.08,172.23 534.24,172.23 534.24,169.97 537.48,169.97 537.48,167.7 539.65,167.7 539.65,165.44 540.73,165.44 540.73,160.91 541.81,160.91 541.81,158.65 542.89,158.65 542.89,156.39 543.97,156.39 543.97,151.86 545.05,151.86 545.05,147.33 546.13,147.33 546.13,142.8 547.21,142.8 547.21,138.28 548.29,138.28 548.29,133.75 559.09,133.75 559.09,131.49 561.26,131.49 561.26,129.22 562.34,129.22 562.34,126.96 564.5,126.96 564.5,124.7 566.66,124.7 566.66,122.43 568.82,122.43 568.82,111.12 573.14,111.12 573.14,108.85 574.22,108.85 574.22,106.59 575.3,106.59 575.3,104.33 578.54,104.33 578.54,102.06 581.79,102.06 581.79,99.8 582.87,99.8 582.87,97.54 585.03,97.54 585.03,95.27 592.59,95.27 592.59,93.01 593.67,93.01 593.67,90.75 595.83,90.75 595.83,88.48 606.64,88.48 606.64,86.22 608.8,86.22 608.8,83.96 609.88,83.96 609.88,81.69 615.28,81.69 615.28,79.43 619.6,79.43 619.6,77.17 623.93,77.17 623.93,74.9 639.05,74.9 639.05,72.64 640.13,72.64 640.13,70.38 642.29,70.38 642.29,68.11 645.54,68.11 645.54,65.85 655.26,65.85 655.26,63.59 664.99,63.59 664.99,61.32 672.55,61.32 672.55,59.06 684.43,59.06 684.43,56.8 701.72,56.8 701.72,54.53 830.3,54.53" fill="none" stroke="#c8446e" stroke-width="1.5" stroke-linejoin="round" clip-path="url(#clipi481)"/>
<path d="M481.3,237.87 481.3,235.6 482.38,235.6 482.38,233.34 483.46,233.34 483.46,231.08 484.54,231.08 484.54,226.55 485.62,226.55 485.62,224.29 487.78,224.29 487.78,222.02 488.86,222.02 488.86,219.76 491.02,219.76 491.02,217.5 492.1,217.5 492.1,215.23 494.26,215.23 494.26,212.97 495.34,212.97 495.34,210.71 497.5,210.71 497.5,208.44 500.75,208.44 500.75,206.18 502.91,206.18 502.91,203.92 506.15,203.92 506.15,201.65 510.47,201.65 510.47,199.39 514.79,199.39 514.79,197.13 520.2,197.13 520.2,194.86 522.36,194.86 522.36,192.6 524.52,192.6 524.52,190.34 525.6,190.34 525.6,188.07 527.76,188.07 527.76,185.81 529.92,185.81 529.92,183.55 532.08,183.55 532.08,181.28 534.24,181.28 534.24,179.02 537.48,179.02 537.48,176.76 540.73,176.76 540.73,174.49 542.89,174.49 542.89,172.23 546.13,172.23 546.13,169.97 549.37,169.97 549.37,167.7 551.53,167.7 551.53,163.18 552.61,163.18 552.61,158.65 553.69,158.65 553.69,154.12 554.77,154.12 554.77,151.86 555.85,151.86 555.85,147.33 556.93,147.33 556.93,142.8 558.01,142.8 558.01,138.28 560.17,138.28 560.17,136.01 562.34,136.01 562.34,133.75 565.58,133.75 565.58,131.49 567.74,131.49 567.74,129.22 569.9,129.22 569.9,126.96 573.14,126.96 573.14,124.7 575.3,124.7 575.3,120.17 576.38,120.17 576.38,117.91 578.54,117.91 578.54,115.64 580.7,115.64 580.7,113.38 581.79,113.38 581.79,111.12 585.03,111.12 585.03,108.85 589.35,108.85 589.35,106.59 592.59,106.59 592.59,104.33 595.83,104.33 595.83,102.06 599.07,102.06 599.07,99.8 600.15,99.8 600.15,97.54 602.32,97.54 602.32,95.27 615.28,95.27 615.28,93.01 625.01,93.01 625.01,90.75 631.49,90.75 631.49,88.48 652.02,88.48 652.02,86.22 656.34,86.22 656.34,83.96 659.58,83.96 659.58,81.69 661.74,81.69 661.74,79.43 664.99,79.43 664.99,77.17 677.95,77.17 677.95,74.9 688.76,74.9 688.76,72.64 698.48,72.64 698.48,70.38 709.29,70.38 709.29,68.11 719.01,68.11 719.01,65.85 728.74,65.85 728.74,63.59 739.54,63.59 739.54,61.32 750.35,61.32 750.35,59.06 762.23,59.06 762.23,56.8 784.92,56.8 784.92,54.53 830.3,54.53" fill="none" stroke="#3d6ebf" stroke-width="1.5" stroke-linejoin="round" clip-path="url(#clipi481)"/>
<rect x="554.1" y="63.7" width="119.5" height="60.5" fill="none" stroke="#6e6e6e" stroke-width="0.8"/>
<line x1="484.9" y1="6.4" x2="499.3" y2="6.4" stroke="#3a9a3a" stroke-width="1.5"/>
<text x="503.6" y="8.7" font-family='"Liberation Serif", serif' font-size="6.6" font-weight="bold" text-anchor="start" fill="#000">ViT-1:1 (AUC = 0.738, 95% CI=[0.681-0.792])</text>
<line x1="484.9" y1="15.65" x2="499.3" y2="15.65" stroke="#c8446e" stroke-width="1.5"/>
<text x="503.6" y="17.95" font-family='"Liberation Serif", serif' font-size="6.6" font-weight="bold" text-anchor="start" fill="#000">ViT-1:2 (AUC = 0.781, 95% CI=[0.733-0.827])</text>
<line x1="484.9" y1="24.9" x2="499.3" y2="24.9" stroke="#3d6ebf" stroke-width="1.5"/>
<text x="503.6" y="27.2" font-family='"Liberation Serif", serif' font-size="6.6" font-weight="bold" text-anchor="start" fill="#000">ViT-1:4 (AUC = 0.728, 95% CI=[0.667-0.783])</text>
<line x1="27.8" y1="260.16" x2="227.4" y2="260.16" stroke="#e2e2e2" stroke-width="0.6" stroke-dasharray="2.2,1.2"/>
<line x1="27.8" y1="237.52" x2="227.4" y2="237.52" stroke="#e2e2e2" stroke-width="0.6" stroke-dasharray="2.2,1.2"/>
<line x1="27.8" y1="214.88" x2="227.4" y2="214.88" stroke="#e2e2e2" stroke-width="0.6" stroke-dasharray="2.2,1.2"/>
<line x1="27.8" y1="192.24" x2="227.4" y2="192.24" stroke="#e2e2e2" stroke-width="0.6" stroke-dasharray="2.2,1.2"/>
<line x1="27.8" y1="169.6" x2="227.4" y2="169.6" stroke="#e2e2e2" stroke-width="0.6" stroke-dasharray="2.2,1.2"/>
<rect x="37.33" y="191.67" width="9.45" height="91.13" fill="#c4849f"/>
<rect x="46.78" y="190.54" width="9.45" height="92.26" fill="#264a60"/>
<rect x="56.23" y="192.01" width="9.45" height="90.79" fill="#e3c6d2"/>
<line x1="42.05" y1="189.98" x2="42.05" y2="193.37" stroke="#333" stroke-width="0.9"/>
<line x1="40.45" y1="189.98" x2="43.65" y2="189.98" stroke="#333" stroke-width="0.8"/>
<line x1="40.45" y1="193.37" x2="43.65" y2="193.37" stroke="#333" stroke-width="0.8"/>
<line x1="51.5" y1="189.41" x2="51.5" y2="191.67" stroke="#333" stroke-width="0.9"/>
<line x1="49.9" y1="189.41" x2="53.1" y2="189.41" stroke="#333" stroke-width="0.8"/>
<line x1="49.9" y1="191.67" x2="53.1" y2="191.67" stroke="#333" stroke-width="0.8"/>
<line x1="60.95" y1="190.66" x2="60.95" y2="193.37" stroke="#333" stroke-width="0.9"/>
<line x1="59.35" y1="190.66" x2="62.55" y2="190.66" stroke="#333" stroke-width="0.8"/>
<line x1="59.35" y1="193.37" x2="62.55" y2="193.37" stroke="#333" stroke-width="0.8"/>
<text x="51.5" y="290.4" font-family='"Liberation Serif", serif' font-size="6.3" font-weight="bold" text-anchor="middle" fill="#000">AUC</text>
<rect x="68.91" y="196.99" width="9.45" height="85.81" fill="#c4849f"/>
<rect x="78.36" y="195.64" width="9.45" height="87.16" fill="#264a60"/>
<rect x="87.81" y="195.64" width="9.45" height="87.16" fill="#e3c6d2"/>
<line x1="73.63" y1="195.64" x2="73.63" y2="198.35" stroke="#333" stroke-width="0.9"/>
<line x1="72.03" y1="195.64" x2="75.23" y2="195.64" stroke="#333" stroke-width="0.8"/>
<line x1="72.03" y1="198.35" x2="75.23" y2="198.35" stroke="#333" stroke-width="0.8"/>
<line x1="83.08" y1="194.5" x2="83.08" y2="196.77" stroke="#333" stroke-width="0.9"/>
<line x1="81.48" y1="194.5" x2="84.68" y2="194.5" stroke="#333" stroke-width="0.8"/>
<line x1="81.48" y1="196.77" x2="84.68" y2="196.77" stroke="#333" stroke-width="0.8"/>
<line x1="92.53" y1="194.28" x2="92.53" y2="196.99" stroke="#333" stroke-width="0.9"/>
<line x1="90.93" y1="194.28" x2="94.13" y2="194.28" stroke="#333" stroke-width="0.8"/>
<line x1="90.93" y1="196.99" x2="94.13" y2="196.99" stroke="#333" stroke-width="0.8"/>
<text x="83.08" y="290.4" font-family='"Liberation Serif", serif' font-size="6.3" font-weight="bold" text-anchor="middle" fill="#000">Accuracy</text>
<rect x="100.48" y="208.88" width="9.45" height="73.92" fill="#c4849f"/>
<rect x="109.94" y="206.73" width="9.45" height="76.07" fill="#264a60"/>
<rect x="119.38" y="210.35" width="9.45" height="72.45" fill="#e3c6d2"/>
<line x1="105.21" y1="204.92" x2="105.21" y2="212.84" stroke="#333" stroke-width="0.9"/>
<line x1="103.61" y1="204.92" x2="106.81" y2="204.92" stroke="#333" stroke-width="0.8"/>
<line x1="103.61" y1="212.84" x2="106.81" y2="212.84" stroke="#333" stroke-width="0.8"/>
<line x1="114.66" y1="203.33" x2="114.66" y2="210.13" stroke="#333" stroke-width="0.9"/>
<line x1="113.06" y1="203.33" x2="116.26" y2="203.33" stroke="#333" stroke-width="0.8"/>
<line x1="113.06" y1="210.13" x2="116.26" y2="210.13" stroke="#333" stroke-width="0.8"/>
<line x1="124.11" y1="206.96" x2="124.11" y2="213.75" stroke="#333" stroke-width="0.9"/>
<line x1="122.51" y1="206.96" x2="125.71" y2="206.96" stroke="#333" stroke-width="0.8"/>
<line x1="122.51" y1="213.75" x2="125.71" y2="213.75" stroke="#333" stroke-width="0.8"/>
<text x="114.66" y="290.4" font-family='"Liberation Serif", serif' font-size="6.3" font-weight="bold" text-anchor="middle" fill="#000">Sensitivity</text>
<rect x="132.06" y="194.28" width="9.45" height="88.52" fill="#c4849f"/>
<rect x="141.51" y="193.37" width="9.45" height="89.43" fill="#264a60"/>
<rect x="150.97" y="191.67" width="9.45" height="91.13" fill="#e3c6d2"/>
<line x1="136.79" y1="192.92" x2="136.79" y2="195.64" stroke="#333" stroke-width="0.9"/>
<line x1="135.19" y1="192.92" x2="138.39" y2="192.92" stroke="#333" stroke-width="0.8"/>
<line x1="135.19" y1="195.64" x2="138.39" y2="195.64" stroke="#333" stroke-width="0.8"/>
<line x1="146.24" y1="192.01" x2="146.24" y2="194.73" stroke="#333" stroke-width="0.9"/>
<line x1="144.64" y1="192.01" x2="147.84" y2="192.01" stroke="#333" stroke-width="0.8"/>
<line x1="144.64" y1="194.73" x2="147.84" y2="194.73" stroke="#333" stroke-width="0.8"/>
<line x1="155.69" y1="190.54" x2="155.69" y2="192.81" stroke="#333" stroke-width="0.9"/>
<line x1="154.09" y1="190.54" x2="157.29" y2="190.54" stroke="#333" stroke-width="0.8"/>
<line x1="154.09" y1="192.81" x2="157.29" y2="192.81" stroke="#333" stroke-width="0.8"/>
<text x="146.24" y="290.4" font-family='"Liberation Serif", serif' font-size="6.3" font-weight="bold" text-anchor="middle" fill="#000">Specificity</text>
<rect x="163.64" y="180.58" width="9.45" height="102.22" fill="#c4849f"/>
<rect x="173.09" y="180.01" width="9.45" height="102.79" fill="#264a60"/>
<rect x="182.54" y="180.92" width="9.45" height="101.88" fill="#e3c6d2"/>
<line x1="168.37" y1="179.45" x2="168.37" y2="181.71" stroke="#333" stroke-width="0.9"/>
<line x1="166.77" y1="179.45" x2="169.97" y2="179.45" stroke="#333" stroke-width="0.8"/>
<line x1="166.77" y1="181.71" x2="169.97" y2="181.71" stroke="#333" stroke-width="0.8"/>
<line x1="177.82" y1="179.11" x2="177.82" y2="180.92" stroke="#333" stroke-width="0.9"/>
<line x1="176.22" y1="179.11" x2="179.42" y2="179.11" stroke="#333" stroke-width="0.8"/>
<line x1="176.22" y1="180.92" x2="179.42" y2="180.92" stroke="#333" stroke-width="0.8"/>
<line x1="187.27" y1="179.79" x2="187.27" y2="182.05" stroke="#333" stroke-width="0.9"/>
<line x1="185.67" y1="179.79" x2="188.87" y2="179.79" stroke="#333" stroke-width="0.8"/>
<line x1="185.67" y1="182.05" x2="188.87" y2="182.05" stroke="#333" stroke-width="0.8"/>
<text x="177.82" y="290.4" font-family='"Liberation Serif", serif' font-size="6.3" font-weight="bold" text-anchor="middle" fill="#000">PPV</text>
<rect x="195.22" y="234.69" width="9.45" height="48.11" fill="#c4849f"/>
<rect x="204.67" y="232.99" width="9.45" height="49.81" fill="#264a60"/>
<rect x="214.12" y="232.43" width="9.45" height="50.37" fill="#e3c6d2"/>
<line x1="199.95" y1="231.86" x2="199.95" y2="237.52" stroke="#333" stroke-width="0.9"/>
<line x1="198.35" y1="231.86" x2="201.55" y2="231.86" stroke="#333" stroke-width="0.8"/>
<line x1="198.35" y1="237.52" x2="201.55" y2="237.52" stroke="#333" stroke-width="0.8"/>
<line x1="209.4" y1="230.16" x2="209.4" y2="235.82" stroke="#333" stroke-width="0.9"/>
<line x1="207.8" y1="230.16" x2="211" y2="230.16" stroke="#333" stroke-width="0.8"/>
<line x1="207.8" y1="235.82" x2="211" y2="235.82" stroke="#333" stroke-width="0.8"/>
<line x1="218.85" y1="229.03" x2="218.85" y2="235.82" stroke="#333" stroke-width="0.9"/>
<line x1="217.25" y1="229.03" x2="220.45" y2="229.03" stroke="#333" stroke-width="0.8"/>
<line x1="217.25" y1="235.82" x2="220.45" y2="235.82" stroke="#333" stroke-width="0.8"/>
<text x="209.4" y="290.4" font-family='"Liberation Serif", serif' font-size="6.3" font-weight="bold" text-anchor="middle" fill="#000">NPV</text>
<line x1="28.1" y1="169" x2="28.1" y2="283.3" stroke="#8c8c8c" stroke-width="1.3"/>
<line x1="27.5" y1="283" x2="227.4" y2="283" stroke="#8c8c8c" stroke-width="1.3"/>
<line x1="26" y1="282.8" x2="27.8" y2="282.8" stroke="#444" stroke-width="0.8"/>
<text x="25.1" y="285.3" font-family='"Liberation Sans", sans-serif' font-size="7.1" font-weight="normal" text-anchor="end" fill="#262626">0.0</text>
<line x1="26" y1="260.16" x2="27.8" y2="260.16" stroke="#444" stroke-width="0.8"/>
<text x="25.1" y="262.66" font-family='"Liberation Sans", sans-serif' font-size="7.1" font-weight="normal" text-anchor="end" fill="#262626">0.2</text>
<line x1="26" y1="237.52" x2="27.8" y2="237.52" stroke="#444" stroke-width="0.8"/>
<text x="25.1" y="240.02" font-family='"Liberation Sans", sans-serif' font-size="7.1" font-weight="normal" text-anchor="end" fill="#262626">0.4</text>
<line x1="26" y1="214.88" x2="27.8" y2="214.88" stroke="#444" stroke-width="0.8"/>
<text x="25.1" y="217.38" font-family='"Liberation Sans", sans-serif' font-size="7.1" font-weight="normal" text-anchor="end" fill="#262626">0.6</text>
<line x1="26" y1="192.24" x2="27.8" y2="192.24" stroke="#444" stroke-width="0.8"/>
<text x="25.1" y="194.74" font-family='"Liberation Sans", sans-serif' font-size="7.1" font-weight="normal" text-anchor="end" fill="#262626">0.8</text>
<line x1="26" y1="169.6" x2="27.8" y2="169.6" stroke="#444" stroke-width="0.8"/>
<text x="25.1" y="172.1" font-family='"Liberation Sans", sans-serif' font-size="7.1" font-weight="normal" text-anchor="end" fill="#262626">1.0</text>
<text x="12.2" y="225.9" font-family='"Liberation Serif", serif' font-size="8.2" font-weight="bold" text-anchor="middle" fill="#000" transform="rotate(-90 12.2 225.9)">Value</text>
<rect x="44.7" y="160" width="15.4" height="4.6" fill="#c4849f"/>
<text x="66.9" y="164.9" font-family='"Liberation Serif", serif' font-size="7.6" font-weight="bold" text-anchor="start" fill="#000">ViT-1:1</text>
<rect x="107.1" y="160" width="15.4" height="4.6" fill="#264a60"/>
<text x="129.3" y="164.9" font-family='"Liberation Serif", serif' font-size="7.6" font-weight="bold" text-anchor="start" fill="#000">ViT-1:2</text>
<rect x="169.5" y="160" width="15.4" height="4.6" fill="#e3c6d2"/>
<text x="191.7" y="164.9" font-family='"Liberation Serif", serif' font-size="7.6" font-weight="bold" text-anchor="start" fill="#000">ViT-1:4</text>
<line x1="253.9" y1="260.16" x2="451.6" y2="260.16" stroke="#e2e2e2" stroke-width="0.6" stroke-dasharray="2.2,1.2"/>
<line x1="253.9" y1="237.52" x2="451.6" y2="237.52" stroke="#e2e2e2" stroke-width="0.6" stroke-dasharray="2.2,1.2"/>
<line x1="253.9" y1="214.88" x2="451.6" y2="214.88" stroke="#e2e2e2" stroke-width="0.6" stroke-dasharray="2.2,1.2"/>
<line x1="253.9" y1="192.24" x2="451.6" y2="192.24" stroke="#e2e2e2" stroke-width="0.6" stroke-dasharray="2.2,1.2"/>
<line x1="253.9" y1="169.6" x2="451.6" y2="169.6" stroke="#e2e2e2" stroke-width="0.6" stroke-dasharray="2.2,1.2"/>
<rect x="263.18" y="197.45" width="9.38" height="85.35" fill="#c4849f"/>
<rect x="272.56" y="192.92" width="9.38" height="89.88" fill="#264a60"/>
<rect x="281.94" y="201.86" width="9.38" height="80.94" fill="#e3c6d2"/>
<line x1="267.87" y1="194.62" x2="267.87" y2="200.28" stroke="#333" stroke-width="0.9"/>
<line x1="266.27" y1="194.62" x2="269.47" y2="194.62" stroke="#333" stroke-width="0.8"/>
<line x1="266.27" y1="200.28" x2="269.47" y2="200.28" stroke="#333" stroke-width="0.8"/>
<line x1="277.25" y1="190.66" x2="277.25" y2="195.18" stroke="#333" stroke-width="0.9"/>
<line x1="275.65" y1="190.66" x2="278.85" y2="190.66" stroke="#333" stroke-width="0.8"/>
<line x1="275.65" y1="195.18" x2="278.85" y2="195.18" stroke="#333" stroke-width="0.8"/>
<line x1="286.63" y1="198.47" x2="286.63" y2="205.26" stroke="#333" stroke-width="0.9"/>
<line x1="285.03" y1="198.47" x2="288.23" y2="198.47" stroke="#333" stroke-width="0.8"/>
<line x1="285.03" y1="205.26" x2="288.23" y2="205.26" stroke="#333" stroke-width="0.8"/>
<text x="277.25" y="290.4" font-family='"Liberation Serif", serif' font-size="6.3" font-weight="bold" text-anchor="middle" fill="#000">AUC</text>
<rect x="294.41" y="201.52" width="9.38" height="81.28" fill="#c4849f"/>
<rect x="303.79" y="198.01" width="9.38" height="84.79" fill="#264a60"/>
<rect x="313.17" y="204.13" width="9.38" height="78.67" fill="#e3c6d2"/>
<line x1="299.1" y1="199.26" x2="299.1" y2="203.79" stroke="#333" stroke-width="0.9"/>
<line x1="297.5" y1="199.26" x2="300.7" y2="199.26" stroke="#333" stroke-width="0.8"/>
<line x1="297.5" y1="203.79" x2="300.7" y2="203.79" stroke="#333" stroke-width="0.8"/>
<line x1="308.48" y1="195.75" x2="308.48" y2="200.28" stroke="#333" stroke-width="0.9"/>
<line x1="306.88" y1="195.75" x2="310.08" y2="195.75" stroke="#333" stroke-width="0.8"/>
<line x1="306.88" y1="200.28" x2="310.08" y2="200.28" stroke="#333" stroke-width="0.8"/>
<line x1="317.86" y1="201.3" x2="317.86" y2="206.96" stroke="#333" stroke-width="0.9"/>
<line x1="316.26" y1="201.3" x2="319.46" y2="201.3" stroke="#333" stroke-width="0.8"/>
<line x1="316.26" y1="206.96" x2="319.46" y2="206.96" stroke="#333" stroke-width="0.8"/>
<text x="308.48" y="290.4" font-family='"Liberation Serif", serif' font-size="6.3" font-weight="bold" text-anchor="middle" fill="#000">Accuracy</text>
<rect x="325.64" y="211.26" width="9.38" height="71.54" fill="#c4849f"/>
<rect x="335.02" y="207.97" width="9.38" height="74.83" fill="#264a60"/>
<rect x="344.4" y="212.28" width="9.38" height="70.52" fill="#e3c6d2"/>
<line x1="330.33" y1="205.6" x2="330.33" y2="216.92" stroke="#333" stroke-width="0.9"/>
<line x1="328.73" y1="205.6" x2="331.93" y2="205.6" stroke="#333" stroke-width="0.8"/>
<line x1="328.73" y1="216.92" x2="331.93" y2="216.92" stroke="#333" stroke-width="0.8"/>
<line x1="339.71" y1="202.31" x2="339.71" y2="213.63" stroke="#333" stroke-width="0.9"/>
<line x1="338.11" y1="202.31" x2="341.31" y2="202.31" stroke="#333" stroke-width="0.8"/>
<line x1="338.11" y1="213.63" x2="341.31" y2="213.63" stroke="#333" stroke-width="0.8"/>
<line x1="349.09" y1="207.18" x2="349.09" y2="217.37" stroke="#333" stroke-width="0.9"/>
<line x1="347.49" y1="207.18" x2="350.69" y2="207.18" stroke="#333" stroke-width="0.8"/>
<line x1="347.49" y1="217.37" x2="350.69" y2="217.37" stroke="#333" stroke-width="0.8"/>
<text x="339.71" y="290.4" font-family='"Liberation Serif", serif' font-size="6.3" font-weight="bold" text-anchor="middle" fill="#000">Sensitivity</text>
<rect x="356.87" y="198.92" width="9.38" height="83.88" fill="#c4849f"/>
<rect x="366.25" y="195.64" width="9.38" height="87.16" fill="#264a60"/>
<rect x="375.63" y="201.64" width="9.38" height="81.16" fill="#e3c6d2"/>
<line x1="361.56" y1="196.65" x2="361.56" y2="201.18" stroke="#333" stroke-width="0.9"/>
<line x1="359.96" y1="196.65" x2="363.16" y2="196.65" stroke="#333" stroke-width="0.8"/>
<line x1="359.96" y1="201.18" x2="363.16" y2="201.18" stroke="#333" stroke-width="0.8"/>
<line x1="370.94" y1="193.37" x2="370.94" y2="197.9" stroke="#333" stroke-width="0.9"/>
<line x1="369.34" y1="193.37" x2="372.54" y2="193.37" stroke="#333" stroke-width="0.8"/>
<line x1="369.34" y1="197.9" x2="372.54" y2="197.9" stroke="#333" stroke-width="0.8"/>
<line x1="380.32" y1="198.81" x2="380.32" y2="204.47" stroke="#333" stroke-width="0.9"/>
<line x1="378.72" y1="198.81" x2="381.92" y2="198.81" stroke="#333" stroke-width="0.8"/>
<line x1="378.72" y1="204.47" x2="381.92" y2="204.47" stroke="#333" stroke-width="0.8"/>
<text x="370.94" y="290.4" font-family='"Liberation Serif", serif' font-size="6.3" font-weight="bold" text-anchor="middle" fill="#000">Specificity</text>
<rect x="388.1" y="182.84" width="9.38" height="99.96" fill="#c4849f"/>
<rect x="397.48" y="182.05" width="9.38" height="100.75" fill="#264a60"/>
<rect x="406.86" y="183.86" width="9.38" height="98.94" fill="#e3c6d2"/>
<line x1="392.79" y1="181.15" x2="392.79" y2="184.54" stroke="#333" stroke-width="0.9"/>
<line x1="391.19" y1="181.15" x2="394.39" y2="181.15" stroke="#333" stroke-width="0.8"/>
<line x1="391.19" y1="184.54" x2="394.39" y2="184.54" stroke="#333" stroke-width="0.8"/>
<line x1="402.17" y1="180.35" x2="402.17" y2="183.75" stroke="#333" stroke-width="0.9"/>
<line x1="400.57" y1="180.35" x2="403.77" y2="180.35" stroke="#333" stroke-width="0.8"/>
<line x1="400.57" y1="183.75" x2="403.77" y2="183.75" stroke="#333" stroke-width="0.8"/>
<line x1="411.55" y1="182.17" x2="411.55" y2="185.56" stroke="#333" stroke-width="0.9"/>
<line x1="409.95" y1="182.17" x2="413.15" y2="182.17" stroke="#333" stroke-width="0.8"/>
<line x1="409.95" y1="185.56" x2="413.15" y2="185.56" stroke="#333" stroke-width="0.8"/>
<text x="402.17" y="290.4" font-family='"Liberation Serif", serif' font-size="6.3" font-weight="bold" text-anchor="middle" fill="#000">PPV</text>
<rect x="419.33" y="237.41" width="9.38" height="45.39" fill="#c4849f"/>
<rect x="428.71" y="232.54" width="9.38" height="50.26" fill="#264a60"/>
<rect x="438.09" y="240.46" width="9.38" height="42.34" fill="#e3c6d2"/>
<line x1="424.02" y1="232.88" x2="424.02" y2="241.93" stroke="#333" stroke-width="0.9"/>
<line x1="422.42" y1="232.88" x2="425.62" y2="232.88" stroke="#333" stroke-width="0.8"/>
<line x1="422.42" y1="241.93" x2="425.62" y2="241.93" stroke="#333" stroke-width="0.8"/>
<line x1="433.4" y1="227.45" x2="433.4" y2="237.63" stroke="#333" stroke-width="0.9"/>
<line x1="431.8" y1="227.45" x2="435" y2="227.45" stroke="#333" stroke-width="0.8"/>
<line x1="431.8" y1="237.63" x2="435" y2="237.63" stroke="#333" stroke-width="0.8"/>
<line x1="442.78" y1="235.94" x2="442.78" y2="244.99" stroke="#333" stroke-width="0.9"/>
<line x1="441.18" y1="235.94" x2="444.38" y2="235.94" stroke="#333" stroke-width="0.8"/>
<line x1="441.18" y1="244.99" x2="444.38" y2="244.99" stroke="#333" stroke-width="0.8"/>
<text x="433.4" y="290.4" font-family='"Liberation Serif", serif' font-size="6.3" font-weight="bold" text-anchor="middle" fill="#000">NPV</text>
<line x1="254.2" y1="169" x2="254.2" y2="283.3" stroke="#8c8c8c" stroke-width="1.3"/>
<line x1="253.6" y1="283" x2="451.6" y2="283" stroke="#8c8c8c" stroke-width="1.3"/>
<line x1="252.1" y1="282.8" x2="253.9" y2="282.8" stroke="#444" stroke-width="0.8"/>
<text x="251.2" y="285.3" font-family='"Liberation Sans", sans-serif' font-size="7.1" font-weight="normal" text-anchor="end" fill="#262626">0.0</text>
<line x1="252.1" y1="260.16" x2="253.9" y2="260.16" stroke="#444" stroke-width="0.8"/>
<text x="251.2" y="262.66" font-family='"Liberation Sans", sans-serif' font-size="7.1" font-weight="normal" text-anchor="end" fill="#262626">0.2</text>
<line x1="252.1" y1="237.52" x2="253.9" y2="237.52" stroke="#444" stroke-width="0.8"/>
<text x="251.2" y="240.02" font-family='"Liberation Sans", sans-serif' font-size="7.1" font-weight="normal" text-anchor="end" fill="#262626">0.4</text>
<line x1="252.1" y1="214.88" x2="253.9" y2="214.88" stroke="#444" stroke-width="0.8"/>
<text x="251.2" y="217.38" font-family='"Liberation Sans", sans-serif' font-size="7.1" font-weight="normal" text-anchor="end" fill="#262626">0.6</text>
<line x1="252.1" y1="192.24" x2="253.9" y2="192.24" stroke="#444" stroke-width="0.8"/>
<text x="251.2" y="194.74" font-family='"Liberation Sans", sans-serif' font-size="7.1" font-weight="normal" text-anchor="end" fill="#262626">0.8</text>
<line x1="252.1" y1="169.6" x2="253.9" y2="169.6" stroke="#444" stroke-width="0.8"/>
<text x="251.2" y="172.1" font-family='"Liberation Sans", sans-serif' font-size="7.1" font-weight="normal" text-anchor="end" fill="#262626">1.0</text>
<text x="238.3" y="225.9" font-family='"Liberation Serif", serif' font-size="8.2" font-weight="bold" text-anchor="middle" fill="#000" transform="rotate(-90 238.3 225.9)">Value</text>
<rect x="270.5" y="160" width="15.4" height="4.6" fill="#c4849f"/>
<text x="292.7" y="164.9" font-family='"Liberation Serif", serif' font-size="7.6" font-weight="bold" text-anchor="start" fill="#000">ViT-1:1</text>
<rect x="332.35" y="160" width="15.4" height="4.6" fill="#264a60"/>
<text x="354.55" y="164.9" font-family='"Liberation Serif", serif' font-size="7.6" font-weight="bold" text-anchor="start" fill="#000">ViT-1:2</text>
<rect x="394.2" y="160" width="15.4" height="4.6" fill="#e3c6d2"/>
<text x="416.4" y="164.9" font-family='"Liberation Serif", serif' font-size="7.6" font-weight="bold" text-anchor="start" fill="#000">ViT-1:4</text>
<line x1="480.5" y1="260.16" x2="677.3" y2="260.16" stroke="#e2e2e2" stroke-width="0.6" stroke-dasharray="2.2,1.2"/>
<line x1="480.5" y1="237.52" x2="677.3" y2="237.52" stroke="#e2e2e2" stroke-width="0.6" stroke-dasharray="2.2,1.2"/>
<line x1="480.5" y1="214.88" x2="677.3" y2="214.88" stroke="#e2e2e2" stroke-width="0.6" stroke-dasharray="2.2,1.2"/>
<line x1="480.5" y1="192.24" x2="677.3" y2="192.24" stroke="#e2e2e2" stroke-width="0.6" stroke-dasharray="2.2,1.2"/>
<line x1="480.5" y1="169.6" x2="677.3" y2="169.6" stroke="#e2e2e2" stroke-width="0.6" stroke-dasharray="2.2,1.2"/>
<rect x="489.4" y="198.69" width="9.33" height="84.11" fill="#c4849f"/>
<rect x="498.73" y="193.94" width="9.33" height="88.86" fill="#264a60"/>
<rect x="508.06" y="199.94" width="9.33" height="82.86" fill="#e3c6d2"/>
<line x1="494.07" y1="195.86" x2="494.07" y2="201.52" stroke="#333" stroke-width="0.9"/>
<line x1="492.47" y1="195.86" x2="495.67" y2="195.86" stroke="#333" stroke-width="0.8"/>
<line x1="492.47" y1="201.52" x2="495.67" y2="201.52" stroke="#333" stroke-width="0.8"/>
<line x1="503.4" y1="191.67" x2="503.4" y2="196.2" stroke="#333" stroke-width="0.9"/>
<line x1="501.8" y1="191.67" x2="505" y2="191.67" stroke="#333" stroke-width="0.8"/>
<line x1="501.8" y1="196.2" x2="505" y2="196.2" stroke="#333" stroke-width="0.8"/>
<line x1="512.73" y1="197.11" x2="512.73" y2="202.77" stroke="#333" stroke-width="0.9"/>
<line x1="511.13" y1="197.11" x2="514.33" y2="197.11" stroke="#333" stroke-width="0.8"/>
<line x1="511.13" y1="202.77" x2="514.33" y2="202.77" stroke="#333" stroke-width="0.8"/>
<text x="503.4" y="290.4" font-family='"Liberation Serif", serif' font-size="6.3" font-weight="bold" text-anchor="middle" fill="#000">AUC</text>
<rect x="520.61" y="204.35" width="9.33" height="78.45" fill="#c4849f"/>
<rect x="529.94" y="199.94" width="9.33" height="82.86" fill="#264a60"/>
<rect x="539.26" y="202.2" width="9.33" height="80.6" fill="#e3c6d2"/>
<line x1="525.27" y1="201.52" x2="525.27" y2="207.18" stroke="#333" stroke-width="0.9"/>
<line x1="523.67" y1="201.52" x2="526.87" y2="201.52" stroke="#333" stroke-width="0.8"/>
<line x1="523.67" y1="207.18" x2="526.87" y2="207.18" stroke="#333" stroke-width="0.8"/>
<line x1="534.6" y1="197.67" x2="534.6" y2="202.2" stroke="#333" stroke-width="0.9"/>
<line x1="533" y1="197.67" x2="536.2" y2="197.67" stroke="#333" stroke-width="0.8"/>
<line x1="533" y1="202.2" x2="536.2" y2="202.2" stroke="#333" stroke-width="0.8"/>
<line x1="543.93" y1="199.37" x2="543.93" y2="205.03" stroke="#333" stroke-width="0.9"/>
<line x1="542.33" y1="199.37" x2="545.53" y2="199.37" stroke="#333" stroke-width="0.8"/>
<line x1="542.33" y1="205.03" x2="545.53" y2="205.03" stroke="#333" stroke-width="0.8"/>
<text x="534.6" y="290.4" font-family='"Liberation Serif", serif' font-size="6.3" font-weight="bold" text-anchor="middle" fill="#000">Accuracy</text>
<rect x="551.8" y="210.35" width="9.33" height="72.45" fill="#c4849f"/>
<rect x="561.13" y="211.71" width="9.33" height="71.09" fill="#264a60"/>
<rect x="570.46" y="213.63" width="9.33" height="69.17" fill="#e3c6d2"/>
<line x1="556.47" y1="204.13" x2="556.47" y2="216.58" stroke="#333" stroke-width="0.9"/>
<line x1="554.87" y1="204.13" x2="558.07" y2="204.13" stroke="#333" stroke-width="0.8"/>
<line x1="554.87" y1="216.58" x2="558.07" y2="216.58" stroke="#333" stroke-width="0.8"/>
<line x1="565.8" y1="205.48" x2="565.8" y2="217.94" stroke="#333" stroke-width="0.9"/>
<line x1="564.2" y1="205.48" x2="567.4" y2="205.48" stroke="#333" stroke-width="0.8"/>
<line x1="564.2" y1="217.94" x2="567.4" y2="217.94" stroke="#333" stroke-width="0.8"/>
<line x1="575.13" y1="207.97" x2="575.13" y2="219.29" stroke="#333" stroke-width="0.9"/>
<line x1="573.53" y1="207.97" x2="576.73" y2="207.97" stroke="#333" stroke-width="0.8"/>
<line x1="573.53" y1="219.29" x2="576.73" y2="219.29" stroke="#333" stroke-width="0.8"/>
<text x="565.8" y="290.4" font-family='"Liberation Serif", serif' font-size="6.3" font-weight="bold" text-anchor="middle" fill="#000">Sensitivity</text>
<rect x="583" y="203.22" width="9.33" height="79.58" fill="#c4849f"/>
<rect x="592.34" y="197.45" width="9.33" height="85.35" fill="#264a60"/>
<rect x="601.66" y="200.28" width="9.33" height="82.52" fill="#e3c6d2"/>
<line x1="587.67" y1="200.39" x2="587.67" y2="206.05" stroke="#333" stroke-width="0.9"/>
<line x1="586.07" y1="200.39" x2="589.27" y2="200.39" stroke="#333" stroke-width="0.8"/>
<line x1="586.07" y1="206.05" x2="589.27" y2="206.05" stroke="#333" stroke-width="0.8"/>
<line x1="597" y1="195.18" x2="597" y2="199.71" stroke="#333" stroke-width="0.9"/>
<line x1="595.4" y1="195.18" x2="598.6" y2="195.18" stroke="#333" stroke-width="0.8"/>
<line x1="595.4" y1="199.71" x2="598.6" y2="199.71" stroke="#333" stroke-width="0.8"/>
<line x1="606.33" y1="198.01" x2="606.33" y2="202.54" stroke="#333" stroke-width="0.9"/>
<line x1="604.73" y1="198.01" x2="607.93" y2="198.01" stroke="#333" stroke-width="0.8"/>
<line x1="604.73" y1="202.54" x2="607.93" y2="202.54" stroke="#333" stroke-width="0.8"/>
<text x="597" y="290.4" font-family='"Liberation Serif", serif' font-size="6.3" font-weight="bold" text-anchor="middle" fill="#000">Specificity</text>
<rect x="614.2" y="182.17" width="9.33" height="100.63" fill="#c4849f"/>
<rect x="623.53" y="181.71" width="9.33" height="101.09" fill="#264a60"/>
<rect x="632.86" y="182.62" width="9.33" height="100.18" fill="#e3c6d2"/>
<line x1="618.87" y1="180.47" x2="618.87" y2="183.86" stroke="#333" stroke-width="0.9"/>
<line x1="617.27" y1="180.47" x2="620.47" y2="180.47" stroke="#333" stroke-width="0.8"/>
<line x1="617.27" y1="183.86" x2="620.47" y2="183.86" stroke="#333" stroke-width="0.8"/>
<line x1="628.2" y1="180.01" x2="628.2" y2="183.41" stroke="#333" stroke-width="0.9"/>
<line x1="626.6" y1="180.01" x2="629.8" y2="180.01" stroke="#333" stroke-width="0.8"/>
<line x1="626.6" y1="183.41" x2="629.8" y2="183.41" stroke="#333" stroke-width="0.8"/>
<line x1="637.53" y1="180.92" x2="637.53" y2="184.32" stroke="#333" stroke-width="0.9"/>
<line x1="635.93" y1="180.92" x2="639.13" y2="180.92" stroke="#333" stroke-width="0.8"/>
<line x1="635.93" y1="184.32" x2="639.13" y2="184.32" stroke="#333" stroke-width="0.8"/>
<text x="628.2" y="290.4" font-family='"Liberation Serif", serif' font-size="6.3" font-weight="bold" text-anchor="middle" fill="#000">PPV</text>
<rect x="645.4" y="243.41" width="9.33" height="39.39" fill="#c4849f"/>
<rect x="654.74" y="238.65" width="9.33" height="44.15" fill="#264a60"/>
<rect x="664.06" y="241.6" width="9.33" height="41.2" fill="#e3c6d2"/>
<line x1="650.07" y1="238.88" x2="650.07" y2="247.93" stroke="#333" stroke-width="0.9"/>
<line x1="648.47" y1="238.88" x2="651.67" y2="238.88" stroke="#333" stroke-width="0.8"/>
<line x1="648.47" y1="247.93" x2="651.67" y2="247.93" stroke="#333" stroke-width="0.8"/>
<line x1="659.4" y1="233.56" x2="659.4" y2="243.75" stroke="#333" stroke-width="0.9"/>
<line x1="657.8" y1="233.56" x2="661" y2="233.56" stroke="#333" stroke-width="0.8"/>
<line x1="657.8" y1="243.75" x2="661" y2="243.75" stroke="#333" stroke-width="0.8"/>
<line x1="668.73" y1="237.07" x2="668.73" y2="246.12" stroke="#333" stroke-width="0.9"/>
<line x1="667.13" y1="237.07" x2="670.33" y2="237.07" stroke="#333" stroke-width="0.8"/>
<line x1="667.13" y1="246.12" x2="670.33" y2="246.12" stroke="#333" stroke-width="0.8"/>
<text x="659.4" y="290.4" font-family='"Liberation Serif", serif' font-size="6.3" font-weight="bold" text-anchor="middle" fill="#000">NPV</text>
<line x1="480.8" y1="169" x2="480.8" y2="283.3" stroke="#8c8c8c" stroke-width="1.3"/>
<line x1="480.2" y1="283" x2="677.3" y2="283" stroke="#8c8c8c" stroke-width="1.3"/>
<line x1="478.7" y1="282.8" x2="480.5" y2="282.8" stroke="#444" stroke-width="0.8"/>
<text x="477.8" y="285.3" font-family='"Liberation Sans", sans-serif' font-size="7.1" font-weight="normal" text-anchor="end" fill="#262626">0.0</text>
<line x1="478.7" y1="260.16" x2="480.5" y2="260.16" stroke="#444" stroke-width="0.8"/>
<text x="477.8" y="262.66" font-family='"Liberation Sans", sans-serif' font-size="7.1" font-weight="normal" text-anchor="end" fill="#262626">0.2</text>
<line x1="478.7" y1="237.52" x2="480.5" y2="237.52" stroke="#444" stroke-width="0.8"/>
<text x="477.8" y="240.02" font-family='"Liberation Sans", sans-serif' font-size="7.1" font-weight="normal" text-anchor="end" fill="#262626">0.4</text>
<line x1="478.7" y1="214.88" x2="480.5" y2="214.88" stroke="#444" stroke-width="0.8"/>
<text x="477.8" y="217.38" font-family='"Liberation Sans", sans-serif' font-size="7.1" font-weight="normal" text-anchor="end" fill="#262626">0.6</text>
<line x1="478.7" y1="192.24" x2="480.5" y2="192.24" stroke="#444" stroke-width="0.8"/>
<text x="477.8" y="194.74" font-family='"Liberation Sans", sans-serif' font-size="7.1" font-weight="normal" text-anchor="end" fill="#262626">0.8</text>
<line x1="478.7" y1="169.6" x2="480.5" y2="169.6" stroke="#444" stroke-width="0.8"/>
<text x="477.8" y="172.1" font-family='"Liberation Sans", sans-serif' font-size="7.1" font-weight="normal" text-anchor="end" fill="#262626">1.0</text>
<text x="464.9" y="225.9" font-family='"Liberation Serif", serif' font-size="8.2" font-weight="bold" text-anchor="middle" fill="#000" transform="rotate(-90 464.9 225.9)">Value</text>
<rect x="496.9" y="160" width="15.4" height="4.6" fill="#c4849f"/>
<text x="519.1" y="164.9" font-family='"Liberation Serif", serif' font-size="7.6" font-weight="bold" text-anchor="start" fill="#000">ViT-1:1</text>
<rect x="558.7" y="160" width="15.4" height="4.6" fill="#264a60"/>
<text x="580.9" y="164.9" font-family='"Liberation Serif", serif' font-size="7.6" font-weight="bold" text-anchor="start" fill="#000">ViT-1:2</text>
<rect x="620.5" y="160" width="15.4" height="4.6" fill="#e3c6d2"/>
<text x="642.7" y="164.9" font-family='"Liberation Serif", serif' font-size="7.6" font-weight="bold" text-anchor="start" fill="#000">ViT-1:4</text>
<defs>
<linearGradient id="cbg0" x1="0" y1="1" x2="0" y2="0"><stop offset="0" stop-color="#fbf6f8"/><stop offset="1" stop-color="#bb7592"/></linearGradient>
<linearGradient id="cbg1" x1="0" y1="1" x2="0" y2="0"><stop offset="0" stop-color="#fbf6f8"/><stop offset="1" stop-color="#bb7592"/></linearGradient>
<linearGradient id="cbg2" x1="0" y1="1" x2="0" y2="0"><stop offset="0" stop-color="#f8f9fa"/><stop offset="1" stop-color="#1d3b52"/></linearGradient>
<linearGradient id="cbg3" x1="0" y1="1" x2="0" y2="0"><stop offset="0" stop-color="#f8f9fa"/><stop offset="1" stop-color="#1d3b52"/></linearGradient>
<linearGradient id="cbg4" x1="0" y1="1" x2="0" y2="0"><stop offset="0" stop-color="#fdfbfc"/><stop offset="1" stop-color="#d9bcc8"/></linearGradient>
<linearGradient id="cbg5" x1="0" y1="1" x2="0" y2="0"><stop offset="0" stop-color="#fdfbfc"/><stop offset="1" stop-color="#d9bcc8"/></linearGradient>
</defs>
<rect x="26.7" y="312.7" width="38.15" height="38.15" fill="#bf7c97"/>
<text x="45.77" y="330.47" font-family='"Liberation Serif", serif' font-size="7.4" font-weight="bold" text-anchor="middle" fill="#fff">296</text>
<text x="45.77" y="338.57" font-family='"Liberation Serif", serif' font-size="7.4" font-weight="bold" text-anchor="middle" fill="#fff">(73.8%)</text>
<rect x="64.85" y="312.7" width="38.15" height="38.15" fill="#ead6df"/>
<text x="83.92" y="330.47" font-family='"Liberation Serif", serif' font-size="7.4" font-weight="bold" text-anchor="middle" fill="#111">105</text>
<text x="83.92" y="338.57" font-family='"Liberation Serif", serif' font-size="7.4" font-weight="bold" text-anchor="middle" fill="#111">(26.2%)</text>
<rect x="26.7" y="350.85" width="38.15" height="38.15" fill="#fdfbfc"/>
<text x="45.77" y="368.62" font-family='"Liberation Serif", serif' font-size="7.4" font-weight="bold" text-anchor="middle" fill="#111">41</text>
<text x="45.77" y="376.73" font-family='"Liberation Serif", serif' font-size="7.4" font-weight="bold" text-anchor="middle" fill="#111">(36.6%)</text>
<rect x="64.85" y="350.85" width="38.15" height="38.15" fill="#f2e6eb"/>
<text x="83.92" y="368.62" font-family='"Liberation Serif", serif' font-size="7.4" font-weight="bold" text-anchor="middle" fill="#111">71</text>
<text x="83.92" y="376.73" font-family='"Liberation Serif", serif' font-size="7.4" font-weight="bold" text-anchor="middle" fill="#111">(63.4%)</text>
<line x1="26.7" y1="312.7" x2="26.7" y2="389.5" stroke="#333" stroke-width="0.9"/>
<line x1="26.2" y1="389" x2="103" y2="389" stroke="#333" stroke-width="0.9"/>
<text x="64.85" y="310.9" font-family='"Liberation Serif", serif' font-size="6.85" font-weight="bold" text-anchor="middle" fill="#000">ViT-1:1 on External Val.1</text>
<line x1="24.5" y1="331.77" x2="26.7" y2="331.77" stroke="#333" stroke-width="0.7"/>
<text x="24.4" y="331.77" font-family='"Liberation Serif", serif' font-size="6.8" font-weight="bold" text-anchor="middle" fill="#000" transform="rotate(-90 24.4 331.77)">NHE</text>
<line x1="24.5" y1="369.93" x2="26.7" y2="369.93" stroke="#333" stroke-width="0.7"/>
<text x="24.4" y="369.93" font-family='"Liberation Serif", serif' font-size="6.8" font-weight="bold" text-anchor="middle" fill="#000" transform="rotate(-90 24.4 369.93)">HE</text>
<line x1="45.77" y1="389" x2="45.77" y2="391.2" stroke="#333" stroke-width="0.7"/>
<text x="45.77" y="397.2" font-family='"Liberation Serif", serif' font-size="6.8" font-weight="bold" text-anchor="middle" fill="#000">NHE</text>
<line x1="83.92" y1="389" x2="83.92" y2="391.2" stroke="#333" stroke-width="0.7"/>
<text x="83.92" y="397.2" font-family='"Liberation Serif", serif' font-size="6.8" font-weight="bold" text-anchor="middle" fill="#000">HE</text>
<text x="16" y="350.85" font-family='"Liberation Serif", serif' font-size="7.9" font-weight="bold" text-anchor="middle" fill="#000" transform="rotate(-90 16 350.85)">Ture Label</text>
<rect x="108.2" y="312.7" width="4.1" height="76.3" fill="url(#cbg0)" stroke="#9a9a9a" stroke-width="0.5"/>
<line x1="112.3" y1="338.13" x2="113.8" y2="338.13" stroke="#333" stroke-width="0.6"/>
<text x="119.4" y="338.13" font-family='"Liberation Serif", serif' font-size="6.7" font-weight="bold" text-anchor="middle" fill="#000" transform="rotate(-90 119.4 338.13)">211</text>
<line x1="112.3" y1="363.57" x2="113.8" y2="363.57" stroke="#333" stroke-width="0.6"/>
<text x="119.4" y="363.57" font-family='"Liberation Serif", serif' font-size="6.7" font-weight="bold" text-anchor="middle" fill="#000" transform="rotate(-90 119.4 363.57)">126</text>
<rect x="135.5" y="312.7" width="38.3" height="38.15" fill="#bf7c97"/>
<text x="154.65" y="330.47" font-family='"Liberation Serif", serif' font-size="7.4" font-weight="bold" text-anchor="middle" fill="#fff">227</text>
<text x="154.65" y="338.57" font-family='"Liberation Serif", serif' font-size="7.4" font-weight="bold" text-anchor="middle" fill="#fff">(70.3%)</text>
<rect x="173.8" y="312.7" width="38.3" height="38.15" fill="#e4cad5"/>
<text x="192.95" y="330.47" font-family='"Liberation Serif", serif' font-size="7.4" font-weight="bold" text-anchor="middle" fill="#111">96</text>
<text x="192.95" y="338.57" font-family='"Liberation Serif", serif' font-size="7.4" font-weight="bold" text-anchor="middle" fill="#111">(29.7%)</text>
<rect x="135.5" y="350.85" width="38.3" height="38.15" fill="#fdfbfc"/>
<text x="154.65" y="368.62" font-family='"Liberation Serif", serif' font-size="7.4" font-weight="bold" text-anchor="middle" fill="#111">29</text>
<text x="154.65" y="376.73" font-family='"Liberation Serif", serif' font-size="7.4" font-weight="bold" text-anchor="middle" fill="#111">(35.8%)</text>
<rect x="173.8" y="350.85" width="38.3" height="38.15" fill="#f2e6eb"/>
<text x="192.95" y="368.62" font-family='"Liberation Serif", serif' font-size="7.4" font-weight="bold" text-anchor="middle" fill="#111">52</text>
<text x="192.95" y="376.73" font-family='"Liberation Serif", serif' font-size="7.4" font-weight="bold" text-anchor="middle" fill="#111">(64.2%)</text>
<line x1="135.5" y1="312.7" x2="135.5" y2="389.5" stroke="#333" stroke-width="0.9"/>
<line x1="135" y1="389" x2="212.1" y2="389" stroke="#333" stroke-width="0.9"/>
<text x="173.8" y="310.9" font-family='"Liberation Serif", serif' font-size="6.85" font-weight="bold" text-anchor="middle" fill="#000">ViT-1:1 on External Val.2</text>
<line x1="133.3" y1="331.77" x2="135.5" y2="331.77" stroke="#333" stroke-width="0.7"/>
<text x="133.2" y="331.77" font-family='"Liberation Serif", serif' font-size="6.8" font-weight="bold" text-anchor="middle" fill="#000" transform="rotate(-90 133.2 331.77)">NHE</text>
<line x1="133.3" y1="369.93" x2="135.5" y2="369.93" stroke="#333" stroke-width="0.7"/>
<text x="133.2" y="369.93" font-family='"Liberation Serif", serif' font-size="6.8" font-weight="bold" text-anchor="middle" fill="#000" transform="rotate(-90 133.2 369.93)">HE</text>
<line x1="154.65" y1="389" x2="154.65" y2="391.2" stroke="#333" stroke-width="0.7"/>
<text x="154.65" y="397.2" font-family='"Liberation Serif", serif' font-size="6.8" font-weight="bold" text-anchor="middle" fill="#000">NHE</text>
<line x1="192.95" y1="389" x2="192.95" y2="391.2" stroke="#333" stroke-width="0.7"/>
<text x="192.95" y="397.2" font-family='"Liberation Serif", serif' font-size="6.8" font-weight="bold" text-anchor="middle" fill="#000">HE</text>
<rect x="217.3" y="312.7" width="4.1" height="76.3" fill="url(#cbg1)" stroke="#9a9a9a" stroke-width="0.5"/>
<line x1="221.4" y1="338.13" x2="222.9" y2="338.13" stroke="#333" stroke-width="0.6"/>
<text x="228.5" y="338.13" font-family='"Liberation Serif", serif' font-size="6.7" font-weight="bold" text-anchor="middle" fill="#000" transform="rotate(-90 228.5 338.13)">161</text>
<line x1="221.4" y1="363.57" x2="222.9" y2="363.57" stroke="#333" stroke-width="0.6"/>
<text x="228.5" y="363.57" font-family='"Liberation Serif", serif' font-size="6.7" font-weight="bold" text-anchor="middle" fill="#000" transform="rotate(-90 228.5 363.57)">95</text>
<rect x="254.2" y="312.7" width="38.2" height="38.15" fill="#1d3b52"/>
<text x="273.3" y="330.47" font-family='"Liberation Serif", serif' font-size="7.4" font-weight="bold" text-anchor="middle" fill="#fff">309</text>
<text x="273.3" y="338.57" font-family='"Liberation Serif", serif' font-size="7.4" font-weight="bold" text-anchor="middle" fill="#fff">(77.1%)</text>
<rect x="292.4" y="312.7" width="38.2" height="38.15" fill="#cbd3da"/>
<text x="311.5" y="330.47" font-family='"Liberation Serif", serif' font-size="7.4" font-weight="bold" text-anchor="middle" fill="#111">92</text>
<text x="311.5" y="338.57" font-family='"Liberation Serif", serif' font-size="7.4" font-weight="bold" text-anchor="middle" fill="#111">(22.9%)</text>
<rect x="254.2" y="350.85" width="38.2" height="38.15" fill="#fbfbfc"/>
<text x="273.3" y="368.62" font-family='"Liberation Serif", serif' font-size="7.4" font-weight="bold" text-anchor="middle" fill="#111">38</text>
<text x="273.3" y="376.73" font-family='"Liberation Serif", serif' font-size="7.4" font-weight="bold" text-anchor="middle" fill="#111">(33.9%)</text>
<rect x="292.4" y="350.85" width="38.2" height="38.15" fill="#dae1e5"/>
<text x="311.5" y="368.62" font-family='"Liberation Serif", serif' font-size="7.4" font-weight="bold" text-anchor="middle" fill="#111">74</text>
<text x="311.5" y="376.73" font-family='"Liberation Serif", serif' font-size="7.4" font-weight="bold" text-anchor="middle" fill="#111">(66.1%)</text>
<line x1="254.2" y1="312.7" x2="254.2" y2="389.5" stroke="#333" stroke-width="0.9"/>
<line x1="253.7" y1="389" x2="330.6" y2="389" stroke="#333" stroke-width="0.9"/>
<text x="292.4" y="310.9" font-family='"Liberation Serif", serif' font-size="6.85" font-weight="bold" text-anchor="middle" fill="#000">ViT-1:2 on External Val.1</text>
<line x1="252" y1="331.77" x2="254.2" y2="331.77" stroke="#333" stroke-width="0.7"/>
<text x="251.9" y="331.77" font-family='"Liberation Serif", serif' font-size="6.8" font-weight="bold" text-anchor="middle" fill="#000" transform="rotate(-90 251.9 331.77)">NHE</text>
<line x1="252" y1="369.93" x2="254.2" y2="369.93" stroke="#333" stroke-width="0.7"/>
<text x="251.9" y="369.93" font-family='"Liberation Serif", serif' font-size="6.8" font-weight="bold" text-anchor="middle" fill="#000" transform="rotate(-90 251.9 369.93)">HE</text>
<line x1="273.3" y1="389" x2="273.3" y2="391.2" stroke="#333" stroke-width="0.7"/>
<text x="273.3" y="397.2" font-family='"Liberation Serif", serif' font-size="6.8" font-weight="bold" text-anchor="middle" fill="#000">NHE</text>
<line x1="311.5" y1="389" x2="311.5" y2="391.2" stroke="#333" stroke-width="0.7"/>
<text x="311.5" y="397.2" font-family='"Liberation Serif", serif' font-size="6.8" font-weight="bold" text-anchor="middle" fill="#000">HE</text>
<text x="243.5" y="350.85" font-family='"Liberation Serif", serif' font-size="7.9" font-weight="bold" text-anchor="middle" fill="#000" transform="rotate(-90 243.5 350.85)">Ture Label</text>
<rect x="336" y="312.7" width="4.1" height="76.3" fill="url(#cbg2)" stroke="#9a9a9a" stroke-width="0.5"/>
<line x1="340.1" y1="338.04" x2="341.6" y2="338.04" stroke="#333" stroke-width="0.6"/>
<text x="347.2" y="338.04" font-family='"Liberation Serif", serif' font-size="6.7" font-weight="bold" text-anchor="middle" fill="#000" transform="rotate(-90 347.2 338.04)">219</text>
<line x1="340.1" y1="363.66" x2="341.6" y2="363.66" stroke="#333" stroke-width="0.6"/>
<text x="347.2" y="363.66" font-family='"Liberation Serif", serif' font-size="6.7" font-weight="bold" text-anchor="middle" fill="#000" transform="rotate(-90 347.2 363.66)">128</text>
<rect x="362.6" y="312.7" width="38.4" height="38.15" fill="#1d3b52"/>
<text x="381.8" y="330.47" font-family='"Liberation Serif", serif' font-size="7.4" font-weight="bold" text-anchor="middle" fill="#fff">244</text>
<text x="381.8" y="338.57" font-family='"Liberation Serif", serif' font-size="7.4" font-weight="bold" text-anchor="middle" fill="#fff">(75.5%)</text>
<rect x="401" y="312.7" width="38.4" height="38.15" fill="#c6cfd6"/>
<text x="420.2" y="330.47" font-family='"Liberation Serif", serif' font-size="7.4" font-weight="bold" text-anchor="middle" fill="#111">79</text>
<text x="420.2" y="338.57" font-family='"Liberation Serif", serif' font-size="7.4" font-weight="bold" text-anchor="middle" fill="#111">(24.5%)</text>
<rect x="362.6" y="350.85" width="38.4" height="38.15" fill="#fbfbfc"/>
<text x="381.8" y="368.62" font-family='"Liberation Serif", serif' font-size="7.4" font-weight="bold" text-anchor="middle" fill="#111">30</text>
<text x="381.8" y="376.73" font-family='"Liberation Serif", serif' font-size="7.4" font-weight="bold" text-anchor="middle" fill="#111">(37.0%)</text>
<rect x="401" y="350.85" width="38.4" height="38.15" fill="#e2e7ea"/>
<text x="420.2" y="368.62" font-family='"Liberation Serif", serif' font-size="7.4" font-weight="bold" text-anchor="middle" fill="#111">51</text>
<text x="420.2" y="376.73" font-family='"Liberation Serif", serif' font-size="7.4" font-weight="bold" text-anchor="middle" fill="#111">(63.0%)</text>
<line x1="362.6" y1="312.7" x2="362.6" y2="389.5" stroke="#333" stroke-width="0.9"/>
<line x1="362.1" y1="389" x2="439.4" y2="389" stroke="#333" stroke-width="0.9"/>
<text x="401" y="310.9" font-family='"Liberation Serif", serif' font-size="6.85" font-weight="bold" text-anchor="middle" fill="#000">ViT-1:2 on External Val.2</text>
<line x1="360.4" y1="331.77" x2="362.6" y2="331.77" stroke="#333" stroke-width="0.7"/>
<text x="360.3" y="331.77" font-family='"Liberation Serif", serif' font-size="6.8" font-weight="bold" text-anchor="middle" fill="#000" transform="rotate(-90 360.3 331.77)">NHE</text>
<line x1="360.4" y1="369.93" x2="362.6" y2="369.93" stroke="#333" stroke-width="0.7"/>
<text x="360.3" y="369.93" font-family='"Liberation Serif", serif' font-size="6.8" font-weight="bold" text-anchor="middle" fill="#000" transform="rotate(-90 360.3 369.93)">HE</text>
<line x1="381.8" y1="389" x2="381.8" y2="391.2" stroke="#333" stroke-width="0.7"/>
<text x="381.8" y="397.2" font-family='"Liberation Serif", serif' font-size="6.8" font-weight="bold" text-anchor="middle" fill="#000">NHE</text>
<line x1="420.2" y1="389" x2="420.2" y2="391.2" stroke="#333" stroke-width="0.7"/>
<text x="420.2" y="397.2" font-family='"Liberation Serif", serif' font-size="6.8" font-weight="bold" text-anchor="middle" fill="#000">HE</text>
<rect x="444.6" y="312.7" width="4.1" height="76.3" fill="url(#cbg3)" stroke="#9a9a9a" stroke-width="0.5"/>
<line x1="448.7" y1="338.01" x2="450.2" y2="338.01" stroke="#333" stroke-width="0.6"/>
<text x="455.8" y="338.01" font-family='"Liberation Serif", serif' font-size="6.7" font-weight="bold" text-anchor="middle" fill="#000" transform="rotate(-90 455.8 338.01)">173</text>
<line x1="448.7" y1="363.69" x2="450.2" y2="363.69" stroke="#333" stroke-width="0.6"/>
<text x="455.8" y="363.69" font-family='"Liberation Serif", serif' font-size="6.7" font-weight="bold" text-anchor="middle" fill="#000" transform="rotate(-90 455.8 363.69)">101</text>
<rect x="480.5" y="312.7" width="38.2" height="38.15" fill="#dcc0cc"/>
<text x="499.6" y="330.47" font-family='"Liberation Serif", serif' font-size="7.4" font-weight="bold" text-anchor="middle" fill="#fff">287</text>
<text x="499.6" y="338.57" font-family='"Liberation Serif", serif' font-size="7.4" font-weight="bold" text-anchor="middle" fill="#fff">(71.6%)</text>
<rect x="518.7" y="312.7" width="38.2" height="38.15" fill="#efe6ea"/>
<text x="537.8" y="330.47" font-family='"Liberation Serif", serif' font-size="7.4" font-weight="bold" text-anchor="middle" fill="#111">114</text>
<text x="537.8" y="338.57" font-family='"Liberation Serif", serif' font-size="7.4" font-weight="bold" text-anchor="middle" fill="#111">(28.4%)</text>
<rect x="480.5" y="350.85" width="38.2" height="38.15" fill="#fefdfd"/>
<text x="499.6" y="368.62" font-family='"Liberation Serif", serif' font-size="7.4" font-weight="bold" text-anchor="middle" fill="#111">42</text>
<text x="499.6" y="376.73" font-family='"Liberation Serif", serif' font-size="7.4" font-weight="bold" text-anchor="middle" fill="#111">(37.5%)</text>
<rect x="518.7" y="350.85" width="38.2" height="38.15" fill="#f5eff2"/>
<text x="537.8" y="368.62" font-family='"Liberation Serif", serif' font-size="7.4" font-weight="bold" text-anchor="middle" fill="#111">70</text>
<text x="537.8" y="376.73" font-family='"Liberation Serif", serif' font-size="7.4" font-weight="bold" text-anchor="middle" fill="#111">(62.5%)</text>
<line x1="480.5" y1="312.7" x2="480.5" y2="389.5" stroke="#333" stroke-width="0.9"/>
<line x1="480" y1="389" x2="556.9" y2="389" stroke="#333" stroke-width="0.9"/>
<text x="518.7" y="310.9" font-family='"Liberation Serif", serif' font-size="6.85" font-weight="bold" text-anchor="middle" fill="#000">ViT-1:4 on External Val.1</text>
<line x1="478.3" y1="331.77" x2="480.5" y2="331.77" stroke="#333" stroke-width="0.7"/>
<text x="478.2" y="331.77" font-family='"Liberation Serif", serif' font-size="6.8" font-weight="bold" text-anchor="middle" fill="#000" transform="rotate(-90 478.2 331.77)">NHE</text>
<line x1="478.3" y1="369.93" x2="480.5" y2="369.93" stroke="#333" stroke-width="0.7"/>
<text x="478.2" y="369.93" font-family='"Liberation Serif", serif' font-size="6.8" font-weight="bold" text-anchor="middle" fill="#000" transform="rotate(-90 478.2 369.93)">HE</text>
<line x1="499.6" y1="389" x2="499.6" y2="391.2" stroke="#333" stroke-width="0.7"/>
<text x="499.6" y="397.2" font-family='"Liberation Serif", serif' font-size="6.8" font-weight="bold" text-anchor="middle" fill="#000">NHE</text>
<line x1="537.8" y1="389" x2="537.8" y2="391.2" stroke="#333" stroke-width="0.7"/>
<text x="537.8" y="397.2" font-family='"Liberation Serif", serif' font-size="6.8" font-weight="bold" text-anchor="middle" fill="#000">HE</text>
<text x="469.8" y="350.85" font-family='"Liberation Serif", serif' font-size="7.9" font-weight="bold" text-anchor="middle" fill="#000" transform="rotate(-90 469.8 350.85)">Ture Label</text>
<rect x="562.1" y="312.7" width="4.1" height="76.3" fill="url(#cbg4)" stroke="#9a9a9a" stroke-width="0.5"/>
<line x1="566.2" y1="338.24" x2="567.7" y2="338.24" stroke="#333" stroke-width="0.6"/>
<text x="573.3" y="338.24" font-family='"Liberation Serif", serif' font-size="6.7" font-weight="bold" text-anchor="middle" fill="#000" transform="rotate(-90 573.3 338.24)">205</text>
<line x1="566.2" y1="363.46" x2="567.7" y2="363.46" stroke="#333" stroke-width="0.6"/>
<text x="573.3" y="363.46" font-family='"Liberation Serif", serif' font-size="6.7" font-weight="bold" text-anchor="middle" fill="#000" transform="rotate(-90 573.3 363.46)">124</text>
<rect x="590.3" y="312.7" width="38.2" height="38.15" fill="#dcc0cc"/>
<text x="609.4" y="330.47" font-family='"Liberation Serif", serif' font-size="7.4" font-weight="bold" text-anchor="middle" fill="#fff">236</text>
<text x="609.4" y="338.57" font-family='"Liberation Serif", serif' font-size="7.4" font-weight="bold" text-anchor="middle" fill="#fff">(73.1%)</text>
<rect x="628.5" y="312.7" width="38.2" height="38.15" fill="#f1e9ed"/>
<text x="647.6" y="330.47" font-family='"Liberation Serif", serif' font-size="7.4" font-weight="bold" text-anchor="middle" fill="#111">87</text>
<text x="647.6" y="338.57" font-family='"Liberation Serif", serif' font-size="7.4" font-weight="bold" text-anchor="middle" fill="#111">(26.9%)</text>
<rect x="590.3" y="350.85" width="38.2" height="38.15" fill="#fefdfd"/>
<text x="609.4" y="368.62" font-family='"Liberation Serif", serif' font-size="7.4" font-weight="bold" text-anchor="middle" fill="#111">31</text>
<text x="609.4" y="376.73" font-family='"Liberation Serif", serif' font-size="7.4" font-weight="bold" text-anchor="middle" fill="#111">(38.3%)</text>
<rect x="628.5" y="350.85" width="38.2" height="38.15" fill="#f8f4f6"/>
<text x="647.6" y="368.62" font-family='"Liberation Serif", serif' font-size="7.4" font-weight="bold" text-anchor="middle" fill="#111">50</text>
<text x="647.6" y="376.73" font-family='"Liberation Serif", serif' font-size="7.4" font-weight="bold" text-anchor="middle" fill="#111">(61.7%)</text>
<line x1="590.3" y1="312.7" x2="590.3" y2="389.5" stroke="#333" stroke-width="0.9"/>
<line x1="589.8" y1="389" x2="666.7" y2="389" stroke="#333" stroke-width="0.9"/>
<text x="628.5" y="310.9" font-family='"Liberation Serif", serif' font-size="6.85" font-weight="bold" text-anchor="middle" fill="#000">ViT-1:4 on External Val.2</text>
<line x1="588.1" y1="331.77" x2="590.3" y2="331.77" stroke="#333" stroke-width="0.7"/>
<text x="588" y="331.77" font-family='"Liberation Serif", serif' font-size="6.8" font-weight="bold" text-anchor="middle" fill="#000" transform="rotate(-90 588 331.77)">NHE</text>
<line x1="588.1" y1="369.93" x2="590.3" y2="369.93" stroke="#333" stroke-width="0.7"/>
<text x="588" y="369.93" font-family='"Liberation Serif", serif' font-size="6.8" font-weight="bold" text-anchor="middle" fill="#000" transform="rotate(-90 588 369.93)">HE</text>
<line x1="609.4" y1="389" x2="609.4" y2="391.2" stroke="#333" stroke-width="0.7"/>
<text x="609.4" y="397.2" font-family='"Liberation Serif", serif' font-size="6.8" font-weight="bold" text-anchor="middle" fill="#000">NHE</text>
<line x1="647.6" y1="389" x2="647.6" y2="391.2" stroke="#333" stroke-width="0.7"/>
<text x="647.6" y="397.2" font-family='"Liberation Serif", serif' font-size="6.8" font-weight="bold" text-anchor="middle" fill="#000">HE</text>
<rect x="671.9" y="312.7" width="4.1" height="76.3" fill="url(#cbg5)" stroke="#9a9a9a" stroke-width="0.5"/>
<line x1="676" y1="338.01" x2="677.5" y2="338.01" stroke="#333" stroke-width="0.6"/>
<text x="683.1" y="338.01" font-family='"Liberation Serif", serif' font-size="6.7" font-weight="bold" text-anchor="middle" fill="#000" transform="rotate(-90 683.1 338.01)">168</text>
<line x1="676" y1="363.69" x2="677.5" y2="363.69" stroke="#333" stroke-width="0.6"/>
<text x="683.1" y="363.69" font-family='"Liberation Serif", serif' font-size="6.7" font-weight="bold" text-anchor="middle" fill="#000" transform="rotate(-90 683.1 363.69)">99</text>
<text x="120.9" y="407" font-family='"Liberation Serif", serif' font-size="8.3" font-weight="bold" text-anchor="middle" fill="#000">Prediction</text>
<text x="349" y="407" font-family='"Liberation Serif", serif' font-size="8.3" font-weight="bold" text-anchor="middle" fill="#000">Prediction</text>
<text x="575.2" y="407" font-family='"Liberation Serif", serif' font-size="8.3" font-weight="bold" text-anchor="middle" fill="#000">Prediction</text>
<defs>
<filter id="bl0_2" x="-50%" y="-50%" width="200%" height="200%"><feGaussianBlur stdDeviation="0.2"/></filter>
<filter id="bl0_3" x="-50%" y="-50%" width="200%" height="200%"><feGaussianBlur stdDeviation="0.3"/></filter>
<filter id="bl0_4" x="-50%" y="-50%" width="200%" height="200%"><feGaussianBlur stdDeviation="0.4"/></filter>
<filter id="bl0_5" x="-50%" y="-50%" width="200%" height="200%"><feGaussianBlur stdDeviation="0.5"/></filter>
<filter id="bl0_6" x="-50%" y="-50%" width="200%" height="200%"><feGaussianBlur stdDeviation="0.6"/></filter>
<filter id="bl0_8" x="-50%" y="-50%" width="200%" height="200%"><feGaussianBlur stdDeviation="0.8"/></filter>
<filter id="bl1" x="-50%" y="-50%" width="200%" height="200%"><feGaussianBlur stdDeviation="1"/></filter>
<filter id="bl1_2" x="-50%" y="-50%" width="200%" height="200%"><feGaussianBlur stdDeviation="1.2"/></filter>
<filter id="bl1_5" x="-50%" y="-50%" width="200%" height="200%"><feGaussianBlur stdDeviation="1.5"/></filter>
<filter id="bl1_6" x="-50%" y="-50%" width="200%" height="200%"><feGaussianBlur stdDeviation="1.6"/></filter>
<filter id="bl1_8" x="-50%" y="-50%" width="200%" height="200%"><feGaussianBlur stdDeviation="1.8"/></filter>
<filter id="bl2" x="-50%" y="-50%" width="200%" height="200%"><feGaussianBlur stdDeviation="2"/></filter>
<filter id="bl2_2" x="-50%" y="-50%" width="200%" height="200%"><feGaussianBlur stdDeviation="2.2"/></filter>
<filter id="bl2_5" x="-50%" y="-50%" width="200%" height="200%"><feGaussianBlur stdDeviation="2.5"/></filter>
<filter id="bl3" x="-50%" y="-50%" width="200%" height="200%"><feGaussianBlur stdDeviation="3"/></filter>
<filter id="noise" x="0" y="0" width="100%" height="100%" color-interpolation-filters="sRGB"><feTurbulence type="fractalNoise" baseFrequency="0.33" numOctaves="2" seed="3"/><feColorMatrix type="matrix" values="0 0 0 0 0  0 0 0 0 0  0 0 0 0 0  -2.4 0 0 0 1.2"/></filter>
<filter id="noise2" x="0" y="0" width="100%" height="100%" color-interpolation-filters="sRGB"><feTurbulence type="fractalNoise" baseFrequency="0.33" numOctaves="2" seed="3"/><feColorMatrix type="matrix" values="0 0 0 0 1  0 0 0 0 1  0 0 0 0 1  2.4 0 0 0 -1.2"/></filter>
<filter id="noiseOV" x="0" y="0" width="100%" height="100%" color-interpolation-filters="sRGB"><feTurbulence type="fractalNoise" baseFrequency="0.42" numOctaves="2" seed="5"/><feColorMatrix type="matrix" values="1.8 0 0 0 -0.4  1.8 0 0 0 -0.4  1.8 0 0 0 -0.4  0 0 0 0 1"/></filter>
<filter id="noiseHF" x="0" y="0" width="100%" height="100%" color-interpolation-filters="sRGB"><feTurbulence type="fractalNoise" baseFrequency="0.85" numOctaves="1" seed="11"/><feColorMatrix type="matrix" values="0 0 0 0 0  0 0 0 0 0  0 0 0 0 0  -5 0 0 0 2.4"/></filter>
</defs>
<clipPath id="ct0_0"><rect x="27" y="414.2" width="44.4" height="44.6"/></clipPath>
<g clip-path="url(#ct0_0)" id="ct0_0g">
<rect x="25" y="412.2" width="48.4" height="48.6" fill="#2e2e2e"/>
<polygon points="27,414.2 38.1,414.2 40.32,427.58 38.1,443.19 27,445.42" fill="#707070" filter="url(#bl2)"/>
<polygon points="33.66,417.77 46.98,414.2 58.08,416.43 64.74,425.35 67.85,434.27 64.74,447.65 57.19,458.8 46.98,458.8 40.32,447.65 34.99,434.27" fill="#9a9a9a" filter="url(#bl1_8)"/>
<polygon points="36.77,434.27 42.54,438.73 51.42,440.07 60.3,435.61 66.07,438.73 63.41,449.88 55.86,457.91 46.98,457.91 40.32,447.65" fill="#dadada" filter="url(#bl2)"/>
<ellipse cx="51.42" cy="427.58" rx="8.88" ry="7.58" fill="#888888" transform="rotate(0 51.42 427.58)" filter="url(#bl2)"/>
<ellipse cx="38.1" cy="429.81" rx="3.11" ry="6.69" fill="#c8c8c8" transform="rotate(0 38.1 429.81)" filter="url(#bl1_5)"/>
<ellipse cx="49.2" cy="416.88" rx="8.88" ry="2.23" fill="#b0b0b0" transform="rotate(0 49.2 416.88)" filter="url(#bl1_5)"/>
<polygon points="62.52,414.2 71.4,414.2 71.4,429.81 67.85,423.12" fill="#181818" filter="url(#bl1_5)"/>
<polygon points="27,446.31 39.43,448.99 43.87,458.8 27,458.8" fill="#242424" filter="url(#bl2)"/>
<rect x="27" y="414.2" width="44.4" height="44.6" filter="url(#noiseOV)" style="mix-blend-mode:overlay" opacity="0.8"/>
</g>
<clipPath id="cc0_0"><rect x="27" y="459.8" width="44.4" height="44.7"/></clipPath>
<g clip-path="url(#cc0_0)">
<rect x="25" y="457.8" width="48.4" height="48.7" fill="#70f070"/>
<polygon points="27,473.21 33.66,475.44 35.88,504.5 27,504.5" fill="#f8f000" filter="url(#bl2_5)"/>
<polygon points="64.74,459.8 71.4,459.8 71.4,504.5 66.07,504.5 69.18,482.15" fill="#00d8ff" filter="url(#bl2)"/>
<ellipse cx="69.18" cy="462.04" rx="5.33" ry="3.58" fill="#0024f0" transform="rotate(0 69.18 462.04)" filter="url(#bl1_5)"/>
<ellipse cx="69.62" cy="500.92" rx="3.55" ry="4.47" fill="#0024f0" transform="rotate(0 69.62 500.92)" filter="url(#bl1_5)"/>
<ellipse cx="28.78" cy="501.82" rx="3.55" ry="2.68" fill="#00d8ff" transform="rotate(0 28.78 501.82)" filter="url(#bl1_5)"/>
<polygon points="27,459.8 49.2,459.8 62.52,468.74 66.96,482.15 63.41,495.56 55.86,504.5 42.54,504.5 35.88,491.09 31.44,475.44" fill="#f01020" filter="url(#bl2)"/>
<ellipse cx="49.2" cy="472.32" rx="7.99" ry="4.47" fill="#ff9000" transform="rotate(0 49.2 472.32)" filter="url(#bl2_5)"/>
<ellipse cx="40.32" cy="486.62" rx="2.66" ry="4.47" fill="#ff9000" transform="rotate(0 40.32 486.62)" filter="url(#bl2)"/>
<use href="#ct0_0g" transform="translate(0 45.6)" opacity="0.52"/>
</g>
<clipPath id="ct0_1"><rect x="72.65" y="414.2" width="44.4" height="44.6"/></clipPath>
<g clip-path="url(#ct0_1)" id="ct0_1g">
<rect x="70.65" y="412.2" width="48.4" height="48.6" fill="#cacaca"/>
<polygon points="77.09,427.58 92.63,427.58 94.85,440.96 81.53,443.19 74.87,438.73" fill="#8a8a8a" filter="url(#bl2_2)"/>
<ellipse cx="99.29" cy="425.35" rx="6.22" ry="4.46" fill="#f4f4f4" transform="rotate(0 99.29 425.35)" filter="url(#bl1_5)"/>
<ellipse cx="102.84" cy="446.31" rx="11.1" ry="9.81" fill="#e6e6e6" transform="rotate(0 102.84 446.31)" filter="url(#bl2)"/>
<ellipse cx="83.75" cy="450.77" rx="6.66" ry="5.35" fill="#b0b0b0" transform="rotate(0 83.75 450.77)" filter="url(#bl2)"/>
<polygon points="112.61,423.12 117.05,423.12 117.05,458.8 105.95,458.8 112.61,452.11" fill="#2e2e2e" filter="url(#bl1_5)"/>
<ellipse cx="92.63" cy="420.89" rx="3.55" ry="3.57" fill="#f0f0f0" transform="rotate(0 92.63 420.89)" filter="url(#bl1_2)"/>
<ellipse cx="108.17" cy="436.5" rx="4.44" ry="6.69" fill="#e8e8e8" transform="rotate(0 108.17 436.5)" filter="url(#bl1_5)"/>
<rect x="72.65" y="414.2" width="44.4" height="44.6" filter="url(#noiseHF)" opacity="0.45"/>
<rect x="72.65" y="414.2" width="44.4" height="44.6" filter="url(#noiseOV)" style="mix-blend-mode:overlay" opacity="0.8"/>
<polygon points="72.65,414.2 85.97,414.2 72.65,424.9" fill="#ffffff"/>
<polygon points="85.97,414.2 87.3,414.2 72.65,426.24 72.65,424.9" fill="#303030"/>
<polygon points="102.84,414.2 111.72,414.2 110.39,416.43 104.62,415.98" fill="#f8f8f8"/>
</g>
<clipPath id="cc0_1"><rect x="72.65" y="459.8" width="44.4" height="44.7"/></clipPath>
<g clip-path="url(#cc0_1)">
<rect x="70.65" y="457.8" width="48.4" height="48.7" fill="#f01020"/>
<ellipse cx="114.83" cy="476.79" rx="3.55" ry="6.7" fill="#00d8ff" transform="rotate(0 114.83 476.79)" filter="url(#bl2)"/>
<ellipse cx="113.94" cy="499.14" rx="4.44" ry="6.26" fill="#0024f0" transform="rotate(0 113.94 499.14)" filter="url(#bl2)"/>
<polygon points="110.39,484.38 117.05,484.38 117.05,493.32 110.39,491.09" fill="#70f070" filter="url(#bl2)"/>
<ellipse cx="88.19" cy="484.38" rx="7.99" ry="3.58" fill="#f8f000" transform="rotate(0 88.19 484.38)" filter="url(#bl2)"/>
<ellipse cx="101.51" cy="463.38" rx="4.44" ry="2.23" fill="#f8f000" transform="rotate(0 101.51 463.38)" filter="url(#bl1_5)"/>
<ellipse cx="79.31" cy="493.32" rx="4.44" ry="5.36" fill="#ff9000" transform="rotate(0 79.31 493.32)" filter="url(#bl2)"/>
<polygon points="72.65,459.8 85.97,459.8 72.65,470.53" fill="#ffd0d0" filter="url(#bl0_3)"/>
<use href="#ct0_1g" transform="translate(0 45.6)" opacity="0.52"/>
</g>
<clipPath id="ct0_2"><rect x="118.3" y="414.2" width="44.4" height="44.6"/></clipPath>
<g clip-path="url(#ct0_2)" id="ct0_2g">
<rect x="116.3" y="412.2" width="48.4" height="48.6" fill="#323232"/>
<polygon points="127.18,432.04 131.62,423.12 140.5,418.66 144.05,414.2 153.82,414.2 159.15,425.35 161.37,438.73 157.37,449.88 149.38,457.91 138.28,457.91 132.51,449.88 127.18,440.96" fill="#a0a0a0" filter="url(#bl1_2)"/>
<ellipse cx="132.95" cy="431.15" rx="4.44" ry="5.35" fill="#f0f0f0" transform="rotate(0 132.95 431.15)" filter="url(#bl1_2)"/>
<ellipse cx="139.61" cy="423.12" rx="3.55" ry="4.46" fill="#e8e8e8" transform="rotate(0 139.61 423.12)" filter="url(#bl1_2)"/>
<ellipse cx="148.49" cy="419.55" rx="4.44" ry="5.35" fill="#f4f4f4" transform="rotate(15 148.49 419.55)" filter="url(#bl1_2)"/>
<ellipse cx="153.82" cy="431.15" rx="4.44" ry="5.8" fill="#eeeeee" transform="rotate(0 153.82 431.15)" filter="url(#bl1_2)"/>
<ellipse cx="156.48" cy="440.96" rx="3.55" ry="4.46" fill="#e0e0e0" transform="rotate(0 156.48 440.96)" filter="url(#bl1_2)"/>
<ellipse cx="142.72" cy="452.11" rx="4.44" ry="5.35" fill="#f2f2f2" transform="rotate(0 142.72 452.11)" filter="url(#bl1_2)"/>
<ellipse cx="136.06" cy="443.19" rx="3.55" ry="4.46" fill="#e0e0e0" transform="rotate(0 136.06 443.19)" filter="url(#bl1_2)"/>
<ellipse cx="150.27" cy="447.65" rx="3.55" ry="4.46" fill="#e8e8e8" transform="rotate(0 150.27 447.65)" filter="url(#bl1_2)"/>
<ellipse cx="144.94" cy="434.27" rx="3.55" ry="4.46" fill="#d8d8d8" transform="rotate(0 144.94 434.27)" filter="url(#bl1_2)"/>
<ellipse cx="141.39" cy="436.5" rx="1.78" ry="8.92" fill="#5a5a5a" transform="rotate(10 141.39 436.5)" filter="url(#bl1_2)"/>
<ellipse cx="148.49" cy="440.96" rx="2.22" ry="2.68" fill="#6a6a6a" transform="rotate(0 148.49 440.96)" filter="url(#bl1_2)"/>
<ellipse cx="122.74" cy="451.66" rx="3.11" ry="4.46" fill="#d0d0d0" transform="rotate(0 122.74 451.66)" filter="url(#bl1_2)"/>
<rect x="118.3" y="414.2" width="44.4" height="44.6" filter="url(#noiseOV)" style="mix-blend-mode:overlay" opacity="0.6"/>
</g>
<clipPath id="cc0_2"><rect x="118.3" y="459.8" width="44.4" height="44.7"/></clipPath>
<g clip-path="url(#cc0_2)">
<rect x="116.3" y="457.8" width="48.4" height="48.7" fill="#70f070"/>
<polygon points="120.52,473.21 128.07,473.21 130.73,486.62 133.84,497.8 149.38,500.03 149.38,504.5 129.4,504.5 120.52,500.03" fill="#0024f0" filter="url(#bl2)"/>
<polygon points="118.3,459.8 140.5,459.8 138.28,468.74 122.74,470.98 118.3,468.74" fill="#f8f000" filter="url(#bl2)"/>
<ellipse cx="119.63" cy="468.74" rx="2.22" ry="4.47" fill="#00d8ff" transform="rotate(0 119.63 468.74)" filter="url(#bl1_5)"/>
<ellipse cx="159.15" cy="496.45" rx="4.44" ry="4.47" fill="#0030ff" transform="rotate(0 159.15 496.45)" filter="url(#bl2)"/>
<ellipse cx="121.85" cy="497.35" rx="3.11" ry="4.47" fill="#f01020" transform="rotate(0 121.85 497.35)" filter="url(#bl1_5)"/>
<polygon points="129.4,473.21 138.28,464.27 144.94,459.8 158.26,459.8 162.7,475.44 162.7,488.86 156.04,497.8 147.16,503.61 138.28,500.92 132.51,493.32 128.07,482.15" fill="#f01020" filter="url(#bl2)"/>
<use href="#ct0_2g" transform="translate(0 45.6)" opacity="0.52"/>
</g>
<clipPath id="ct0_3"><rect x="163.95" y="414.2" width="44.4" height="44.6"/></clipPath>
<g clip-path="url(#ct0_3)" id="ct0_3g">
<rect x="161.95" y="412.2" width="48.4" height="48.6" fill="#4a4a4a"/>
<polygon points="169.28,423.12 179.49,416.43 195.03,416.43 199.47,427.58 200.36,440.96 197.25,453.45 186.15,456.57 175.05,452.11 167.5,438.73" fill="#a6a6a6" filter="url(#bl2)"/>
<ellipse cx="181.71" cy="434.27" rx="8.88" ry="9.81" fill="#b8b8b8" transform="rotate(0 181.71 434.27)" filter="url(#bl2)"/>
<ellipse cx="188.37" cy="447.65" rx="6.66" ry="5.35" fill="#b0b0b0" transform="rotate(0 188.37 447.65)" filter="url(#bl2)"/>
<polygon points="195.92,416.43 203.02,418.66 204.8,434.27 199.47,438.73 195.92,427.58" fill="#6e6e6e" filter="url(#bl1_5)"/>
<ellipse cx="199.47" cy="423.12" rx="2.22" ry="2.23" fill="#c8c8c8" transform="rotate(0 199.47 423.12)" filter="url(#bl1)"/>
<ellipse cx="201.69" cy="435.61" rx="2.22" ry="2.23" fill="#c8c8c8" transform="rotate(0 201.69 435.61)" filter="url(#bl1)"/>
<polygon points="163.95,447.65 177.27,452.11 181.71,458.8 163.95,458.8" fill="#2a2a2a" filter="url(#bl2)"/>
<polygon points="163.95,414.2 172.83,414.2 163.95,425.35" fill="#3a3a3a" filter="url(#bl2)"/>
<polygon points="203.91,414.2 208.35,414.2 208.35,458.8 203.02,458.8 207.02,438.73" fill="#0c0c0c" filter="url(#bl0_6)"/>
<polygon points="208.35,438.73 208.35,458.8 206.13,458.8 207.91,445.42" fill="#ffffff" filter="url(#bl0_3)"/>
<rect x="163.95" y="414.2" width="44.4" height="44.6" filter="url(#noiseOV)" style="mix-blend-mode:overlay" opacity="0.7"/>
</g>
<clipPath id="cc0_3"><rect x="163.95" y="459.8" width="44.4" height="44.7"/></clipPath>
<g clip-path="url(#cc0_3)">
<rect x="161.95" y="457.8" width="48.4" height="48.7" fill="#f8f000"/>
<polygon points="170.61,465.16 190.59,463.38 199.47,466.5 198.58,482.15 199.47,497.8 186.15,500.03 172.83,497.8 168.39,482.15" fill="#f01020" filter="url(#bl2)"/>
<polygon points="163.95,497.8 190.59,499.14 190.59,504.5 163.95,504.5" fill="#70f070" filter="url(#bl2)"/>
<polygon points="203.91,459.8 208.35,459.8 208.35,504.5 203.91,504.5" fill="#00d8ff" filter="url(#bl1_5)"/>
<ellipse cx="206.13" cy="479.92" rx="2.66" ry="2.68" fill="#0024f0" transform="rotate(0 206.13 479.92)" filter="url(#bl1)"/>
<ellipse cx="203.91" cy="496.45" rx="2.66" ry="3.58" fill="#0024f0" transform="rotate(0 203.91 496.45)" filter="url(#bl1_2)"/>
<polygon points="207.46,484.38 208.35,484.38 208.35,504.5 206.57,504.5" fill="#ffd8d8" filter="url(#bl0_3)"/>
<use href="#ct0_3g" transform="translate(0 45.6)" opacity="0.52"/>
</g>
<clipPath id="ct0_4"><rect x="209.6" y="414.2" width="44.4" height="44.6"/></clipPath>
<g clip-path="url(#ct0_4)" id="ct0_4g">
<rect x="207.6" y="412.2" width="48.4" height="48.6" fill="#2a2a2a"/>
<ellipse cx="231.8" cy="439.18" rx="20.42" ry="18.73" fill="#8a8a8a" transform="rotate(0 231.8 439.18)" filter="url(#bl2)"/>
<ellipse cx="229.58" cy="441.85" rx="13.32" ry="12.49" fill="#9a9a9a" transform="rotate(0 229.58 441.85)" filter="url(#bl2)"/>
<ellipse cx="216.7" cy="420.89" rx="4.88" ry="3.57" fill="#f4f4f4" transform="rotate(0 216.7 420.89)" filter="url(#bl1_2)"/>
<ellipse cx="230.47" cy="430.26" rx="5.77" ry="2.23" fill="#f8f8f8" transform="rotate(8 230.47 430.26)" filter="url(#bl1_0)"/>
<rect x="209.6" y="414.2" width="44.4" height="44.6" filter="url(#noiseOV)" style="mix-blend-mode:overlay" opacity="0.45"/>
</g>
<clipPath id="cc0_4"><rect x="209.6" y="459.8" width="44.4" height="44.7"/></clipPath>
<g clip-path="url(#cc0_4)">
<rect x="207.6" y="457.8" width="48.4" height="48.7" fill="#f01020"/>
<polygon points="247.34,462.04 254,462.04 254,495.56 249.56,491.09" fill="#70f070" filter="url(#bl2)"/>
<ellipse cx="252.67" cy="461.14" rx="2.66" ry="2.23" fill="#0024f0" transform="rotate(0 252.67 461.14)" filter="url(#bl1)"/>
<polygon points="209.6,491.09 229.58,497.8 229.58,504.5 209.6,504.5" fill="#00d8ff" filter="url(#bl2)"/>
<polygon points="234.02,504.5 254,497.8 254,504.5" fill="#70f070" filter="url(#bl2)"/>
<ellipse cx="217.15" cy="499.14" rx="3.11" ry="2.68" fill="#0024f0" transform="rotate(0 217.15 499.14)" filter="url(#bl1_5)"/>
<use href="#ct0_4g" transform="translate(0 45.6)" opacity="0.52"/>
</g>
<clipPath id="ct0_5"><rect x="255.25" y="414.2" width="44.4" height="44.6"/></clipPath>
<g clip-path="url(#ct0_5)" id="ct0_5g">
<rect x="253.25" y="412.2" width="48.4" height="48.6" fill="#383838"/>
<polygon points="268.57,443.19 281.89,445.42 297.43,443.19 299.65,458.8 268.57,458.8" fill="#7c7c7c" filter="url(#bl2)"/>
<polygon points="266.35,429.81 270.79,420.89 279.67,416.43 288.55,420.89 295.21,436.5 292.99,447.65 281.89,447.65 275.23,440.96 268.57,436.5" fill="#e4e4e4" filter="url(#bl1_5)"/>
<ellipse cx="264.13" cy="420.44" rx="7.1" ry="4.46" fill="#c4c4c4" transform="rotate(0 264.13 420.44)" filter="url(#bl1_5)"/>
<ellipse cx="265.02" cy="446.31" rx="2.22" ry="1.78" fill="#b8b8b8" transform="rotate(0 265.02 446.31)" filter="url(#bl1)"/>
<ellipse cx="258.8" cy="438.73" rx="3.55" ry="8.92" fill="#1c1c1c" transform="rotate(0 258.8 438.73)" filter="url(#bl2)"/>
<rect x="255.25" y="414.2" width="44.4" height="44.6" filter="url(#noiseOV)" style="mix-blend-mode:overlay" opacity="0.45"/>
</g>
<clipPath id="cc0_5"><rect x="255.25" y="459.8" width="44.4" height="44.7"/></clipPath>
<g clip-path="url(#cc0_5)">
<rect x="253.25" y="457.8" width="48.4" height="48.7" fill="#f8f000"/>
<polygon points="292.99,464.27 299.65,464.27 299.65,504.5 290.77,504.5" fill="#00d8ff" filter="url(#bl2)"/>
<ellipse cx="256.58" cy="479.92" rx="1.78" ry="3.13" fill="#0024f0" transform="rotate(0 256.58 479.92)" filter="url(#bl1)"/>
<ellipse cx="260.58" cy="493.32" rx="2.22" ry="2.23" fill="#0024f0" transform="rotate(0 260.58 493.32)" filter="url(#bl1)"/>
<ellipse cx="281.89" cy="460.69" rx="2.66" ry="1.34" fill="#0024f0" transform="rotate(0 281.89 460.69)" filter="url(#bl1)"/>
<ellipse cx="297.43" cy="482.15" rx="1.78" ry="2.68" fill="#0024f0" transform="rotate(0 297.43 482.15)" filter="url(#bl1)"/>
<polygon points="268.57,497.8 299.65,495.56 299.65,504.5 268.57,504.5" fill="#70f070" filter="url(#bl2)"/>
<ellipse cx="264.13" cy="466.06" rx="7.1" ry="5.36" fill="#f01020" transform="rotate(0 264.13 466.06)" filter="url(#bl2)"/>
<polygon points="266.35,475.44 270.79,466.5 279.67,462.04 288.55,466.5 295.21,482.15 292.99,493.32 281.89,493.32 275.23,486.62 268.57,482.15" fill="#f01020" filter="url(#bl1_8)"/>
<use href="#ct0_5g" transform="translate(0 45.6)" opacity="0.52"/>
</g>
<clipPath id="ct0_6"><rect x="300.9" y="414.2" width="44.4" height="44.6"/></clipPath>
<g clip-path="url(#ct0_6)" id="ct0_6g">
<rect x="298.9" y="412.2" width="48.4" height="48.6" fill="#767676"/>
<ellipse cx="325.32" cy="437.39" rx="14.65" ry="14.27" fill="#d2d2d2" transform="rotate(0 325.32 437.39)" filter="url(#bl2)"/>
<ellipse cx="314.22" cy="423.12" rx="4.44" ry="3.12" fill="#dcdcdc" transform="rotate(-25 314.22 423.12)" filter="url(#bl1_2)"/>
<ellipse cx="306.23" cy="443.19" rx="3.11" ry="4.46" fill="#d0d0d0" transform="rotate(0 306.23 443.19)" filter="url(#bl1_2)"/>
<ellipse cx="323.1" cy="453.45" rx="7.99" ry="2.68" fill="#c8c8c8" transform="rotate(0 323.1 453.45)" filter="url(#bl1_5)"/>
<ellipse cx="335.53" cy="420.89" rx="6.66" ry="4.46" fill="#5c5c5c" transform="rotate(0 335.53 420.89)" filter="url(#bl2)"/>
<polygon points="339.08,414.2 345.3,414.2 345.3,428.47 343.08,420.89" fill="#0a0a0a" filter="url(#bl0_5)"/>
<polygon points="345.3,444.53 345.3,458.8 339.08,458.8 343.08,452.11" fill="#0a0a0a" filter="url(#bl0_5)"/>
<polygon points="343.08,414.2 345.3,414.2 345.3,418.66" fill="#ffffff" filter="url(#bl0_3)"/>
<rect x="300.9" y="414.2" width="44.4" height="44.6" filter="url(#noiseOV)" style="mix-blend-mode:overlay" opacity="0.4"/>
</g>
<clipPath id="cc0_6"><rect x="300.9" y="459.8" width="44.4" height="44.7"/></clipPath>
<g clip-path="url(#cc0_6)">
<rect x="298.9" y="457.8" width="48.4" height="48.7" fill="#70f070"/>
<polygon points="305.34,473.21 327.54,470.98 340.86,475.44 338.64,495.56 323.1,497.8 307.56,495.56" fill="#f8f000" filter="url(#bl2_5)"/>
<polygon points="318.66,462.04 340.86,462.04 340.86,473.21 323.1,472.32" fill="#f01020" filter="url(#bl2)"/>
<ellipse cx="312" cy="468.74" rx="4.44" ry="2.68" fill="#f01020" transform="rotate(0 312 468.74)" filter="url(#bl1_5)"/>
<ellipse cx="323.1" cy="500.03" rx="8.88" ry="2.68" fill="#f01020" transform="rotate(0 323.1 500.03)" filter="url(#bl1_5)"/>
<ellipse cx="325.32" cy="486.62" rx="6.66" ry="5.36" fill="#ff9000" transform="rotate(0 325.32 486.62)" filter="url(#bl2)"/>
<polygon points="300.9,459.8 305.34,459.8 305.34,504.5 300.9,504.5" fill="#00d8ff" filter="url(#bl2)"/>
<polygon points="341.75,468.74 345.3,468.74 345.3,504.5 341.75,504.5" fill="#00d8ff" filter="url(#bl1_5)"/>
<ellipse cx="343.08" cy="500.92" rx="1.78" ry="2.23" fill="#0024f0" transform="rotate(0 343.08 500.92)" filter="url(#bl1)"/>
<use href="#ct0_6g" transform="translate(0 45.6)" opacity="0.52"/>
</g>
<clipPath id="ct1_0"><rect x="365.2" y="414.2" width="44.4" height="44.6"/></clipPath>
<g clip-path="url(#ct1_0)" id="ct1_0g">
<rect x="363.2" y="412.2" width="48.4" height="48.6" fill="#5a5a5a"/>
<ellipse cx="387.4" cy="434.27" rx="20.87" ry="20.07" fill="#d6d6d6" transform="rotate(0 387.4 434.27)" filter="url(#bl2)"/>
<ellipse cx="403.38" cy="440.07" rx="4.88" ry="7.58" fill="#f4f4f4" transform="rotate(0 403.38 440.07)" filter="url(#bl1_8)"/>
<polygon points="374.08,454.34 400.72,453.45 391.84,458.8 378.52,458.8" fill="#4a4a4a" filter="url(#bl1_5)"/>
<polygon points="409.6,443.64 409.6,458.8 394.5,458.8" fill="#0a0a0a" filter="url(#bl0_8)"/>
<rect x="365.2" y="414.2" width="44.4" height="44.6" filter="url(#noiseOV)" style="mix-blend-mode:overlay" opacity="0.45"/>
<polygon points="409.6,449.88 409.6,458.8 400.72,458.8" fill="#ffffff"/>
</g>
<clipPath id="cc1_0"><rect x="365.2" y="459.8" width="44.4" height="44.7"/></clipPath>
<g clip-path="url(#cc1_0)">
<rect x="363.2" y="457.8" width="48.4" height="48.7" fill="#f01020"/>
<polygon points="365.2,459.8 374.08,459.8 370.53,477.68 368.75,495.56 365.2,495.56" fill="#f8f000" filter="url(#bl2)"/>
<polygon points="365.2,459.8 376.3,459.8 367.42,468.74" fill="#70f070" filter="url(#bl1_5)"/>
<ellipse cx="378.52" cy="460.69" rx="4.44" ry="1.79" fill="#0024f0" transform="rotate(0 378.52 460.69)" filter="url(#bl1)"/>
<ellipse cx="387.4" cy="484.38" rx="8.88" ry="5.36" fill="#ff9000" transform="rotate(0 387.4 484.38)" filter="url(#bl3)"/>
<ellipse cx="378.52" cy="475.44" rx="4.44" ry="2.68" fill="#ff9000" transform="rotate(0 378.52 475.44)" filter="url(#bl2_5)"/>
<polygon points="374.08,500.92 396.28,500.03 396.28,504.5 374.08,504.5" fill="#f8f000" filter="url(#bl1_5)"/>
<polygon points="409.6,491.98 409.6,504.5 396.28,504.5" fill="#0024f0" filter="url(#bl1)"/>
<polygon points="409.6,497.35 409.6,504.5 402.5,504.5" fill="#ffd0d0" filter="url(#bl0_3)"/>
<use href="#ct1_0g" transform="translate(0 45.6)" opacity="0.52"/>
</g>
<clipPath id="ct1_1"><rect x="410.9" y="414.2" width="44.4" height="44.6"/></clipPath>
<g clip-path="url(#ct1_1)" id="ct1_1g">
<rect x="408.9" y="412.2" width="48.4" height="48.6" fill="#1e1e1e"/>
<ellipse cx="426.44" cy="417.77" rx="8.88" ry="3.57" fill="#4a4a4a" transform="rotate(0 426.44 417.77)" filter="url(#bl2)"/>
<polygon points="414.45,440.96 419.78,429.81 428.66,425.35 435.32,420.89 444.2,418.66 453.08,423.12 453.08,434.27 450.86,443.19 441.98,452.11 430.88,454.34 419.78,452.11" fill="#d4d4d4" filter="url(#bl1_8)"/>
<ellipse cx="437.54" cy="438.73" rx="9.77" ry="8.92" fill="#e8e8e8" transform="rotate(0 437.54 438.73)" filter="url(#bl2)"/>
<ellipse cx="426.44" cy="434.27" rx="3.55" ry="3.57" fill="#7a7a7a" transform="rotate(0 426.44 434.27)" filter="url(#bl1_5)"/>
<ellipse cx="435.32" cy="444.53" rx="2.66" ry="2.23" fill="#9a9a9a" transform="rotate(0 435.32 444.53)" filter="url(#bl1_2)"/>
<ellipse cx="420.67" cy="444.53" rx="3.11" ry="2.68" fill="#a0a0a0" transform="rotate(0 420.67 444.53)" filter="url(#bl1_2)"/>
<ellipse cx="442.87" cy="426.69" rx="4.44" ry="3.57" fill="#f4f4f4" transform="rotate(0 442.87 426.69)" filter="url(#bl1_2)"/>
<ellipse cx="429.55" cy="427.58" rx="3.55" ry="2.68" fill="#f0f0f0" transform="rotate(0 429.55 427.58)" filter="url(#bl1_2)"/>
<ellipse cx="433.1" cy="448.99" rx="4.44" ry="3.12" fill="#f2f2f2" transform="rotate(0 433.1 448.99)" filter="url(#bl1_2)"/>
<rect x="410.9" y="414.2" width="44.4" height="44.6" filter="url(#noiseOV)" style="mix-blend-mode:overlay" opacity="0.45"/>
</g>
<clipPath id="cc1_1"><rect x="410.9" y="459.8" width="44.4" height="44.7"/></clipPath>
<g clip-path="url(#cc1_1)">
<rect x="408.9" y="457.8" width="48.4" height="48.7" fill="#0024f0"/>
<polygon points="411.79,485.73 417.56,472.32 433.1,464.27 446.42,460.69 455.3,468.74 455.3,486.62 445.53,502.26 428.66,503.61 413.12,497.8" fill="#00d8ff" filter="url(#bl2)"/>
<polygon points="413.56,485.73 419.78,474.55 433.1,467.85 445.53,464.27 453.08,470.98 453.08,485.73 442.87,499.14 429.55,500.92 416.23,495.56" fill="#f8f000" filter="url(#bl1_5)"/>
<polygon points="416.23,485.73 422,476.79 433.1,470.98 444.64,467.4 450.86,473.21 449.97,485.73 441.09,496.45 429.55,497.8 418.89,492.88" fill="#f01020" filter="url(#bl1_5)"/>
<ellipse cx="433.99" cy="460.69" rx="4.44" ry="1.34" fill="#f8f000" transform="rotate(0 433.99 460.69)" filter="url(#bl1)"/>
<use href="#ct1_1g" transform="translate(0 45.6)" opacity="0.52"/>
</g>
<clipPath id="ct1_2"><rect x="456.6" y="414.2" width="44.4" height="44.6"/></clipPath>
<g clip-path="url(#ct1_2)" id="ct1_2g">
<rect x="454.6" y="412.2" width="48.4" height="48.6" fill="#1e1e1e"/>
<polygon points="456.6,418.66 461.93,418.66 461.93,454.34 456.6,454.34" fill="#4a4a4a" filter="url(#bl1_5)"/>
<polygon points="465.48,420.89 476.58,416.43 487.68,415.09 498.78,418.66 500.11,434.27 498.78,447.65 494.34,452.11 483.24,449.88 478.8,456.57 467.7,456.57 463.26,450.77 469.92,444.53 461.93,440.96 461.04,432.04" fill="#e0e0e0" filter="url(#bl1_5)"/>
<ellipse cx="481.02" cy="429.81" rx="12.43" ry="9.81" fill="#f0f0f0" transform="rotate(0 481.02 429.81)" filter="url(#bl2)"/>
<ellipse cx="495.67" cy="455.23" rx="3.11" ry="2.23" fill="#d8d8d8" transform="rotate(0 495.67 455.23)" filter="url(#bl1)"/>
<ellipse cx="483.24" cy="423.12" rx="1.78" ry="2.68" fill="#606060" transform="rotate(0 483.24 423.12)" filter="url(#bl1)"/>
<ellipse cx="489.9" cy="441.85" rx="2.22" ry="3.57" fill="#8a8a8a" transform="rotate(0 489.9 441.85)" filter="url(#bl1_2)"/>
<ellipse cx="474.36" cy="446.31" rx="2.66" ry="1.78" fill="#909090" transform="rotate(0 474.36 446.31)" filter="url(#bl1_2)"/>
<ellipse cx="469.92" cy="432.04" rx="2.22" ry="2.23" fill="#a0a0a0" transform="rotate(0 469.92 432.04)" filter="url(#bl1_2)"/>
<rect x="456.6" y="414.2" width="44.4" height="44.6" filter="url(#noiseOV)" style="mix-blend-mode:overlay" opacity="0.4"/>
</g>
<clipPath id="cc1_2"><rect x="456.6" y="459.8" width="44.4" height="44.7"/></clipPath>
<g clip-path="url(#cc1_2)">
<rect x="454.6" y="457.8" width="48.4" height="48.7" fill="#0024f0"/>
<polygon points="461.04,464.27 469.92,460.69 492.12,460.69 501,464.27 501,495.56 496.56,500.03 483.24,500.03 465.48,502.26 458.82,497.8 467.7,493.32 460.15,487.51" fill="#70f070" filter="url(#bl2)"/>
<polygon points="463.26,467.85 474.36,463.38 492.12,462.48 498.78,466.5 499.22,493.32 494.34,496.45 483.24,495.56 478.8,500.92 467.7,500.03 464.59,495.56 469.92,490.2 461.93,486.62" fill="#f01020" filter="url(#bl1_5)"/>
<use href="#ct1_2g" transform="translate(0 45.6)" opacity="0.52"/>
</g>
<clipPath id="ct1_3"><rect x="502.3" y="414.2" width="44.4" height="44.6"/></clipPath>
<g clip-path="url(#ct1_3)" id="ct1_3g">
<rect x="500.3" y="412.2" width="48.4" height="48.6" fill="#3a3a3a"/>
<polygon points="504.52,440.96 515.62,429.81 526.72,423.12 535.6,419.55 544.48,416.43 545.81,429.81 540.04,440.96 533.38,447.65 522.28,455.23 506.74,458.8 503.19,452.11" fill="#d4d4d4" filter="url(#bl1_8)"/>
<ellipse cx="519.17" cy="431.15" rx="3.55" ry="1.78" fill="#909090" transform="rotate(-30 519.17 431.15)" filter="url(#bl1_2)"/>
<rect x="502.3" y="414.2" width="44.4" height="44.6" filter="url(#noiseOV)" style="mix-blend-mode:overlay" opacity="0.5"/>
</g>
<clipPath id="cc1_3"><rect x="502.3" y="459.8" width="44.4" height="44.7"/></clipPath>
<g clip-path="url(#cc1_3)">
<rect x="500.3" y="457.8" width="48.4" height="48.7" fill="#00d8ff"/>
<polygon points="502.3,482.15 524.5,459.8 532.49,459.8 502.3,493.32" fill="#0024f0" filter="url(#bl2)"/>
<polygon points="502.3,459.8 517.84,459.8 502.3,475.44" fill="#70f070" filter="url(#bl2)"/>
<polygon points="503.19,488.86 515.62,475.44 528.94,466.5 544.48,459.8 546.7,459.8 546.7,477.68 540.04,488.86 531.16,496.45 520.06,503.61 504.52,504.5" fill="#f8f000" filter="url(#bl1_8)"/>
<polygon points="504.96,490.2 515.62,478.57 526.72,470.98 535.6,466.5 544.92,464.27 545.37,477.68 539.15,486.62 531.16,493.32 520.95,500.03 506.74,503.61" fill="#f01020" filter="url(#bl1_5)"/>
<ellipse cx="535.6" cy="495.56" rx="5.33" ry="1.79" fill="#0024f0" transform="rotate(-30 535.6 495.56)" filter="url(#bl1_2)"/>
<polygon points="537.82,504.5 546.7,495.56 546.7,504.5" fill="#70f070" filter="url(#bl1_5)"/>
<use href="#ct1_3g" transform="translate(0 45.6)" opacity="0.52"/>
</g>
<clipPath id="ct1_4"><rect x="548" y="414.2" width="44.4" height="44.6"/></clipPath>
<g clip-path="url(#ct1_4)" id="ct1_4g">
<rect x="546" y="412.2" width="48.4" height="48.6" fill="#282828"/>
<polygon points="550.22,423.12 554.66,415.09 570.2,415.09 576.86,418.66 585.74,420.89 591.07,429.81 587.96,440.96 581.3,447.65 576.86,452.11 572.42,456.57 563.54,455.23 556.88,449.88 552.44,440.96 550.22,432.04" fill="#d2d2d2" filter="url(#bl1_6)"/>
<ellipse cx="567.98" cy="432.04" rx="5.33" ry="4.46" fill="#b0b0b0" transform="rotate(0 567.98 432.04)" filter="url(#bl2)"/>
<ellipse cx="561.32" cy="440.96" rx="3.55" ry="3.57" fill="#e6e6e6" transform="rotate(0 561.32 440.96)" filter="url(#bl1_5)"/>
<ellipse cx="579.08" cy="429.81" rx="4.44" ry="3.57" fill="#e6e6e6" transform="rotate(0 579.08 429.81)" filter="url(#bl1_5)"/>
<rect x="548" y="414.2" width="44.4" height="44.6" filter="url(#noiseOV)" style="mix-blend-mode:overlay" opacity="0.55"/>
</g>
<clipPath id="cc1_4"><rect x="548" y="459.8" width="44.4" height="44.7"/></clipPath>
<g clip-path="url(#cc1_4)">
<rect x="546" y="457.8" width="48.4" height="48.7" fill="#00d8ff"/>
<ellipse cx="588.85" cy="463.38" rx="6.22" ry="4.47" fill="#0024f0" transform="rotate(0 588.85 463.38)" filter="url(#bl2)"/>
<ellipse cx="589.29" cy="494.67" rx="4.44" ry="6.26" fill="#0024f0" transform="rotate(0 589.29 494.67)" filter="url(#bl2)"/>
<ellipse cx="552.44" cy="500.03" rx="4.44" ry="2.68" fill="#0024f0" transform="rotate(0 552.44 500.03)" filter="url(#bl1_5)"/>
<polygon points="548,468.74 552.44,459.8 572.42,459.8 578.19,462.04 587.96,465.16 592.4,475.44 590.18,487.51 582.63,495.56 578.19,500.03 573.75,504.5 561.32,503.61 554.66,497.8 550.22,488.86 548,477.68" fill="#f8f000" filter="url(#bl2)"/>
<polygon points="550.22,468.74 554.66,460.69 570.2,460.69 576.86,464.27 585.74,466.5 590.18,475.44 587.96,486.62 581.3,493.32 576.86,497.8 572.42,502.26 563.54,500.92 556.88,495.56 552.44,486.62 550.22,477.68" fill="#f01020" filter="url(#bl1_6)"/>
<use href="#ct1_4g" transform="translate(0 45.6)" opacity="0.52"/>
</g>
<clipPath id="ct1_5"><rect x="593.7" y="414.2" width="44.4" height="44.6"/></clipPath>
<g clip-path="url(#ct1_5)" id="ct1_5g">
<rect x="591.7" y="412.2" width="48.4" height="48.6" fill="#2a2a2a"/>
<polygon points="627,419.55 638.1,419.55 638.1,432.04 629.22,432.04" fill="#808080" filter="url(#bl2)"/>
<polygon points="600.36,416.43 609.24,415.09 618.12,416.43 624.78,420.89 625.67,429.81 631.44,432.04 637.21,438.73 635.88,447.65 631.44,452.11 620.34,456.57 609.24,458.8 595.92,456.57 595.92,447.65 602.58,438.73 607.02,432.04 604.8,423.12" fill="#e2e2e2" filter="url(#bl1_6)"/>
<rect x="593.7" y="414.2" width="44.4" height="44.6" filter="url(#noiseOV)" style="mix-blend-mode:overlay" opacity="0.35"/>
</g>
<clipPath id="cc1_5"><rect x="593.7" y="459.8" width="44.4" height="44.7"/></clipPath>
<g clip-path="url(#cc1_5)">
<rect x="591.7" y="457.8" width="48.4" height="48.7" fill="#f8f000"/>
<polygon points="593.7,459.8 601.69,459.8 601.69,473.21 593.7,475.44" fill="#0024f0" filter="url(#bl1_5)"/>
<polygon points="593.7,479.92 599.03,479.92 599.03,491.98 593.7,491.98" fill="#0024f0" filter="url(#bl1_5)"/>
<ellipse cx="610.57" cy="460.69" rx="3.55" ry="1.34" fill="#0024f0" transform="rotate(0 610.57 460.69)" filter="url(#bl1)"/>
<ellipse cx="624.78" cy="502.26" rx="2.66" ry="2.68" fill="#0024f0" transform="rotate(0 624.78 502.26)" filter="url(#bl1_2)"/>
<polygon points="627,459.8 638.1,459.8 638.1,486.62 629.22,482.15" fill="#70f070" filter="url(#bl2)"/>
<polygon points="600.36,462.04 609.24,460.69 618.12,462.04 624.78,466.5 625.67,475.44 631.44,477.68 637.21,484.38 635.88,493.32 631.44,497.8 620.34,502.26 609.24,504.5 595.92,502.26 595.92,493.32 602.58,484.38 607.02,477.68 604.8,468.74" fill="#f01020" filter="url(#bl1_6)"/>
<use href="#ct1_5g" transform="translate(0 45.6)" opacity="0.52"/>
</g>
<clipPath id="ct1_6"><rect x="639.4" y="414.2" width="44.4" height="44.6"/></clipPath>
<g clip-path="url(#ct1_6)" id="ct1_6g">
<rect x="637.4" y="412.2" width="48.4" height="48.6" fill="#686868"/>
<ellipse cx="660.27" cy="437.39" rx="19.09" ry="19.18" fill="#c8c8c8" transform="rotate(0 660.27 437.39)" filter="url(#bl2)"/>
<ellipse cx="674.92" cy="440.96" rx="6.22" ry="11.15" fill="#a8a8a8" transform="rotate(0 674.92 440.96)" filter="url(#bl2)"/>
<polygon points="652.72,415.09 679.36,415.09 679.36,418.66 652.72,418.66" fill="#4a4a4a" filter="url(#bl1_5)"/>
<polygon points="639.4,414.2 655.38,414.2 639.4,432.93" fill="#1a1a1a" filter="url(#bl0_4)"/>
<polygon points="639.4,414.2 652.72,414.2 639.4,430.26" fill="#ffffff" filter="url(#bl0_3)"/>
<polygon points="639.4,414.2 642.06,414.2 639.4,417.32" fill="#000000" filter="url(#bl0_2)"/>
<rect x="639.4" y="414.2" width="44.4" height="44.6" filter="url(#noiseOV)" style="mix-blend-mode:overlay" opacity="0.5"/>
</g>
<clipPath id="cc1_6"><rect x="639.4" y="459.8" width="44.4" height="44.7"/></clipPath>
<g clip-path="url(#cc1_6)">
<rect x="637.4" y="457.8" width="48.4" height="48.7" fill="#70f070"/>
<ellipse cx="661.6" cy="483.04" rx="19.54" ry="19.67" fill="#ff9000" transform="rotate(0 661.6 483.04)" filter="url(#bl2_5)"/>
<ellipse cx="660.71" cy="484.38" rx="12.43" ry="11.17" fill="#f8f000" transform="rotate(0 660.71 484.38)" filter="url(#bl3)"/>
<ellipse cx="652.72" cy="470.98" rx="6.22" ry="4.47" fill="#f01020" transform="rotate(0 652.72 470.98)" filter="url(#bl2)"/>
<ellipse cx="672.7" cy="473.21" rx="5.33" ry="5.36" fill="#f01020" transform="rotate(0 672.7 473.21)" filter="url(#bl2)"/>
<ellipse cx="648.28" cy="486.62" rx="4.44" ry="6.7" fill="#f01020" transform="rotate(0 648.28 486.62)" filter="url(#bl2)"/>
<ellipse cx="670.48" cy="495.56" rx="6.66" ry="4.47" fill="#f01020" transform="rotate(0 670.48 495.56)" filter="url(#bl2)"/>
<ellipse cx="659.38" cy="499.14" rx="5.33" ry="3.13" fill="#f01020" transform="rotate(0 659.38 499.14)" filter="url(#bl2)"/>
<ellipse cx="663.82" cy="465.16" rx="4.44" ry="2.68" fill="#f01020" transform="rotate(0 663.82 465.16)" filter="url(#bl1_5)"/>
<ellipse cx="672.7" cy="461.59" rx="6.66" ry="1.79" fill="#00d8ff" transform="rotate(0 672.7 461.59)" filter="url(#bl1_2)"/>
<polygon points="639.4,459.8 655.38,459.8 639.4,478.57" fill="#802040" filter="url(#bl0_4)"/>
<polygon points="639.4,459.8 652.72,459.8 639.4,475.89" fill="#ff8090" filter="url(#bl0_3)"/>
<polygon points="639.4,459.8 642.06,459.8 639.4,462.93" fill="#0024f0" filter="url(#bl0_2)"/>
<use href="#ct1_6g" transform="translate(0 45.6)" opacity="0.52"/>
</g>
<text x="17.6" y="436.4" font-family='"Liberation Serif", serif' font-size="7.2" font-weight="bold" text-anchor="middle" fill="#000" transform="rotate(-90 17.6 436.4)">HE Images</text>
<text x="17.6" y="482.5" font-family='"Liberation Serif", serif' font-size="7.2" font-weight="bold" text-anchor="middle" fill="#000" transform="rotate(-90 17.6 482.5)">Grad-CAM</text>
<text x="357.5" y="437.6" font-family='"Liberation Serif", serif' font-size="7.2" font-weight="bold" text-anchor="middle" fill="#000" transform="rotate(-90 357.5 437.6)">NHE Images</text>
<text x="357.5" y="482.5" font-family='"Liberation Serif", serif' font-size="7.2" font-weight="bold" text-anchor="middle" fill="#000" transform="rotate(-90 357.5 482.5)">Grad-CAM</text>
</g>
</svg>
</body></html>
